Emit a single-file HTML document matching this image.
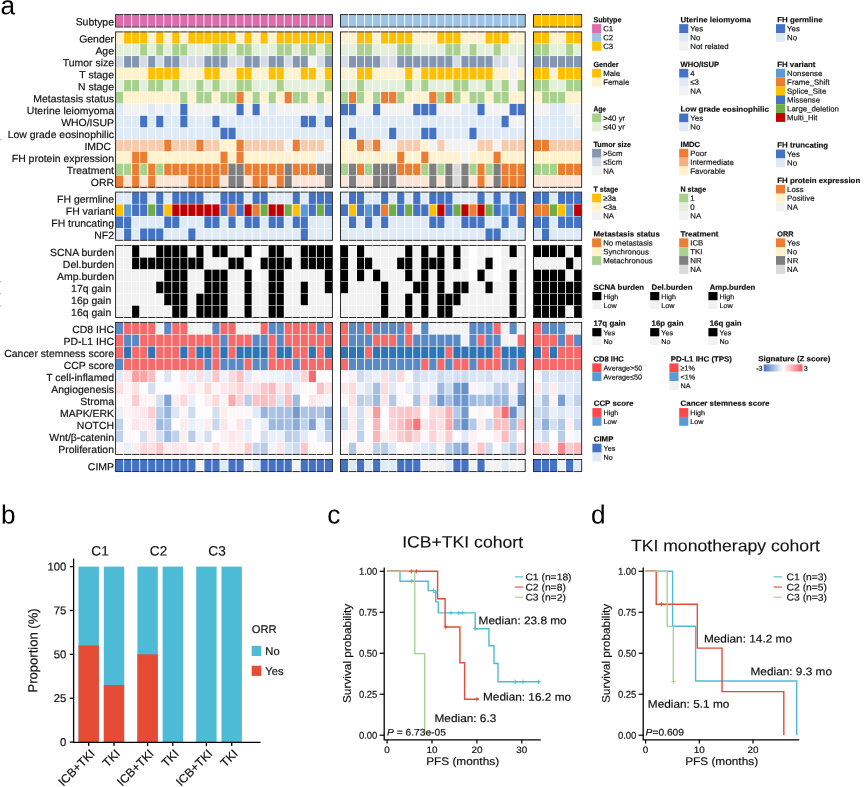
<!DOCTYPE html>
<html><head><meta charset="utf-8"><title>figure</title>
<style>html,body{margin:0;padding:0;background:#fff}svg{will-change:transform;opacity:0.999}body{width:865px;height:787px;overflow:hidden;font-family:"Liberation Sans", sans-serif}</style>
</head><body>
<svg width="865" height="787" viewBox="0 0 865 787" style="display:block;font-family:'Liberation Sans',sans-serif;text-rendering:geometricPrecision">
<rect width="865" height="787" fill="#fff"/>
<g>
<rect x="116.05" y="14.82" width="7.13" height="11.95" fill="#DD6CAD"/>
<rect x="124.08" y="14.82" width="7.13" height="11.95" fill="#DD6CAD"/>
<rect x="132.11" y="14.82" width="7.13" height="11.95" fill="#DD6CAD"/>
<rect x="140.14" y="14.82" width="7.13" height="11.95" fill="#DD6CAD"/>
<rect x="148.17" y="14.82" width="7.13" height="11.95" fill="#DD6CAD"/>
<rect x="156.20" y="14.82" width="7.13" height="11.95" fill="#DD6CAD"/>
<rect x="164.23" y="14.82" width="7.13" height="11.95" fill="#DD6CAD"/>
<rect x="172.26" y="14.82" width="7.13" height="11.95" fill="#DD6CAD"/>
<rect x="180.29" y="14.82" width="7.13" height="11.95" fill="#DD6CAD"/>
<rect x="188.32" y="14.82" width="7.13" height="11.95" fill="#DD6CAD"/>
<rect x="196.35" y="14.82" width="7.13" height="11.95" fill="#DD6CAD"/>
<rect x="204.38" y="14.82" width="7.13" height="11.95" fill="#DD6CAD"/>
<rect x="212.41" y="14.82" width="7.13" height="11.95" fill="#DD6CAD"/>
<rect x="220.44" y="14.82" width="7.13" height="11.95" fill="#DD6CAD"/>
<rect x="228.47" y="14.82" width="7.13" height="11.95" fill="#DD6CAD"/>
<rect x="236.50" y="14.82" width="7.13" height="11.95" fill="#DD6CAD"/>
<rect x="244.53" y="14.82" width="7.13" height="11.95" fill="#DD6CAD"/>
<rect x="252.56" y="14.82" width="7.13" height="11.95" fill="#DD6CAD"/>
<rect x="260.59" y="14.82" width="7.13" height="11.95" fill="#DD6CAD"/>
<rect x="268.62" y="14.82" width="7.13" height="11.95" fill="#DD6CAD"/>
<rect x="276.65" y="14.82" width="7.13" height="11.95" fill="#DD6CAD"/>
<rect x="284.68" y="14.82" width="7.13" height="11.95" fill="#DD6CAD"/>
<rect x="292.71" y="14.82" width="7.13" height="11.95" fill="#DD6CAD"/>
<rect x="300.74" y="14.82" width="7.13" height="11.95" fill="#DD6CAD"/>
<rect x="308.77" y="14.82" width="7.13" height="11.95" fill="#DD6CAD"/>
<rect x="316.80" y="14.82" width="7.13" height="11.95" fill="#DD6CAD"/>
<rect x="324.83" y="14.82" width="7.13" height="11.95" fill="#DD6CAD"/>
<rect x="340.95" y="14.82" width="7.13" height="11.95" fill="#9DC3E6"/>
<rect x="348.98" y="14.82" width="7.13" height="11.95" fill="#9DC3E6"/>
<rect x="357.01" y="14.82" width="7.13" height="11.95" fill="#9DC3E6"/>
<rect x="365.04" y="14.82" width="7.13" height="11.95" fill="#9DC3E6"/>
<rect x="373.07" y="14.82" width="7.13" height="11.95" fill="#9DC3E6"/>
<rect x="381.10" y="14.82" width="7.13" height="11.95" fill="#9DC3E6"/>
<rect x="389.13" y="14.82" width="7.13" height="11.95" fill="#9DC3E6"/>
<rect x="397.16" y="14.82" width="7.13" height="11.95" fill="#9DC3E6"/>
<rect x="405.19" y="14.82" width="7.13" height="11.95" fill="#9DC3E6"/>
<rect x="413.22" y="14.82" width="7.13" height="11.95" fill="#9DC3E6"/>
<rect x="421.25" y="14.82" width="7.13" height="11.95" fill="#9DC3E6"/>
<rect x="429.28" y="14.82" width="7.13" height="11.95" fill="#9DC3E6"/>
<rect x="437.31" y="14.82" width="7.13" height="11.95" fill="#9DC3E6"/>
<rect x="445.34" y="14.82" width="7.13" height="11.95" fill="#9DC3E6"/>
<rect x="453.37" y="14.82" width="7.13" height="11.95" fill="#9DC3E6"/>
<rect x="461.40" y="14.82" width="7.13" height="11.95" fill="#9DC3E6"/>
<rect x="469.43" y="14.82" width="7.13" height="11.95" fill="#9DC3E6"/>
<rect x="477.46" y="14.82" width="7.13" height="11.95" fill="#9DC3E6"/>
<rect x="485.49" y="14.82" width="7.13" height="11.95" fill="#9DC3E6"/>
<rect x="493.52" y="14.82" width="7.13" height="11.95" fill="#9DC3E6"/>
<rect x="501.55" y="14.82" width="7.13" height="11.95" fill="#9DC3E6"/>
<rect x="509.58" y="14.82" width="7.13" height="11.95" fill="#9DC3E6"/>
<rect x="517.61" y="14.82" width="7.13" height="11.95" fill="#9DC3E6"/>
<rect x="533.95" y="14.82" width="7.13" height="11.95" fill="#FFC000"/>
<rect x="541.98" y="14.82" width="7.13" height="11.95" fill="#FFC000"/>
<rect x="550.01" y="14.82" width="7.13" height="11.95" fill="#FFC000"/>
<rect x="558.04" y="14.82" width="7.13" height="11.95" fill="#FFC000"/>
<rect x="566.07" y="14.82" width="7.13" height="11.95" fill="#FFC000"/>
<rect x="574.10" y="14.82" width="7.13" height="11.95" fill="#FFC000"/>
<text transform="translate(114.00,25.40) rotate(0.05) scale(1.015,1)" font-size="10.3" text-anchor="end" fill="#111" stroke="#111" stroke-width="0.18">Subtype</text>
</g>
<rect x="115.60" y="14.60" width="216.81" height="12.40" fill="none" stroke="#1a1a1a" stroke-width="0.9"/>
<path d="M123.63 13.90v1.4M123.63 26.30v1.4M131.66 13.90v1.4M131.66 26.30v1.4M139.69 13.90v1.4M139.69 26.30v1.4M147.72 13.90v1.4M147.72 26.30v1.4M155.75 13.90v1.4M155.75 26.30v1.4M163.78 13.90v1.4M163.78 26.30v1.4M171.81 13.90v1.4M171.81 26.30v1.4M179.84 13.90v1.4M179.84 26.30v1.4M187.87 13.90v1.4M187.87 26.30v1.4M195.90 13.90v1.4M195.90 26.30v1.4M203.93 13.90v1.4M203.93 26.30v1.4M211.96 13.90v1.4M211.96 26.30v1.4M219.99 13.90v1.4M219.99 26.30v1.4M228.02 13.90v1.4M228.02 26.30v1.4M236.05 13.90v1.4M236.05 26.30v1.4M244.08 13.90v1.4M244.08 26.30v1.4M252.11 13.90v1.4M252.11 26.30v1.4M260.14 13.90v1.4M260.14 26.30v1.4M268.17 13.90v1.4M268.17 26.30v1.4M276.20 13.90v1.4M276.20 26.30v1.4M284.23 13.90v1.4M284.23 26.30v1.4M292.26 13.90v1.4M292.26 26.30v1.4M300.29 13.90v1.4M300.29 26.30v1.4M308.32 13.90v1.4M308.32 26.30v1.4M316.35 13.90v1.4M316.35 26.30v1.4M324.38 13.90v1.4M324.38 26.30v1.4" stroke="#fff" stroke-opacity="0.7" stroke-width="0.9" fill="none"/>
<rect x="340.50" y="14.60" width="184.69" height="12.40" fill="none" stroke="#1a1a1a" stroke-width="0.9"/>
<path d="M348.53 13.90v1.4M348.53 26.30v1.4M356.56 13.90v1.4M356.56 26.30v1.4M364.59 13.90v1.4M364.59 26.30v1.4M372.62 13.90v1.4M372.62 26.30v1.4M380.65 13.90v1.4M380.65 26.30v1.4M388.68 13.90v1.4M388.68 26.30v1.4M396.71 13.90v1.4M396.71 26.30v1.4M404.74 13.90v1.4M404.74 26.30v1.4M412.77 13.90v1.4M412.77 26.30v1.4M420.80 13.90v1.4M420.80 26.30v1.4M428.83 13.90v1.4M428.83 26.30v1.4M436.86 13.90v1.4M436.86 26.30v1.4M444.89 13.90v1.4M444.89 26.30v1.4M452.92 13.90v1.4M452.92 26.30v1.4M460.95 13.90v1.4M460.95 26.30v1.4M468.98 13.90v1.4M468.98 26.30v1.4M477.01 13.90v1.4M477.01 26.30v1.4M485.04 13.90v1.4M485.04 26.30v1.4M493.07 13.90v1.4M493.07 26.30v1.4M501.10 13.90v1.4M501.10 26.30v1.4M509.13 13.90v1.4M509.13 26.30v1.4M517.16 13.90v1.4M517.16 26.30v1.4" stroke="#fff" stroke-opacity="0.7" stroke-width="0.9" fill="none"/>
<rect x="533.50" y="14.60" width="48.18" height="12.40" fill="none" stroke="#1a1a1a" stroke-width="0.9"/>
<path d="M541.53 13.90v1.4M541.53 26.30v1.4M549.56 13.90v1.4M549.56 26.30v1.4M557.59 13.90v1.4M557.59 26.30v1.4M565.62 13.90v1.4M565.62 26.30v1.4M573.65 13.90v1.4M573.65 26.30v1.4" stroke="#fff" stroke-opacity="0.7" stroke-width="0.9" fill="none"/>
<g>
<rect x="116.05" y="32.12" width="7.13" height="11.50" fill="#FFF2CC"/>
<rect x="124.08" y="32.12" width="7.13" height="11.50" fill="#FFC000"/>
<rect x="132.11" y="32.12" width="7.13" height="11.50" fill="#FFC000"/>
<rect x="140.14" y="32.12" width="7.13" height="11.50" fill="#FFC000"/>
<rect x="148.17" y="32.12" width="7.13" height="11.50" fill="#FFF2CC"/>
<rect x="156.20" y="32.12" width="7.13" height="11.50" fill="#FFC000"/>
<rect x="164.23" y="32.12" width="7.13" height="11.50" fill="#FFF2CC"/>
<rect x="172.26" y="32.12" width="7.13" height="11.50" fill="#FFC000"/>
<rect x="180.29" y="32.12" width="7.13" height="11.50" fill="#FFF2CC"/>
<rect x="188.32" y="32.12" width="7.13" height="11.50" fill="#FFC000"/>
<rect x="196.35" y="32.12" width="7.13" height="11.50" fill="#FFC000"/>
<rect x="204.38" y="32.12" width="7.13" height="11.50" fill="#FFC000"/>
<rect x="212.41" y="32.12" width="7.13" height="11.50" fill="#FFC000"/>
<rect x="220.44" y="32.12" width="7.13" height="11.50" fill="#FFC000"/>
<rect x="228.47" y="32.12" width="7.13" height="11.50" fill="#FFC000"/>
<rect x="236.50" y="32.12" width="7.13" height="11.50" fill="#FFF2CC"/>
<rect x="244.53" y="32.12" width="7.13" height="11.50" fill="#FFC000"/>
<rect x="252.56" y="32.12" width="7.13" height="11.50" fill="#FFF2CC"/>
<rect x="260.59" y="32.12" width="7.13" height="11.50" fill="#FFC000"/>
<rect x="268.62" y="32.12" width="7.13" height="11.50" fill="#FFF2CC"/>
<rect x="276.65" y="32.12" width="7.13" height="11.50" fill="#FFC000"/>
<rect x="284.68" y="32.12" width="7.13" height="11.50" fill="#FFC000"/>
<rect x="292.71" y="32.12" width="7.13" height="11.50" fill="#FFC000"/>
<rect x="300.74" y="32.12" width="7.13" height="11.50" fill="#FFC000"/>
<rect x="308.77" y="32.12" width="7.13" height="11.50" fill="#FFC000"/>
<rect x="316.80" y="32.12" width="7.13" height="11.50" fill="#FFC000"/>
<rect x="324.83" y="32.12" width="7.13" height="11.50" fill="#FFC000"/>
<rect x="340.95" y="32.12" width="7.13" height="11.50" fill="#FFF2CC"/>
<rect x="348.98" y="32.12" width="7.13" height="11.50" fill="#FFF2CC"/>
<rect x="357.01" y="32.12" width="7.13" height="11.50" fill="#FFC000"/>
<rect x="365.04" y="32.12" width="7.13" height="11.50" fill="#FFC000"/>
<rect x="373.07" y="32.12" width="7.13" height="11.50" fill="#FFF2CC"/>
<rect x="381.10" y="32.12" width="7.13" height="11.50" fill="#FFC000"/>
<rect x="389.13" y="32.12" width="7.13" height="11.50" fill="#FFC000"/>
<rect x="397.16" y="32.12" width="7.13" height="11.50" fill="#FFC000"/>
<rect x="405.19" y="32.12" width="7.13" height="11.50" fill="#FFC000"/>
<rect x="413.22" y="32.12" width="7.13" height="11.50" fill="#FFF2CC"/>
<rect x="421.25" y="32.12" width="7.13" height="11.50" fill="#FFF2CC"/>
<rect x="429.28" y="32.12" width="7.13" height="11.50" fill="#FFF2CC"/>
<rect x="437.31" y="32.12" width="7.13" height="11.50" fill="#FFC000"/>
<rect x="445.34" y="32.12" width="7.13" height="11.50" fill="#FFC000"/>
<rect x="453.37" y="32.12" width="7.13" height="11.50" fill="#FFC000"/>
<rect x="461.40" y="32.12" width="7.13" height="11.50" fill="#FFF2CC"/>
<rect x="469.43" y="32.12" width="7.13" height="11.50" fill="#FFF2CC"/>
<rect x="477.46" y="32.12" width="7.13" height="11.50" fill="#FFF2CC"/>
<rect x="485.49" y="32.12" width="7.13" height="11.50" fill="#FFC000"/>
<rect x="493.52" y="32.12" width="7.13" height="11.50" fill="#FFC000"/>
<rect x="501.55" y="32.12" width="7.13" height="11.50" fill="#FFC000"/>
<rect x="509.58" y="32.12" width="7.13" height="11.50" fill="#FFF2CC"/>
<rect x="517.61" y="32.12" width="7.13" height="11.50" fill="#FFF2CC"/>
<rect x="533.95" y="32.12" width="7.13" height="11.50" fill="#FFC000"/>
<rect x="541.98" y="32.12" width="7.13" height="11.50" fill="#FFC000"/>
<rect x="550.01" y="32.12" width="7.13" height="11.50" fill="#FFF2CC"/>
<rect x="558.04" y="32.12" width="7.13" height="11.50" fill="#FFF2CC"/>
<rect x="566.07" y="32.12" width="7.13" height="11.50" fill="#FFC000"/>
<rect x="574.10" y="32.12" width="7.13" height="11.50" fill="#FFC000"/>
<text transform="translate(114.00,42.48) rotate(0.05) scale(1.015,1)" font-size="10.3" text-anchor="end" fill="#111" stroke="#111" stroke-width="0.18">Gender</text>
<rect x="116.05" y="44.08" width="7.13" height="11.50" fill="#E2F0D9"/>
<rect x="124.08" y="44.08" width="7.13" height="11.50" fill="#E2F0D9"/>
<rect x="132.11" y="44.08" width="7.13" height="11.50" fill="#E2F0D9"/>
<rect x="140.14" y="44.08" width="7.13" height="11.50" fill="#A9D18E"/>
<rect x="148.17" y="44.08" width="7.13" height="11.50" fill="#E2F0D9"/>
<rect x="156.20" y="44.08" width="7.13" height="11.50" fill="#A9D18E"/>
<rect x="164.23" y="44.08" width="7.13" height="11.50" fill="#E2F0D9"/>
<rect x="172.26" y="44.08" width="7.13" height="11.50" fill="#A9D18E"/>
<rect x="180.29" y="44.08" width="7.13" height="11.50" fill="#A9D18E"/>
<rect x="188.32" y="44.08" width="7.13" height="11.50" fill="#E2F0D9"/>
<rect x="196.35" y="44.08" width="7.13" height="11.50" fill="#E2F0D9"/>
<rect x="204.38" y="44.08" width="7.13" height="11.50" fill="#E2F0D9"/>
<rect x="212.41" y="44.08" width="7.13" height="11.50" fill="#A9D18E"/>
<rect x="220.44" y="44.08" width="7.13" height="11.50" fill="#A9D18E"/>
<rect x="228.47" y="44.08" width="7.13" height="11.50" fill="#E2F0D9"/>
<rect x="236.50" y="44.08" width="7.13" height="11.50" fill="#A9D18E"/>
<rect x="244.53" y="44.08" width="7.13" height="11.50" fill="#A9D18E"/>
<rect x="252.56" y="44.08" width="7.13" height="11.50" fill="#E2F0D9"/>
<rect x="260.59" y="44.08" width="7.13" height="11.50" fill="#E2F0D9"/>
<rect x="268.62" y="44.08" width="7.13" height="11.50" fill="#E2F0D9"/>
<rect x="276.65" y="44.08" width="7.13" height="11.50" fill="#A9D18E"/>
<rect x="284.68" y="44.08" width="7.13" height="11.50" fill="#A9D18E"/>
<rect x="292.71" y="44.08" width="7.13" height="11.50" fill="#E2F0D9"/>
<rect x="300.74" y="44.08" width="7.13" height="11.50" fill="#A9D18E"/>
<rect x="308.77" y="44.08" width="7.13" height="11.50" fill="#A9D18E"/>
<rect x="316.80" y="44.08" width="7.13" height="11.50" fill="#E2F0D9"/>
<rect x="324.83" y="44.08" width="7.13" height="11.50" fill="#A9D18E"/>
<rect x="340.95" y="44.08" width="7.13" height="11.50" fill="#E2F0D9"/>
<rect x="348.98" y="44.08" width="7.13" height="11.50" fill="#E2F0D9"/>
<rect x="357.01" y="44.08" width="7.13" height="11.50" fill="#A9D18E"/>
<rect x="365.04" y="44.08" width="7.13" height="11.50" fill="#A9D18E"/>
<rect x="373.07" y="44.08" width="7.13" height="11.50" fill="#E2F0D9"/>
<rect x="381.10" y="44.08" width="7.13" height="11.50" fill="#E2F0D9"/>
<rect x="389.13" y="44.08" width="7.13" height="11.50" fill="#E2F0D9"/>
<rect x="397.16" y="44.08" width="7.13" height="11.50" fill="#A9D18E"/>
<rect x="405.19" y="44.08" width="7.13" height="11.50" fill="#A9D18E"/>
<rect x="413.22" y="44.08" width="7.13" height="11.50" fill="#E2F0D9"/>
<rect x="421.25" y="44.08" width="7.13" height="11.50" fill="#E2F0D9"/>
<rect x="429.28" y="44.08" width="7.13" height="11.50" fill="#E2F0D9"/>
<rect x="437.31" y="44.08" width="7.13" height="11.50" fill="#E2F0D9"/>
<rect x="445.34" y="44.08" width="7.13" height="11.50" fill="#A9D18E"/>
<rect x="453.37" y="44.08" width="7.13" height="11.50" fill="#A9D18E"/>
<rect x="461.40" y="44.08" width="7.13" height="11.50" fill="#E2F0D9"/>
<rect x="469.43" y="44.08" width="7.13" height="11.50" fill="#A9D18E"/>
<rect x="477.46" y="44.08" width="7.13" height="11.50" fill="#E2F0D9"/>
<rect x="485.49" y="44.08" width="7.13" height="11.50" fill="#E2F0D9"/>
<rect x="493.52" y="44.08" width="7.13" height="11.50" fill="#A9D18E"/>
<rect x="501.55" y="44.08" width="7.13" height="11.50" fill="#E2F0D9"/>
<rect x="509.58" y="44.08" width="7.13" height="11.50" fill="#E2F0D9"/>
<rect x="517.61" y="44.08" width="7.13" height="11.50" fill="#E2F0D9"/>
<rect x="533.95" y="44.08" width="7.13" height="11.50" fill="#A9D18E"/>
<rect x="541.98" y="44.08" width="7.13" height="11.50" fill="#A9D18E"/>
<rect x="550.01" y="44.08" width="7.13" height="11.50" fill="#E2F0D9"/>
<rect x="558.04" y="44.08" width="7.13" height="11.50" fill="#E2F0D9"/>
<rect x="566.07" y="44.08" width="7.13" height="11.50" fill="#A9D18E"/>
<rect x="574.10" y="44.08" width="7.13" height="11.50" fill="#E2F0D9"/>
<text transform="translate(114.00,54.43) rotate(0.05) scale(1.015,1)" font-size="10.3" text-anchor="end" fill="#111" stroke="#111" stroke-width="0.18">Age</text>
<rect x="116.05" y="56.03" width="7.13" height="11.50" fill="#D6DCE5"/>
<rect x="124.08" y="56.03" width="7.13" height="11.50" fill="#8497B0"/>
<rect x="132.11" y="56.03" width="7.13" height="11.50" fill="#8497B0"/>
<rect x="140.14" y="56.03" width="7.13" height="11.50" fill="#D6DCE5"/>
<rect x="148.17" y="56.03" width="7.13" height="11.50" fill="#8497B0"/>
<rect x="156.20" y="56.03" width="7.13" height="11.50" fill="#D6DCE5"/>
<rect x="164.23" y="56.03" width="7.13" height="11.50" fill="#8497B0"/>
<rect x="172.26" y="56.03" width="7.13" height="11.50" fill="#8497B0"/>
<rect x="180.29" y="56.03" width="7.13" height="11.50" fill="#D6DCE5"/>
<rect x="188.32" y="56.03" width="7.13" height="11.50" fill="#D6DCE5"/>
<rect x="196.35" y="56.03" width="7.13" height="11.50" fill="#D6DCE5"/>
<rect x="204.38" y="56.03" width="7.13" height="11.50" fill="#8497B0"/>
<rect x="212.41" y="56.03" width="7.13" height="11.50" fill="#8497B0"/>
<rect x="220.44" y="56.03" width="7.13" height="11.50" fill="#8497B0"/>
<rect x="228.47" y="56.03" width="7.13" height="11.50" fill="#D6DCE5"/>
<rect x="236.50" y="56.03" width="7.13" height="11.50" fill="#D6DCE5"/>
<rect x="244.53" y="56.03" width="7.13" height="11.50" fill="#8497B0"/>
<rect x="252.56" y="56.03" width="7.13" height="11.50" fill="#8497B0"/>
<rect x="260.59" y="56.03" width="7.13" height="11.50" fill="#D6DCE5"/>
<rect x="268.62" y="56.03" width="7.13" height="11.50" fill="#8497B0"/>
<rect x="276.65" y="56.03" width="7.13" height="11.50" fill="#8497B0"/>
<rect x="284.68" y="56.03" width="7.13" height="11.50" fill="#D6DCE5"/>
<rect x="292.71" y="56.03" width="7.13" height="11.50" fill="#8497B0"/>
<rect x="300.74" y="56.03" width="7.13" height="11.50" fill="#8497B0"/>
<rect x="308.77" y="56.03" width="7.13" height="11.50" fill="#F2F2F2"/>
<rect x="316.80" y="56.03" width="7.13" height="11.50" fill="#D6DCE5"/>
<rect x="324.83" y="56.03" width="7.13" height="11.50" fill="#8497B0"/>
<rect x="340.95" y="56.03" width="7.13" height="11.50" fill="#D6DCE5"/>
<rect x="348.98" y="56.03" width="7.13" height="11.50" fill="#8497B0"/>
<rect x="357.01" y="56.03" width="7.13" height="11.50" fill="#8497B0"/>
<rect x="365.04" y="56.03" width="7.13" height="11.50" fill="#8497B0"/>
<rect x="373.07" y="56.03" width="7.13" height="11.50" fill="#8497B0"/>
<rect x="381.10" y="56.03" width="7.13" height="11.50" fill="#D6DCE5"/>
<rect x="389.13" y="56.03" width="7.13" height="11.50" fill="#D6DCE5"/>
<rect x="397.16" y="56.03" width="7.13" height="11.50" fill="#8497B0"/>
<rect x="405.19" y="56.03" width="7.13" height="11.50" fill="#8497B0"/>
<rect x="413.22" y="56.03" width="7.13" height="11.50" fill="#8497B0"/>
<rect x="421.25" y="56.03" width="7.13" height="11.50" fill="#8497B0"/>
<rect x="429.28" y="56.03" width="7.13" height="11.50" fill="#8497B0"/>
<rect x="437.31" y="56.03" width="7.13" height="11.50" fill="#8497B0"/>
<rect x="445.34" y="56.03" width="7.13" height="11.50" fill="#8497B0"/>
<rect x="453.37" y="56.03" width="7.13" height="11.50" fill="#D6DCE5"/>
<rect x="461.40" y="56.03" width="7.13" height="11.50" fill="#8497B0"/>
<rect x="469.43" y="56.03" width="7.13" height="11.50" fill="#8497B0"/>
<rect x="477.46" y="56.03" width="7.13" height="11.50" fill="#8497B0"/>
<rect x="485.49" y="56.03" width="7.13" height="11.50" fill="#8497B0"/>
<rect x="493.52" y="56.03" width="7.13" height="11.50" fill="#D6DCE5"/>
<rect x="501.55" y="56.03" width="7.13" height="11.50" fill="#D6DCE5"/>
<rect x="509.58" y="56.03" width="7.13" height="11.50" fill="#F2F2F2"/>
<rect x="517.61" y="56.03" width="7.13" height="11.50" fill="#D6DCE5"/>
<rect x="533.95" y="56.03" width="7.13" height="11.50" fill="#8497B0"/>
<rect x="541.98" y="56.03" width="7.13" height="11.50" fill="#8497B0"/>
<rect x="550.01" y="56.03" width="7.13" height="11.50" fill="#8497B0"/>
<rect x="558.04" y="56.03" width="7.13" height="11.50" fill="#8497B0"/>
<rect x="566.07" y="56.03" width="7.13" height="11.50" fill="#8497B0"/>
<rect x="574.10" y="56.03" width="7.13" height="11.50" fill="#8497B0"/>
<text transform="translate(114.00,66.38) rotate(0.05) scale(1.015,1)" font-size="10.3" text-anchor="end" fill="#111" stroke="#111" stroke-width="0.18">Tumor size</text>
<rect x="116.05" y="67.99" width="7.13" height="11.50" fill="#FFF2CC"/>
<rect x="124.08" y="67.99" width="7.13" height="11.50" fill="#FFF2CC"/>
<rect x="132.11" y="67.99" width="7.13" height="11.50" fill="#FFF2CC"/>
<rect x="140.14" y="67.99" width="7.13" height="11.50" fill="#FFF2CC"/>
<rect x="148.17" y="67.99" width="7.13" height="11.50" fill="#FFC000"/>
<rect x="156.20" y="67.99" width="7.13" height="11.50" fill="#FFC000"/>
<rect x="164.23" y="67.99" width="7.13" height="11.50" fill="#FFC000"/>
<rect x="172.26" y="67.99" width="7.13" height="11.50" fill="#FFC000"/>
<rect x="180.29" y="67.99" width="7.13" height="11.50" fill="#FFF2CC"/>
<rect x="188.32" y="67.99" width="7.13" height="11.50" fill="#FFF2CC"/>
<rect x="196.35" y="67.99" width="7.13" height="11.50" fill="#FFF2CC"/>
<rect x="204.38" y="67.99" width="7.13" height="11.50" fill="#FFC000"/>
<rect x="212.41" y="67.99" width="7.13" height="11.50" fill="#FFC000"/>
<rect x="220.44" y="67.99" width="7.13" height="11.50" fill="#FFF2CC"/>
<rect x="228.47" y="67.99" width="7.13" height="11.50" fill="#FFF2CC"/>
<rect x="236.50" y="67.99" width="7.13" height="11.50" fill="#FFC000"/>
<rect x="244.53" y="67.99" width="7.13" height="11.50" fill="#FFC000"/>
<rect x="252.56" y="67.99" width="7.13" height="11.50" fill="#FFF2CC"/>
<rect x="260.59" y="67.99" width="7.13" height="11.50" fill="#FFF2CC"/>
<rect x="268.62" y="67.99" width="7.13" height="11.50" fill="#FFC000"/>
<rect x="276.65" y="67.99" width="7.13" height="11.50" fill="#FFC000"/>
<rect x="284.68" y="67.99" width="7.13" height="11.50" fill="#FFF2CC"/>
<rect x="292.71" y="67.99" width="7.13" height="11.50" fill="#FFF2CC"/>
<rect x="300.74" y="67.99" width="7.13" height="11.50" fill="#FFC000"/>
<rect x="308.77" y="67.99" width="7.13" height="11.50" fill="#FFC000"/>
<rect x="316.80" y="67.99" width="7.13" height="11.50" fill="#FFF2CC"/>
<rect x="324.83" y="67.99" width="7.13" height="11.50" fill="#FFC000"/>
<rect x="340.95" y="67.99" width="7.13" height="11.50" fill="#FFF2CC"/>
<rect x="348.98" y="67.99" width="7.13" height="11.50" fill="#FFF2CC"/>
<rect x="357.01" y="67.99" width="7.13" height="11.50" fill="#FFC000"/>
<rect x="365.04" y="67.99" width="7.13" height="11.50" fill="#FFC000"/>
<rect x="373.07" y="67.99" width="7.13" height="11.50" fill="#FFF2CC"/>
<rect x="381.10" y="67.99" width="7.13" height="11.50" fill="#FFF2CC"/>
<rect x="389.13" y="67.99" width="7.13" height="11.50" fill="#FFF2CC"/>
<rect x="397.16" y="67.99" width="7.13" height="11.50" fill="#FFF2CC"/>
<rect x="405.19" y="67.99" width="7.13" height="11.50" fill="#FFC000"/>
<rect x="413.22" y="67.99" width="7.13" height="11.50" fill="#FFF2CC"/>
<rect x="421.25" y="67.99" width="7.13" height="11.50" fill="#FFC000"/>
<rect x="429.28" y="67.99" width="7.13" height="11.50" fill="#FFC000"/>
<rect x="437.31" y="67.99" width="7.13" height="11.50" fill="#FFC000"/>
<rect x="445.34" y="67.99" width="7.13" height="11.50" fill="#FFC000"/>
<rect x="453.37" y="67.99" width="7.13" height="11.50" fill="#FFC000"/>
<rect x="461.40" y="67.99" width="7.13" height="11.50" fill="#FFC000"/>
<rect x="469.43" y="67.99" width="7.13" height="11.50" fill="#FFC000"/>
<rect x="477.46" y="67.99" width="7.13" height="11.50" fill="#FFC000"/>
<rect x="485.49" y="67.99" width="7.13" height="11.50" fill="#FFC000"/>
<rect x="493.52" y="67.99" width="7.13" height="11.50" fill="#FFF2CC"/>
<rect x="501.55" y="67.99" width="7.13" height="11.50" fill="#FFF2CC"/>
<rect x="509.58" y="67.99" width="7.13" height="11.50" fill="#F2F2F2"/>
<rect x="517.61" y="67.99" width="7.13" height="11.50" fill="#FFF2CC"/>
<rect x="533.95" y="67.99" width="7.13" height="11.50" fill="#FFC000"/>
<rect x="541.98" y="67.99" width="7.13" height="11.50" fill="#FFC000"/>
<rect x="550.01" y="67.99" width="7.13" height="11.50" fill="#FFF2CC"/>
<rect x="558.04" y="67.99" width="7.13" height="11.50" fill="#FFC000"/>
<rect x="566.07" y="67.99" width="7.13" height="11.50" fill="#FFC000"/>
<rect x="574.10" y="67.99" width="7.13" height="11.50" fill="#FFC000"/>
<text transform="translate(114.00,78.34) rotate(0.05) scale(1.015,1)" font-size="10.3" text-anchor="end" fill="#111" stroke="#111" stroke-width="0.18">T stage</text>
<rect x="116.05" y="79.94" width="7.13" height="11.50" fill="#E2F0D9"/>
<rect x="124.08" y="79.94" width="7.13" height="11.50" fill="#A9D18E"/>
<rect x="132.11" y="79.94" width="7.13" height="11.50" fill="#A9D18E"/>
<rect x="140.14" y="79.94" width="7.13" height="11.50" fill="#E2F0D9"/>
<rect x="148.17" y="79.94" width="7.13" height="11.50" fill="#A9D18E"/>
<rect x="156.20" y="79.94" width="7.13" height="11.50" fill="#A9D18E"/>
<rect x="164.23" y="79.94" width="7.13" height="11.50" fill="#E2F0D9"/>
<rect x="172.26" y="79.94" width="7.13" height="11.50" fill="#A9D18E"/>
<rect x="180.29" y="79.94" width="7.13" height="11.50" fill="#E2F0D9"/>
<rect x="188.32" y="79.94" width="7.13" height="11.50" fill="#E2F0D9"/>
<rect x="196.35" y="79.94" width="7.13" height="11.50" fill="#A9D18E"/>
<rect x="204.38" y="79.94" width="7.13" height="11.50" fill="#E2F0D9"/>
<rect x="212.41" y="79.94" width="7.13" height="11.50" fill="#A9D18E"/>
<rect x="220.44" y="79.94" width="7.13" height="11.50" fill="#E2F0D9"/>
<rect x="228.47" y="79.94" width="7.13" height="11.50" fill="#E2F0D9"/>
<rect x="236.50" y="79.94" width="7.13" height="11.50" fill="#A9D18E"/>
<rect x="244.53" y="79.94" width="7.13" height="11.50" fill="#A9D18E"/>
<rect x="252.56" y="79.94" width="7.13" height="11.50" fill="#E2F0D9"/>
<rect x="260.59" y="79.94" width="7.13" height="11.50" fill="#E2F0D9"/>
<rect x="268.62" y="79.94" width="7.13" height="11.50" fill="#E2F0D9"/>
<rect x="276.65" y="79.94" width="7.13" height="11.50" fill="#A9D18E"/>
<rect x="284.68" y="79.94" width="7.13" height="11.50" fill="#E2F0D9"/>
<rect x="292.71" y="79.94" width="7.13" height="11.50" fill="#E2F0D9"/>
<rect x="300.74" y="79.94" width="7.13" height="11.50" fill="#E2F0D9"/>
<rect x="308.77" y="79.94" width="7.13" height="11.50" fill="#E2F0D9"/>
<rect x="316.80" y="79.94" width="7.13" height="11.50" fill="#E2F0D9"/>
<rect x="324.83" y="79.94" width="7.13" height="11.50" fill="#A9D18E"/>
<rect x="340.95" y="79.94" width="7.13" height="11.50" fill="#E2F0D9"/>
<rect x="348.98" y="79.94" width="7.13" height="11.50" fill="#E2F0D9"/>
<rect x="357.01" y="79.94" width="7.13" height="11.50" fill="#A9D18E"/>
<rect x="365.04" y="79.94" width="7.13" height="11.50" fill="#E2F0D9"/>
<rect x="373.07" y="79.94" width="7.13" height="11.50" fill="#E2F0D9"/>
<rect x="381.10" y="79.94" width="7.13" height="11.50" fill="#E2F0D9"/>
<rect x="389.13" y="79.94" width="7.13" height="11.50" fill="#E2F0D9"/>
<rect x="397.16" y="79.94" width="7.13" height="11.50" fill="#E2F0D9"/>
<rect x="405.19" y="79.94" width="7.13" height="11.50" fill="#A9D18E"/>
<rect x="413.22" y="79.94" width="7.13" height="11.50" fill="#E2F0D9"/>
<rect x="421.25" y="79.94" width="7.13" height="11.50" fill="#A9D18E"/>
<rect x="429.28" y="79.94" width="7.13" height="11.50" fill="#E2F0D9"/>
<rect x="437.31" y="79.94" width="7.13" height="11.50" fill="#E2F0D9"/>
<rect x="445.34" y="79.94" width="7.13" height="11.50" fill="#E2F0D9"/>
<rect x="453.37" y="79.94" width="7.13" height="11.50" fill="#A9D18E"/>
<rect x="461.40" y="79.94" width="7.13" height="11.50" fill="#A9D18E"/>
<rect x="469.43" y="79.94" width="7.13" height="11.50" fill="#E2F0D9"/>
<rect x="477.46" y="79.94" width="7.13" height="11.50" fill="#E2F0D9"/>
<rect x="485.49" y="79.94" width="7.13" height="11.50" fill="#A9D18E"/>
<rect x="493.52" y="79.94" width="7.13" height="11.50" fill="#E2F0D9"/>
<rect x="501.55" y="79.94" width="7.13" height="11.50" fill="#A9D18E"/>
<rect x="509.58" y="79.94" width="7.13" height="11.50" fill="#F2F2F2"/>
<rect x="517.61" y="79.94" width="7.13" height="11.50" fill="#A9D18E"/>
<rect x="533.95" y="79.94" width="7.13" height="11.50" fill="#A9D18E"/>
<rect x="541.98" y="79.94" width="7.13" height="11.50" fill="#A9D18E"/>
<rect x="550.01" y="79.94" width="7.13" height="11.50" fill="#E2F0D9"/>
<rect x="558.04" y="79.94" width="7.13" height="11.50" fill="#E2F0D9"/>
<rect x="566.07" y="79.94" width="7.13" height="11.50" fill="#A9D18E"/>
<rect x="574.10" y="79.94" width="7.13" height="11.50" fill="#A9D18E"/>
<text transform="translate(114.00,90.29) rotate(0.05) scale(1.015,1)" font-size="10.3" text-anchor="end" fill="#111" stroke="#111" stroke-width="0.18">N stage</text>
<rect x="116.05" y="91.89" width="7.13" height="11.50" fill="#A9D18E"/>
<rect x="124.08" y="91.89" width="7.13" height="11.50" fill="#FFF2CC"/>
<rect x="132.11" y="91.89" width="7.13" height="11.50" fill="#FFF2CC"/>
<rect x="140.14" y="91.89" width="7.13" height="11.50" fill="#FFF2CC"/>
<rect x="148.17" y="91.89" width="7.13" height="11.50" fill="#FFF2CC"/>
<rect x="156.20" y="91.89" width="7.13" height="11.50" fill="#FFF2CC"/>
<rect x="164.23" y="91.89" width="7.13" height="11.50" fill="#FFF2CC"/>
<rect x="172.26" y="91.89" width="7.13" height="11.50" fill="#FFF2CC"/>
<rect x="180.29" y="91.89" width="7.13" height="11.50" fill="#A9D18E"/>
<rect x="188.32" y="91.89" width="7.13" height="11.50" fill="#FFF2CC"/>
<rect x="196.35" y="91.89" width="7.13" height="11.50" fill="#A9D18E"/>
<rect x="204.38" y="91.89" width="7.13" height="11.50" fill="#A9D18E"/>
<rect x="212.41" y="91.89" width="7.13" height="11.50" fill="#FFF2CC"/>
<rect x="220.44" y="91.89" width="7.13" height="11.50" fill="#A9D18E"/>
<rect x="228.47" y="91.89" width="7.13" height="11.50" fill="#A9D18E"/>
<rect x="236.50" y="91.89" width="7.13" height="11.50" fill="#ED7D31"/>
<rect x="244.53" y="91.89" width="7.13" height="11.50" fill="#FFF2CC"/>
<rect x="252.56" y="91.89" width="7.13" height="11.50" fill="#A9D18E"/>
<rect x="260.59" y="91.89" width="7.13" height="11.50" fill="#FFF2CC"/>
<rect x="268.62" y="91.89" width="7.13" height="11.50" fill="#A9D18E"/>
<rect x="276.65" y="91.89" width="7.13" height="11.50" fill="#FFF2CC"/>
<rect x="284.68" y="91.89" width="7.13" height="11.50" fill="#ED7D31"/>
<rect x="292.71" y="91.89" width="7.13" height="11.50" fill="#A9D18E"/>
<rect x="300.74" y="91.89" width="7.13" height="11.50" fill="#A9D18E"/>
<rect x="308.77" y="91.89" width="7.13" height="11.50" fill="#FFF2CC"/>
<rect x="316.80" y="91.89" width="7.13" height="11.50" fill="#A9D18E"/>
<rect x="324.83" y="91.89" width="7.13" height="11.50" fill="#FFF2CC"/>
<rect x="340.95" y="91.89" width="7.13" height="11.50" fill="#A9D18E"/>
<rect x="348.98" y="91.89" width="7.13" height="11.50" fill="#ED7D31"/>
<rect x="357.01" y="91.89" width="7.13" height="11.50" fill="#A9D18E"/>
<rect x="365.04" y="91.89" width="7.13" height="11.50" fill="#FFF2CC"/>
<rect x="373.07" y="91.89" width="7.13" height="11.50" fill="#A9D18E"/>
<rect x="381.10" y="91.89" width="7.13" height="11.50" fill="#ED7D31"/>
<rect x="389.13" y="91.89" width="7.13" height="11.50" fill="#ED7D31"/>
<rect x="397.16" y="91.89" width="7.13" height="11.50" fill="#A9D18E"/>
<rect x="405.19" y="91.89" width="7.13" height="11.50" fill="#FFF2CC"/>
<rect x="413.22" y="91.89" width="7.13" height="11.50" fill="#FFF2CC"/>
<rect x="421.25" y="91.89" width="7.13" height="11.50" fill="#FFF2CC"/>
<rect x="429.28" y="91.89" width="7.13" height="11.50" fill="#ED7D31"/>
<rect x="437.31" y="91.89" width="7.13" height="11.50" fill="#A9D18E"/>
<rect x="445.34" y="91.89" width="7.13" height="11.50" fill="#ED7D31"/>
<rect x="453.37" y="91.89" width="7.13" height="11.50" fill="#A9D18E"/>
<rect x="461.40" y="91.89" width="7.13" height="11.50" fill="#FFF2CC"/>
<rect x="469.43" y="91.89" width="7.13" height="11.50" fill="#A9D18E"/>
<rect x="477.46" y="91.89" width="7.13" height="11.50" fill="#A9D18E"/>
<rect x="485.49" y="91.89" width="7.13" height="11.50" fill="#FFF2CC"/>
<rect x="493.52" y="91.89" width="7.13" height="11.50" fill="#A9D18E"/>
<rect x="501.55" y="91.89" width="7.13" height="11.50" fill="#A9D18E"/>
<rect x="509.58" y="91.89" width="7.13" height="11.50" fill="#FFF2CC"/>
<rect x="517.61" y="91.89" width="7.13" height="11.50" fill="#FFF2CC"/>
<rect x="533.95" y="91.89" width="7.13" height="11.50" fill="#FFF2CC"/>
<rect x="541.98" y="91.89" width="7.13" height="11.50" fill="#A9D18E"/>
<rect x="550.01" y="91.89" width="7.13" height="11.50" fill="#A9D18E"/>
<rect x="558.04" y="91.89" width="7.13" height="11.50" fill="#A9D18E"/>
<rect x="566.07" y="91.89" width="7.13" height="11.50" fill="#FFF2CC"/>
<rect x="574.10" y="91.89" width="7.13" height="11.50" fill="#FFF2CC"/>
<text transform="translate(114.00,102.25) rotate(0.05) scale(1.015,1)" font-size="10.3" text-anchor="end" fill="#111" stroke="#111" stroke-width="0.18">Metastasis status</text>
<rect x="116.05" y="103.85" width="7.13" height="11.50" fill="#DEEBF7"/>
<rect x="124.08" y="103.85" width="7.13" height="11.50" fill="#F2F2F2"/>
<rect x="132.11" y="103.85" width="7.13" height="11.50" fill="#F2F2F2"/>
<rect x="140.14" y="103.85" width="7.13" height="11.50" fill="#F2F2F2"/>
<rect x="148.17" y="103.85" width="7.13" height="11.50" fill="#DEEBF7"/>
<rect x="156.20" y="103.85" width="7.13" height="11.50" fill="#F2F2F2"/>
<rect x="164.23" y="103.85" width="7.13" height="11.50" fill="#DEEBF7"/>
<rect x="172.26" y="103.85" width="7.13" height="11.50" fill="#F2F2F2"/>
<rect x="180.29" y="103.85" width="7.13" height="11.50" fill="#4472C4"/>
<rect x="188.32" y="103.85" width="7.13" height="11.50" fill="#F2F2F2"/>
<rect x="196.35" y="103.85" width="7.13" height="11.50" fill="#F2F2F2"/>
<rect x="204.38" y="103.85" width="7.13" height="11.50" fill="#F2F2F2"/>
<rect x="212.41" y="103.85" width="7.13" height="11.50" fill="#F2F2F2"/>
<rect x="220.44" y="103.85" width="7.13" height="11.50" fill="#F2F2F2"/>
<rect x="228.47" y="103.85" width="7.13" height="11.50" fill="#F2F2F2"/>
<rect x="236.50" y="103.85" width="7.13" height="11.50" fill="#4472C4"/>
<rect x="244.53" y="103.85" width="7.13" height="11.50" fill="#F2F2F2"/>
<rect x="252.56" y="103.85" width="7.13" height="11.50" fill="#4472C4"/>
<rect x="260.59" y="103.85" width="7.13" height="11.50" fill="#F2F2F2"/>
<rect x="268.62" y="103.85" width="7.13" height="11.50" fill="#DEEBF7"/>
<rect x="276.65" y="103.85" width="7.13" height="11.50" fill="#F2F2F2"/>
<rect x="284.68" y="103.85" width="7.13" height="11.50" fill="#F2F2F2"/>
<rect x="292.71" y="103.85" width="7.13" height="11.50" fill="#F2F2F2"/>
<rect x="300.74" y="103.85" width="7.13" height="11.50" fill="#F2F2F2"/>
<rect x="308.77" y="103.85" width="7.13" height="11.50" fill="#F2F2F2"/>
<rect x="316.80" y="103.85" width="7.13" height="11.50" fill="#DEEBF7"/>
<rect x="324.83" y="103.85" width="7.13" height="11.50" fill="#F2F2F2"/>
<rect x="340.95" y="103.85" width="7.13" height="11.50" fill="#4472C4"/>
<rect x="348.98" y="103.85" width="7.13" height="11.50" fill="#4472C4"/>
<rect x="357.01" y="103.85" width="7.13" height="11.50" fill="#F2F2F2"/>
<rect x="365.04" y="103.85" width="7.13" height="11.50" fill="#F2F2F2"/>
<rect x="373.07" y="103.85" width="7.13" height="11.50" fill="#4472C4"/>
<rect x="381.10" y="103.85" width="7.13" height="11.50" fill="#F2F2F2"/>
<rect x="389.13" y="103.85" width="7.13" height="11.50" fill="#F2F2F2"/>
<rect x="397.16" y="103.85" width="7.13" height="11.50" fill="#F2F2F2"/>
<rect x="405.19" y="103.85" width="7.13" height="11.50" fill="#F2F2F2"/>
<rect x="413.22" y="103.85" width="7.13" height="11.50" fill="#4472C4"/>
<rect x="421.25" y="103.85" width="7.13" height="11.50" fill="#4472C4"/>
<rect x="429.28" y="103.85" width="7.13" height="11.50" fill="#4472C4"/>
<rect x="437.31" y="103.85" width="7.13" height="11.50" fill="#F2F2F2"/>
<rect x="445.34" y="103.85" width="7.13" height="11.50" fill="#F2F2F2"/>
<rect x="453.37" y="103.85" width="7.13" height="11.50" fill="#F2F2F2"/>
<rect x="461.40" y="103.85" width="7.13" height="11.50" fill="#DEEBF7"/>
<rect x="469.43" y="103.85" width="7.13" height="11.50" fill="#DEEBF7"/>
<rect x="477.46" y="103.85" width="7.13" height="11.50" fill="#4472C4"/>
<rect x="485.49" y="103.85" width="7.13" height="11.50" fill="#F2F2F2"/>
<rect x="493.52" y="103.85" width="7.13" height="11.50" fill="#F2F2F2"/>
<rect x="501.55" y="103.85" width="7.13" height="11.50" fill="#F2F2F2"/>
<rect x="509.58" y="103.85" width="7.13" height="11.50" fill="#4472C4"/>
<rect x="517.61" y="103.85" width="7.13" height="11.50" fill="#4472C4"/>
<rect x="533.95" y="103.85" width="7.13" height="11.50" fill="#F2F2F2"/>
<rect x="541.98" y="103.85" width="7.13" height="11.50" fill="#F2F2F2"/>
<rect x="550.01" y="103.85" width="7.13" height="11.50" fill="#DEEBF7"/>
<rect x="558.04" y="103.85" width="7.13" height="11.50" fill="#DEEBF7"/>
<rect x="566.07" y="103.85" width="7.13" height="11.50" fill="#F2F2F2"/>
<rect x="574.10" y="103.85" width="7.13" height="11.50" fill="#F2F2F2"/>
<text transform="translate(114.00,114.20) rotate(0.05) scale(1.015,1)" font-size="10.3" text-anchor="end" fill="#111" stroke="#111" stroke-width="0.18">Uterine leiomyoma</text>
<rect x="116.05" y="115.80" width="7.13" height="11.50" fill="#DEEBF7"/>
<rect x="124.08" y="115.80" width="7.13" height="11.50" fill="#DEEBF7"/>
<rect x="132.11" y="115.80" width="7.13" height="11.50" fill="#DEEBF7"/>
<rect x="140.14" y="115.80" width="7.13" height="11.50" fill="#4472C4"/>
<rect x="148.17" y="115.80" width="7.13" height="11.50" fill="#DEEBF7"/>
<rect x="156.20" y="115.80" width="7.13" height="11.50" fill="#4472C4"/>
<rect x="164.23" y="115.80" width="7.13" height="11.50" fill="#DEEBF7"/>
<rect x="172.26" y="115.80" width="7.13" height="11.50" fill="#DEEBF7"/>
<rect x="180.29" y="115.80" width="7.13" height="11.50" fill="#4472C4"/>
<rect x="188.32" y="115.80" width="7.13" height="11.50" fill="#DEEBF7"/>
<rect x="196.35" y="115.80" width="7.13" height="11.50" fill="#DEEBF7"/>
<rect x="204.38" y="115.80" width="7.13" height="11.50" fill="#DEEBF7"/>
<rect x="212.41" y="115.80" width="7.13" height="11.50" fill="#4472C4"/>
<rect x="220.44" y="115.80" width="7.13" height="11.50" fill="#DEEBF7"/>
<rect x="228.47" y="115.80" width="7.13" height="11.50" fill="#DEEBF7"/>
<rect x="236.50" y="115.80" width="7.13" height="11.50" fill="#DEEBF7"/>
<rect x="244.53" y="115.80" width="7.13" height="11.50" fill="#DEEBF7"/>
<rect x="252.56" y="115.80" width="7.13" height="11.50" fill="#DEEBF7"/>
<rect x="260.59" y="115.80" width="7.13" height="11.50" fill="#DEEBF7"/>
<rect x="268.62" y="115.80" width="7.13" height="11.50" fill="#DEEBF7"/>
<rect x="276.65" y="115.80" width="7.13" height="11.50" fill="#DEEBF7"/>
<rect x="284.68" y="115.80" width="7.13" height="11.50" fill="#DEEBF7"/>
<rect x="292.71" y="115.80" width="7.13" height="11.50" fill="#DEEBF7"/>
<rect x="300.74" y="115.80" width="7.13" height="11.50" fill="#4472C4"/>
<rect x="308.77" y="115.80" width="7.13" height="11.50" fill="#4472C4"/>
<rect x="316.80" y="115.80" width="7.13" height="11.50" fill="#DEEBF7"/>
<rect x="324.83" y="115.80" width="7.13" height="11.50" fill="#4472C4"/>
<rect x="340.95" y="115.80" width="7.13" height="11.50" fill="#DEEBF7"/>
<rect x="348.98" y="115.80" width="7.13" height="11.50" fill="#DEEBF7"/>
<rect x="357.01" y="115.80" width="7.13" height="11.50" fill="#DEEBF7"/>
<rect x="365.04" y="115.80" width="7.13" height="11.50" fill="#DEEBF7"/>
<rect x="373.07" y="115.80" width="7.13" height="11.50" fill="#DEEBF7"/>
<rect x="381.10" y="115.80" width="7.13" height="11.50" fill="#DEEBF7"/>
<rect x="389.13" y="115.80" width="7.13" height="11.50" fill="#DEEBF7"/>
<rect x="397.16" y="115.80" width="7.13" height="11.50" fill="#DEEBF7"/>
<rect x="405.19" y="115.80" width="7.13" height="11.50" fill="#DEEBF7"/>
<rect x="413.22" y="115.80" width="7.13" height="11.50" fill="#DEEBF7"/>
<rect x="421.25" y="115.80" width="7.13" height="11.50" fill="#DEEBF7"/>
<rect x="429.28" y="115.80" width="7.13" height="11.50" fill="#DEEBF7"/>
<rect x="437.31" y="115.80" width="7.13" height="11.50" fill="#DEEBF7"/>
<rect x="445.34" y="115.80" width="7.13" height="11.50" fill="#DEEBF7"/>
<rect x="453.37" y="115.80" width="7.13" height="11.50" fill="#DEEBF7"/>
<rect x="461.40" y="115.80" width="7.13" height="11.50" fill="#DEEBF7"/>
<rect x="469.43" y="115.80" width="7.13" height="11.50" fill="#DEEBF7"/>
<rect x="477.46" y="115.80" width="7.13" height="11.50" fill="#DEEBF7"/>
<rect x="485.49" y="115.80" width="7.13" height="11.50" fill="#DEEBF7"/>
<rect x="493.52" y="115.80" width="7.13" height="11.50" fill="#DEEBF7"/>
<rect x="501.55" y="115.80" width="7.13" height="11.50" fill="#4472C4"/>
<rect x="509.58" y="115.80" width="7.13" height="11.50" fill="#F2F2F2"/>
<rect x="517.61" y="115.80" width="7.13" height="11.50" fill="#F2F2F2"/>
<rect x="533.95" y="115.80" width="7.13" height="11.50" fill="#DEEBF7"/>
<rect x="541.98" y="115.80" width="7.13" height="11.50" fill="#DEEBF7"/>
<rect x="550.01" y="115.80" width="7.13" height="11.50" fill="#DEEBF7"/>
<rect x="558.04" y="115.80" width="7.13" height="11.50" fill="#DEEBF7"/>
<rect x="566.07" y="115.80" width="7.13" height="11.50" fill="#DEEBF7"/>
<rect x="574.10" y="115.80" width="7.13" height="11.50" fill="#F2F2F2"/>
<text transform="translate(114.00,126.15) rotate(0.05) scale(1.015,1)" font-size="10.3" text-anchor="end" fill="#111" stroke="#111" stroke-width="0.18">WHO/ISUP</text>
<rect x="116.05" y="127.76" width="7.13" height="11.50" fill="#DEEBF7"/>
<rect x="124.08" y="127.76" width="7.13" height="11.50" fill="#DEEBF7"/>
<rect x="132.11" y="127.76" width="7.13" height="11.50" fill="#DEEBF7"/>
<rect x="140.14" y="127.76" width="7.13" height="11.50" fill="#DEEBF7"/>
<rect x="148.17" y="127.76" width="7.13" height="11.50" fill="#DEEBF7"/>
<rect x="156.20" y="127.76" width="7.13" height="11.50" fill="#DEEBF7"/>
<rect x="164.23" y="127.76" width="7.13" height="11.50" fill="#DEEBF7"/>
<rect x="172.26" y="127.76" width="7.13" height="11.50" fill="#DEEBF7"/>
<rect x="180.29" y="127.76" width="7.13" height="11.50" fill="#DEEBF7"/>
<rect x="188.32" y="127.76" width="7.13" height="11.50" fill="#DEEBF7"/>
<rect x="196.35" y="127.76" width="7.13" height="11.50" fill="#DEEBF7"/>
<rect x="204.38" y="127.76" width="7.13" height="11.50" fill="#DEEBF7"/>
<rect x="212.41" y="127.76" width="7.13" height="11.50" fill="#DEEBF7"/>
<rect x="220.44" y="127.76" width="7.13" height="11.50" fill="#4472C4"/>
<rect x="228.47" y="127.76" width="7.13" height="11.50" fill="#4472C4"/>
<rect x="236.50" y="127.76" width="7.13" height="11.50" fill="#DEEBF7"/>
<rect x="244.53" y="127.76" width="7.13" height="11.50" fill="#DEEBF7"/>
<rect x="252.56" y="127.76" width="7.13" height="11.50" fill="#DEEBF7"/>
<rect x="260.59" y="127.76" width="7.13" height="11.50" fill="#DEEBF7"/>
<rect x="268.62" y="127.76" width="7.13" height="11.50" fill="#DEEBF7"/>
<rect x="276.65" y="127.76" width="7.13" height="11.50" fill="#DEEBF7"/>
<rect x="284.68" y="127.76" width="7.13" height="11.50" fill="#DEEBF7"/>
<rect x="292.71" y="127.76" width="7.13" height="11.50" fill="#DEEBF7"/>
<rect x="300.74" y="127.76" width="7.13" height="11.50" fill="#DEEBF7"/>
<rect x="308.77" y="127.76" width="7.13" height="11.50" fill="#DEEBF7"/>
<rect x="316.80" y="127.76" width="7.13" height="11.50" fill="#DEEBF7"/>
<rect x="324.83" y="127.76" width="7.13" height="11.50" fill="#DEEBF7"/>
<rect x="340.95" y="127.76" width="7.13" height="11.50" fill="#DEEBF7"/>
<rect x="348.98" y="127.76" width="7.13" height="11.50" fill="#4472C4"/>
<rect x="357.01" y="127.76" width="7.13" height="11.50" fill="#DEEBF7"/>
<rect x="365.04" y="127.76" width="7.13" height="11.50" fill="#DEEBF7"/>
<rect x="373.07" y="127.76" width="7.13" height="11.50" fill="#DEEBF7"/>
<rect x="381.10" y="127.76" width="7.13" height="11.50" fill="#DEEBF7"/>
<rect x="389.13" y="127.76" width="7.13" height="11.50" fill="#4472C4"/>
<rect x="397.16" y="127.76" width="7.13" height="11.50" fill="#DEEBF7"/>
<rect x="405.19" y="127.76" width="7.13" height="11.50" fill="#DEEBF7"/>
<rect x="413.22" y="127.76" width="7.13" height="11.50" fill="#DEEBF7"/>
<rect x="421.25" y="127.76" width="7.13" height="11.50" fill="#4472C4"/>
<rect x="429.28" y="127.76" width="7.13" height="11.50" fill="#4472C4"/>
<rect x="437.31" y="127.76" width="7.13" height="11.50" fill="#DEEBF7"/>
<rect x="445.34" y="127.76" width="7.13" height="11.50" fill="#DEEBF7"/>
<rect x="453.37" y="127.76" width="7.13" height="11.50" fill="#DEEBF7"/>
<rect x="461.40" y="127.76" width="7.13" height="11.50" fill="#DEEBF7"/>
<rect x="469.43" y="127.76" width="7.13" height="11.50" fill="#4472C4"/>
<rect x="477.46" y="127.76" width="7.13" height="11.50" fill="#DEEBF7"/>
<rect x="485.49" y="127.76" width="7.13" height="11.50" fill="#DEEBF7"/>
<rect x="493.52" y="127.76" width="7.13" height="11.50" fill="#DEEBF7"/>
<rect x="501.55" y="127.76" width="7.13" height="11.50" fill="#DEEBF7"/>
<rect x="509.58" y="127.76" width="7.13" height="11.50" fill="#DEEBF7"/>
<rect x="517.61" y="127.76" width="7.13" height="11.50" fill="#DEEBF7"/>
<rect x="533.95" y="127.76" width="7.13" height="11.50" fill="#DEEBF7"/>
<rect x="541.98" y="127.76" width="7.13" height="11.50" fill="#DEEBF7"/>
<rect x="550.01" y="127.76" width="7.13" height="11.50" fill="#DEEBF7"/>
<rect x="558.04" y="127.76" width="7.13" height="11.50" fill="#DEEBF7"/>
<rect x="566.07" y="127.76" width="7.13" height="11.50" fill="#DEEBF7"/>
<rect x="574.10" y="127.76" width="7.13" height="11.50" fill="#DEEBF7"/>
<text transform="translate(114.00,138.11) rotate(0.05) scale(1.015,1)" font-size="10.3" text-anchor="end" fill="#111" stroke="#111" stroke-width="0.18">Low grade eosinophilic</text>
<rect x="116.05" y="139.71" width="7.13" height="11.50" fill="#F8CBAD"/>
<rect x="124.08" y="139.71" width="7.13" height="11.50" fill="#F8CBAD"/>
<rect x="132.11" y="139.71" width="7.13" height="11.50" fill="#F8CBAD"/>
<rect x="140.14" y="139.71" width="7.13" height="11.50" fill="#F8CBAD"/>
<rect x="148.17" y="139.71" width="7.13" height="11.50" fill="#F8CBAD"/>
<rect x="156.20" y="139.71" width="7.13" height="11.50" fill="#F8CBAD"/>
<rect x="164.23" y="139.71" width="7.13" height="11.50" fill="#ED7D31"/>
<rect x="172.26" y="139.71" width="7.13" height="11.50" fill="#F8CBAD"/>
<rect x="180.29" y="139.71" width="7.13" height="11.50" fill="#F8CBAD"/>
<rect x="188.32" y="139.71" width="7.13" height="11.50" fill="#F8CBAD"/>
<rect x="196.35" y="139.71" width="7.13" height="11.50" fill="#ED7D31"/>
<rect x="204.38" y="139.71" width="7.13" height="11.50" fill="#F8CBAD"/>
<rect x="212.41" y="139.71" width="7.13" height="11.50" fill="#F8CBAD"/>
<rect x="220.44" y="139.71" width="7.13" height="11.50" fill="#FFF2CC"/>
<rect x="228.47" y="139.71" width="7.13" height="11.50" fill="#FFF2CC"/>
<rect x="236.50" y="139.71" width="7.13" height="11.50" fill="#ED7D31"/>
<rect x="244.53" y="139.71" width="7.13" height="11.50" fill="#F8CBAD"/>
<rect x="252.56" y="139.71" width="7.13" height="11.50" fill="#F8CBAD"/>
<rect x="260.59" y="139.71" width="7.13" height="11.50" fill="#F8CBAD"/>
<rect x="268.62" y="139.71" width="7.13" height="11.50" fill="#F8CBAD"/>
<rect x="276.65" y="139.71" width="7.13" height="11.50" fill="#F8CBAD"/>
<rect x="284.68" y="139.71" width="7.13" height="11.50" fill="#F2F2F2"/>
<rect x="292.71" y="139.71" width="7.13" height="11.50" fill="#ED7D31"/>
<rect x="300.74" y="139.71" width="7.13" height="11.50" fill="#F8CBAD"/>
<rect x="308.77" y="139.71" width="7.13" height="11.50" fill="#F8CBAD"/>
<rect x="316.80" y="139.71" width="7.13" height="11.50" fill="#F8CBAD"/>
<rect x="324.83" y="139.71" width="7.13" height="11.50" fill="#F2F2F2"/>
<rect x="340.95" y="139.71" width="7.13" height="11.50" fill="#FFF2CC"/>
<rect x="348.98" y="139.71" width="7.13" height="11.50" fill="#FFF2CC"/>
<rect x="357.01" y="139.71" width="7.13" height="11.50" fill="#ED7D31"/>
<rect x="365.04" y="139.71" width="7.13" height="11.50" fill="#F8CBAD"/>
<rect x="373.07" y="139.71" width="7.13" height="11.50" fill="#ED7D31"/>
<rect x="381.10" y="139.71" width="7.13" height="11.50" fill="#F2F2F2"/>
<rect x="389.13" y="139.71" width="7.13" height="11.50" fill="#F2F2F2"/>
<rect x="397.16" y="139.71" width="7.13" height="11.50" fill="#F8CBAD"/>
<rect x="405.19" y="139.71" width="7.13" height="11.50" fill="#F8CBAD"/>
<rect x="413.22" y="139.71" width="7.13" height="11.50" fill="#F8CBAD"/>
<rect x="421.25" y="139.71" width="7.13" height="11.50" fill="#FFF2CC"/>
<rect x="429.28" y="139.71" width="7.13" height="11.50" fill="#F2F2F2"/>
<rect x="437.31" y="139.71" width="7.13" height="11.50" fill="#F8CBAD"/>
<rect x="445.34" y="139.71" width="7.13" height="11.50" fill="#F2F2F2"/>
<rect x="453.37" y="139.71" width="7.13" height="11.50" fill="#F2F2F2"/>
<rect x="461.40" y="139.71" width="7.13" height="11.50" fill="#F2F2F2"/>
<rect x="469.43" y="139.71" width="7.13" height="11.50" fill="#F2F2F2"/>
<rect x="477.46" y="139.71" width="7.13" height="11.50" fill="#F8CBAD"/>
<rect x="485.49" y="139.71" width="7.13" height="11.50" fill="#F8CBAD"/>
<rect x="493.52" y="139.71" width="7.13" height="11.50" fill="#F2F2F2"/>
<rect x="501.55" y="139.71" width="7.13" height="11.50" fill="#F8CBAD"/>
<rect x="509.58" y="139.71" width="7.13" height="11.50" fill="#F8CBAD"/>
<rect x="517.61" y="139.71" width="7.13" height="11.50" fill="#F8CBAD"/>
<rect x="533.95" y="139.71" width="7.13" height="11.50" fill="#ED7D31"/>
<rect x="541.98" y="139.71" width="7.13" height="11.50" fill="#ED7D31"/>
<rect x="550.01" y="139.71" width="7.13" height="11.50" fill="#F8CBAD"/>
<rect x="558.04" y="139.71" width="7.13" height="11.50" fill="#F8CBAD"/>
<rect x="566.07" y="139.71" width="7.13" height="11.50" fill="#F8CBAD"/>
<rect x="574.10" y="139.71" width="7.13" height="11.50" fill="#F8CBAD"/>
<text transform="translate(111.10,150.06) rotate(0.05) scale(1.015,1)" font-size="10.3" text-anchor="end" fill="#111" stroke="#111" stroke-width="0.18">IMDC</text>
<rect x="116.05" y="151.66" width="7.13" height="11.50" fill="#FFF2CC"/>
<rect x="124.08" y="151.66" width="7.13" height="11.50" fill="#FFF2CC"/>
<rect x="132.11" y="151.66" width="7.13" height="11.50" fill="#ED7D31"/>
<rect x="140.14" y="151.66" width="7.13" height="11.50" fill="#ED7D31"/>
<rect x="148.17" y="151.66" width="7.13" height="11.50" fill="#FFF2CC"/>
<rect x="156.20" y="151.66" width="7.13" height="11.50" fill="#FFF2CC"/>
<rect x="164.23" y="151.66" width="7.13" height="11.50" fill="#FFF2CC"/>
<rect x="172.26" y="151.66" width="7.13" height="11.50" fill="#FFF2CC"/>
<rect x="180.29" y="151.66" width="7.13" height="11.50" fill="#FFF2CC"/>
<rect x="188.32" y="151.66" width="7.13" height="11.50" fill="#FFF2CC"/>
<rect x="196.35" y="151.66" width="7.13" height="11.50" fill="#FFF2CC"/>
<rect x="204.38" y="151.66" width="7.13" height="11.50" fill="#FFF2CC"/>
<rect x="212.41" y="151.66" width="7.13" height="11.50" fill="#FFF2CC"/>
<rect x="220.44" y="151.66" width="7.13" height="11.50" fill="#ED7D31"/>
<rect x="228.47" y="151.66" width="7.13" height="11.50" fill="#FFF2CC"/>
<rect x="236.50" y="151.66" width="7.13" height="11.50" fill="#ED7D31"/>
<rect x="244.53" y="151.66" width="7.13" height="11.50" fill="#FFF2CC"/>
<rect x="252.56" y="151.66" width="7.13" height="11.50" fill="#FFF2CC"/>
<rect x="260.59" y="151.66" width="7.13" height="11.50" fill="#FFF2CC"/>
<rect x="268.62" y="151.66" width="7.13" height="11.50" fill="#FFF2CC"/>
<rect x="276.65" y="151.66" width="7.13" height="11.50" fill="#FFF2CC"/>
<rect x="284.68" y="151.66" width="7.13" height="11.50" fill="#FFF2CC"/>
<rect x="292.71" y="151.66" width="7.13" height="11.50" fill="#FFF2CC"/>
<rect x="300.74" y="151.66" width="7.13" height="11.50" fill="#FFF2CC"/>
<rect x="308.77" y="151.66" width="7.13" height="11.50" fill="#FFF2CC"/>
<rect x="316.80" y="151.66" width="7.13" height="11.50" fill="#F2F2F2"/>
<rect x="324.83" y="151.66" width="7.13" height="11.50" fill="#F2F2F2"/>
<rect x="340.95" y="151.66" width="7.13" height="11.50" fill="#FFF2CC"/>
<rect x="348.98" y="151.66" width="7.13" height="11.50" fill="#FFF2CC"/>
<rect x="357.01" y="151.66" width="7.13" height="11.50" fill="#FFF2CC"/>
<rect x="365.04" y="151.66" width="7.13" height="11.50" fill="#FFF2CC"/>
<rect x="373.07" y="151.66" width="7.13" height="11.50" fill="#FFF2CC"/>
<rect x="381.10" y="151.66" width="7.13" height="11.50" fill="#FFF2CC"/>
<rect x="389.13" y="151.66" width="7.13" height="11.50" fill="#FFF2CC"/>
<rect x="397.16" y="151.66" width="7.13" height="11.50" fill="#ED7D31"/>
<rect x="405.19" y="151.66" width="7.13" height="11.50" fill="#FFF2CC"/>
<rect x="413.22" y="151.66" width="7.13" height="11.50" fill="#FFF2CC"/>
<rect x="421.25" y="151.66" width="7.13" height="11.50" fill="#ED7D31"/>
<rect x="429.28" y="151.66" width="7.13" height="11.50" fill="#FFF2CC"/>
<rect x="437.31" y="151.66" width="7.13" height="11.50" fill="#FFF2CC"/>
<rect x="445.34" y="151.66" width="7.13" height="11.50" fill="#FFF2CC"/>
<rect x="453.37" y="151.66" width="7.13" height="11.50" fill="#FFF2CC"/>
<rect x="461.40" y="151.66" width="7.13" height="11.50" fill="#F2F2F2"/>
<rect x="469.43" y="151.66" width="7.13" height="11.50" fill="#FFF2CC"/>
<rect x="477.46" y="151.66" width="7.13" height="11.50" fill="#FFF2CC"/>
<rect x="485.49" y="151.66" width="7.13" height="11.50" fill="#FFF2CC"/>
<rect x="493.52" y="151.66" width="7.13" height="11.50" fill="#ED7D31"/>
<rect x="501.55" y="151.66" width="7.13" height="11.50" fill="#FFF2CC"/>
<rect x="509.58" y="151.66" width="7.13" height="11.50" fill="#FFF2CC"/>
<rect x="517.61" y="151.66" width="7.13" height="11.50" fill="#FFF2CC"/>
<rect x="533.95" y="151.66" width="7.13" height="11.50" fill="#FFF2CC"/>
<rect x="541.98" y="151.66" width="7.13" height="11.50" fill="#FFF2CC"/>
<rect x="550.01" y="151.66" width="7.13" height="11.50" fill="#FFF2CC"/>
<rect x="558.04" y="151.66" width="7.13" height="11.50" fill="#FFF2CC"/>
<rect x="566.07" y="151.66" width="7.13" height="11.50" fill="#FFF2CC"/>
<rect x="574.10" y="151.66" width="7.13" height="11.50" fill="#FFF2CC"/>
<text transform="translate(114.00,162.02) rotate(0.05) scale(1.015,1)" font-size="10.3" text-anchor="end" fill="#111" stroke="#111" stroke-width="0.18">FH protein expression</text>
<rect x="116.05" y="163.62" width="7.13" height="11.50" fill="#A9D18E"/>
<rect x="124.08" y="163.62" width="7.13" height="11.50" fill="#A9D18E"/>
<rect x="132.11" y="163.62" width="7.13" height="11.50" fill="#ED7D31"/>
<rect x="140.14" y="163.62" width="7.13" height="11.50" fill="#A9D18E"/>
<rect x="148.17" y="163.62" width="7.13" height="11.50" fill="#ED7D31"/>
<rect x="156.20" y="163.62" width="7.13" height="11.50" fill="#A9D18E"/>
<rect x="164.23" y="163.62" width="7.13" height="11.50" fill="#ED7D31"/>
<rect x="172.26" y="163.62" width="7.13" height="11.50" fill="#ED7D31"/>
<rect x="180.29" y="163.62" width="7.13" height="11.50" fill="#ED7D31"/>
<rect x="188.32" y="163.62" width="7.13" height="11.50" fill="#ED7D31"/>
<rect x="196.35" y="163.62" width="7.13" height="11.50" fill="#ED7D31"/>
<rect x="204.38" y="163.62" width="7.13" height="11.50" fill="#ED7D31"/>
<rect x="212.41" y="163.62" width="7.13" height="11.50" fill="#ED7D31"/>
<rect x="220.44" y="163.62" width="7.13" height="11.50" fill="#ED7D31"/>
<rect x="228.47" y="163.62" width="7.13" height="11.50" fill="#7F7F7F"/>
<rect x="236.50" y="163.62" width="7.13" height="11.50" fill="#7F7F7F"/>
<rect x="244.53" y="163.62" width="7.13" height="11.50" fill="#ED7D31"/>
<rect x="252.56" y="163.62" width="7.13" height="11.50" fill="#ED7D31"/>
<rect x="260.59" y="163.62" width="7.13" height="11.50" fill="#ED7D31"/>
<rect x="268.62" y="163.62" width="7.13" height="11.50" fill="#ED7D31"/>
<rect x="276.65" y="163.62" width="7.13" height="11.50" fill="#ED7D31"/>
<rect x="284.68" y="163.62" width="7.13" height="11.50" fill="#7F7F7F"/>
<rect x="292.71" y="163.62" width="7.13" height="11.50" fill="#ED7D31"/>
<rect x="300.74" y="163.62" width="7.13" height="11.50" fill="#ED7D31"/>
<rect x="308.77" y="163.62" width="7.13" height="11.50" fill="#ED7D31"/>
<rect x="316.80" y="163.62" width="7.13" height="11.50" fill="#7F7F7F"/>
<rect x="324.83" y="163.62" width="7.13" height="11.50" fill="#7F7F7F"/>
<rect x="340.95" y="163.62" width="7.13" height="11.50" fill="#A9D18E"/>
<rect x="348.98" y="163.62" width="7.13" height="11.50" fill="#7F7F7F"/>
<rect x="357.01" y="163.62" width="7.13" height="11.50" fill="#ED7D31"/>
<rect x="365.04" y="163.62" width="7.13" height="11.50" fill="#A9D18E"/>
<rect x="373.07" y="163.62" width="7.13" height="11.50" fill="#7F7F7F"/>
<rect x="381.10" y="163.62" width="7.13" height="11.50" fill="#7F7F7F"/>
<rect x="389.13" y="163.62" width="7.13" height="11.50" fill="#7F7F7F"/>
<rect x="397.16" y="163.62" width="7.13" height="11.50" fill="#ED7D31"/>
<rect x="405.19" y="163.62" width="7.13" height="11.50" fill="#ED7D31"/>
<rect x="413.22" y="163.62" width="7.13" height="11.50" fill="#ED7D31"/>
<rect x="421.25" y="163.62" width="7.13" height="11.50" fill="#A9D18E"/>
<rect x="429.28" y="163.62" width="7.13" height="11.50" fill="#7F7F7F"/>
<rect x="437.31" y="163.62" width="7.13" height="11.50" fill="#A9D18E"/>
<rect x="445.34" y="163.62" width="7.13" height="11.50" fill="#7F7F7F"/>
<rect x="453.37" y="163.62" width="7.13" height="11.50" fill="#D9D9D9"/>
<rect x="461.40" y="163.62" width="7.13" height="11.50" fill="#7F7F7F"/>
<rect x="469.43" y="163.62" width="7.13" height="11.50" fill="#A9D18E"/>
<rect x="477.46" y="163.62" width="7.13" height="11.50" fill="#ED7D31"/>
<rect x="485.49" y="163.62" width="7.13" height="11.50" fill="#A9D18E"/>
<rect x="493.52" y="163.62" width="7.13" height="11.50" fill="#7F7F7F"/>
<rect x="501.55" y="163.62" width="7.13" height="11.50" fill="#ED7D31"/>
<rect x="509.58" y="163.62" width="7.13" height="11.50" fill="#ED7D31"/>
<rect x="517.61" y="163.62" width="7.13" height="11.50" fill="#ED7D31"/>
<rect x="533.95" y="163.62" width="7.13" height="11.50" fill="#A9D18E"/>
<rect x="541.98" y="163.62" width="7.13" height="11.50" fill="#A9D18E"/>
<rect x="550.01" y="163.62" width="7.13" height="11.50" fill="#A9D18E"/>
<rect x="558.04" y="163.62" width="7.13" height="11.50" fill="#ED7D31"/>
<rect x="566.07" y="163.62" width="7.13" height="11.50" fill="#ED7D31"/>
<rect x="574.10" y="163.62" width="7.13" height="11.50" fill="#ED7D31"/>
<text transform="translate(114.00,173.97) rotate(0.05) scale(1.015,1)" font-size="10.3" text-anchor="end" fill="#111" stroke="#111" stroke-width="0.18">Treatment</text>
<rect x="116.05" y="175.57" width="7.13" height="11.50" fill="#ED7D31"/>
<rect x="124.08" y="175.57" width="7.13" height="11.50" fill="#FCE4D6"/>
<rect x="132.11" y="175.57" width="7.13" height="11.50" fill="#ED7D31"/>
<rect x="140.14" y="175.57" width="7.13" height="11.50" fill="#FCE4D6"/>
<rect x="148.17" y="175.57" width="7.13" height="11.50" fill="#ED7D31"/>
<rect x="156.20" y="175.57" width="7.13" height="11.50" fill="#FCE4D6"/>
<rect x="164.23" y="175.57" width="7.13" height="11.50" fill="#FCE4D6"/>
<rect x="172.26" y="175.57" width="7.13" height="11.50" fill="#FCE4D6"/>
<rect x="180.29" y="175.57" width="7.13" height="11.50" fill="#FCE4D6"/>
<rect x="188.32" y="175.57" width="7.13" height="11.50" fill="#ED7D31"/>
<rect x="196.35" y="175.57" width="7.13" height="11.50" fill="#ED7D31"/>
<rect x="204.38" y="175.57" width="7.13" height="11.50" fill="#ED7D31"/>
<rect x="212.41" y="175.57" width="7.13" height="11.50" fill="#ED7D31"/>
<rect x="220.44" y="175.57" width="7.13" height="11.50" fill="#FCE4D6"/>
<rect x="228.47" y="175.57" width="7.13" height="11.50" fill="#7F7F7F"/>
<rect x="236.50" y="175.57" width="7.13" height="11.50" fill="#7F7F7F"/>
<rect x="244.53" y="175.57" width="7.13" height="11.50" fill="#FCE4D6"/>
<rect x="252.56" y="175.57" width="7.13" height="11.50" fill="#ED7D31"/>
<rect x="260.59" y="175.57" width="7.13" height="11.50" fill="#ED7D31"/>
<rect x="268.62" y="175.57" width="7.13" height="11.50" fill="#FCE4D6"/>
<rect x="276.65" y="175.57" width="7.13" height="11.50" fill="#ED7D31"/>
<rect x="284.68" y="175.57" width="7.13" height="11.50" fill="#7F7F7F"/>
<rect x="292.71" y="175.57" width="7.13" height="11.50" fill="#FCE4D6"/>
<rect x="300.74" y="175.57" width="7.13" height="11.50" fill="#FCE4D6"/>
<rect x="308.77" y="175.57" width="7.13" height="11.50" fill="#FCE4D6"/>
<rect x="316.80" y="175.57" width="7.13" height="11.50" fill="#FCE4D6"/>
<rect x="324.83" y="175.57" width="7.13" height="11.50" fill="#7F7F7F"/>
<rect x="340.95" y="175.57" width="7.13" height="11.50" fill="#FCE4D6"/>
<rect x="348.98" y="175.57" width="7.13" height="11.50" fill="#7F7F7F"/>
<rect x="357.01" y="175.57" width="7.13" height="11.50" fill="#FCE4D6"/>
<rect x="365.04" y="175.57" width="7.13" height="11.50" fill="#FCE4D6"/>
<rect x="373.07" y="175.57" width="7.13" height="11.50" fill="#7F7F7F"/>
<rect x="381.10" y="175.57" width="7.13" height="11.50" fill="#7F7F7F"/>
<rect x="389.13" y="175.57" width="7.13" height="11.50" fill="#7F7F7F"/>
<rect x="397.16" y="175.57" width="7.13" height="11.50" fill="#FCE4D6"/>
<rect x="405.19" y="175.57" width="7.13" height="11.50" fill="#FCE4D6"/>
<rect x="413.22" y="175.57" width="7.13" height="11.50" fill="#FCE4D6"/>
<rect x="421.25" y="175.57" width="7.13" height="11.50" fill="#FCE4D6"/>
<rect x="429.28" y="175.57" width="7.13" height="11.50" fill="#7F7F7F"/>
<rect x="437.31" y="175.57" width="7.13" height="11.50" fill="#FCE4D6"/>
<rect x="445.34" y="175.57" width="7.13" height="11.50" fill="#7F7F7F"/>
<rect x="453.37" y="175.57" width="7.13" height="11.50" fill="#D9D9D9"/>
<rect x="461.40" y="175.57" width="7.13" height="11.50" fill="#7F7F7F"/>
<rect x="469.43" y="175.57" width="7.13" height="11.50" fill="#FCE4D6"/>
<rect x="477.46" y="175.57" width="7.13" height="11.50" fill="#ED7D31"/>
<rect x="485.49" y="175.57" width="7.13" height="11.50" fill="#FCE4D6"/>
<rect x="493.52" y="175.57" width="7.13" height="11.50" fill="#7F7F7F"/>
<rect x="501.55" y="175.57" width="7.13" height="11.50" fill="#ED7D31"/>
<rect x="509.58" y="175.57" width="7.13" height="11.50" fill="#ED7D31"/>
<rect x="517.61" y="175.57" width="7.13" height="11.50" fill="#ED7D31"/>
<rect x="533.95" y="175.57" width="7.13" height="11.50" fill="#FCE4D6"/>
<rect x="541.98" y="175.57" width="7.13" height="11.50" fill="#FCE4D6"/>
<rect x="550.01" y="175.57" width="7.13" height="11.50" fill="#FCE4D6"/>
<rect x="558.04" y="175.57" width="7.13" height="11.50" fill="#FCE4D6"/>
<rect x="566.07" y="175.57" width="7.13" height="11.50" fill="#FCE4D6"/>
<rect x="574.10" y="175.57" width="7.13" height="11.50" fill="#FCE4D6"/>
<text transform="translate(114.00,185.92) rotate(0.05) scale(1.015,1)" font-size="10.3" text-anchor="end" fill="#111" stroke="#111" stroke-width="0.18">ORR</text>
</g>
<rect x="115.60" y="31.90" width="216.81" height="155.40" fill="none" stroke="#1a1a1a" stroke-width="0.9"/>
<path d="M123.63 31.20v1.4M123.63 186.60v1.4M131.66 31.20v1.4M131.66 186.60v1.4M139.69 31.20v1.4M139.69 186.60v1.4M147.72 31.20v1.4M147.72 186.60v1.4M155.75 31.20v1.4M155.75 186.60v1.4M163.78 31.20v1.4M163.78 186.60v1.4M171.81 31.20v1.4M171.81 186.60v1.4M179.84 31.20v1.4M179.84 186.60v1.4M187.87 31.20v1.4M187.87 186.60v1.4M195.90 31.20v1.4M195.90 186.60v1.4M203.93 31.20v1.4M203.93 186.60v1.4M211.96 31.20v1.4M211.96 186.60v1.4M219.99 31.20v1.4M219.99 186.60v1.4M228.02 31.20v1.4M228.02 186.60v1.4M236.05 31.20v1.4M236.05 186.60v1.4M244.08 31.20v1.4M244.08 186.60v1.4M252.11 31.20v1.4M252.11 186.60v1.4M260.14 31.20v1.4M260.14 186.60v1.4M268.17 31.20v1.4M268.17 186.60v1.4M276.20 31.20v1.4M276.20 186.60v1.4M284.23 31.20v1.4M284.23 186.60v1.4M292.26 31.20v1.4M292.26 186.60v1.4M300.29 31.20v1.4M300.29 186.60v1.4M308.32 31.20v1.4M308.32 186.60v1.4M316.35 31.20v1.4M316.35 186.60v1.4M324.38 31.20v1.4M324.38 186.60v1.4" stroke="#fff" stroke-opacity="0.7" stroke-width="0.9" fill="none"/>
<rect x="340.50" y="31.90" width="184.69" height="155.40" fill="none" stroke="#1a1a1a" stroke-width="0.9"/>
<path d="M348.53 31.20v1.4M348.53 186.60v1.4M356.56 31.20v1.4M356.56 186.60v1.4M364.59 31.20v1.4M364.59 186.60v1.4M372.62 31.20v1.4M372.62 186.60v1.4M380.65 31.20v1.4M380.65 186.60v1.4M388.68 31.20v1.4M388.68 186.60v1.4M396.71 31.20v1.4M396.71 186.60v1.4M404.74 31.20v1.4M404.74 186.60v1.4M412.77 31.20v1.4M412.77 186.60v1.4M420.80 31.20v1.4M420.80 186.60v1.4M428.83 31.20v1.4M428.83 186.60v1.4M436.86 31.20v1.4M436.86 186.60v1.4M444.89 31.20v1.4M444.89 186.60v1.4M452.92 31.20v1.4M452.92 186.60v1.4M460.95 31.20v1.4M460.95 186.60v1.4M468.98 31.20v1.4M468.98 186.60v1.4M477.01 31.20v1.4M477.01 186.60v1.4M485.04 31.20v1.4M485.04 186.60v1.4M493.07 31.20v1.4M493.07 186.60v1.4M501.10 31.20v1.4M501.10 186.60v1.4M509.13 31.20v1.4M509.13 186.60v1.4M517.16 31.20v1.4M517.16 186.60v1.4" stroke="#fff" stroke-opacity="0.7" stroke-width="0.9" fill="none"/>
<rect x="533.50" y="31.90" width="48.18" height="155.40" fill="none" stroke="#1a1a1a" stroke-width="0.9"/>
<path d="M541.53 31.20v1.4M541.53 186.60v1.4M549.56 31.20v1.4M549.56 186.60v1.4M557.59 31.20v1.4M557.59 186.60v1.4M565.62 31.20v1.4M565.62 186.60v1.4M573.65 31.20v1.4M573.65 186.60v1.4" stroke="#fff" stroke-opacity="0.7" stroke-width="0.9" fill="none"/>
<g>
<rect x="116.05" y="192.32" width="7.13" height="11.60" fill="#DEEBF7"/>
<rect x="124.08" y="192.32" width="7.13" height="11.60" fill="#DEEBF7"/>
<rect x="132.11" y="192.32" width="7.13" height="11.60" fill="#4472C4"/>
<rect x="140.14" y="192.32" width="7.13" height="11.60" fill="#4472C4"/>
<rect x="148.17" y="192.32" width="7.13" height="11.60" fill="#DEEBF7"/>
<rect x="156.20" y="192.32" width="7.13" height="11.60" fill="#4472C4"/>
<rect x="164.23" y="192.32" width="7.13" height="11.60" fill="#DEEBF7"/>
<rect x="172.26" y="192.32" width="7.13" height="11.60" fill="#4472C4"/>
<rect x="180.29" y="192.32" width="7.13" height="11.60" fill="#4472C4"/>
<rect x="188.32" y="192.32" width="7.13" height="11.60" fill="#4472C4"/>
<rect x="196.35" y="192.32" width="7.13" height="11.60" fill="#4472C4"/>
<rect x="204.38" y="192.32" width="7.13" height="11.60" fill="#DEEBF7"/>
<rect x="212.41" y="192.32" width="7.13" height="11.60" fill="#DEEBF7"/>
<rect x="220.44" y="192.32" width="7.13" height="11.60" fill="#4472C4"/>
<rect x="228.47" y="192.32" width="7.13" height="11.60" fill="#4472C4"/>
<rect x="236.50" y="192.32" width="7.13" height="11.60" fill="#4472C4"/>
<rect x="244.53" y="192.32" width="7.13" height="11.60" fill="#DEEBF7"/>
<rect x="252.56" y="192.32" width="7.13" height="11.60" fill="#4472C4"/>
<rect x="260.59" y="192.32" width="7.13" height="11.60" fill="#4472C4"/>
<rect x="268.62" y="192.32" width="7.13" height="11.60" fill="#DEEBF7"/>
<rect x="276.65" y="192.32" width="7.13" height="11.60" fill="#DEEBF7"/>
<rect x="284.68" y="192.32" width="7.13" height="11.60" fill="#DEEBF7"/>
<rect x="292.71" y="192.32" width="7.13" height="11.60" fill="#4472C4"/>
<rect x="300.74" y="192.32" width="7.13" height="11.60" fill="#DEEBF7"/>
<rect x="308.77" y="192.32" width="7.13" height="11.60" fill="#4472C4"/>
<rect x="316.80" y="192.32" width="7.13" height="11.60" fill="#4472C4"/>
<rect x="324.83" y="192.32" width="7.13" height="11.60" fill="#4472C4"/>
<rect x="340.95" y="192.32" width="7.13" height="11.60" fill="#DEEBF7"/>
<rect x="348.98" y="192.32" width="7.13" height="11.60" fill="#4472C4"/>
<rect x="357.01" y="192.32" width="7.13" height="11.60" fill="#4472C4"/>
<rect x="365.04" y="192.32" width="7.13" height="11.60" fill="#DEEBF7"/>
<rect x="373.07" y="192.32" width="7.13" height="11.60" fill="#DEEBF7"/>
<rect x="381.10" y="192.32" width="7.13" height="11.60" fill="#4472C4"/>
<rect x="389.13" y="192.32" width="7.13" height="11.60" fill="#DEEBF7"/>
<rect x="397.16" y="192.32" width="7.13" height="11.60" fill="#4472C4"/>
<rect x="405.19" y="192.32" width="7.13" height="11.60" fill="#DEEBF7"/>
<rect x="413.22" y="192.32" width="7.13" height="11.60" fill="#4472C4"/>
<rect x="421.25" y="192.32" width="7.13" height="11.60" fill="#DEEBF7"/>
<rect x="429.28" y="192.32" width="7.13" height="11.60" fill="#4472C4"/>
<rect x="437.31" y="192.32" width="7.13" height="11.60" fill="#4472C4"/>
<rect x="445.34" y="192.32" width="7.13" height="11.60" fill="#4472C4"/>
<rect x="453.37" y="192.32" width="7.13" height="11.60" fill="#DEEBF7"/>
<rect x="461.40" y="192.32" width="7.13" height="11.60" fill="#DEEBF7"/>
<rect x="469.43" y="192.32" width="7.13" height="11.60" fill="#DEEBF7"/>
<rect x="477.46" y="192.32" width="7.13" height="11.60" fill="#4472C4"/>
<rect x="485.49" y="192.32" width="7.13" height="11.60" fill="#DEEBF7"/>
<rect x="493.52" y="192.32" width="7.13" height="11.60" fill="#4472C4"/>
<rect x="501.55" y="192.32" width="7.13" height="11.60" fill="#DEEBF7"/>
<rect x="509.58" y="192.32" width="7.13" height="11.60" fill="#4472C4"/>
<rect x="517.61" y="192.32" width="7.13" height="11.60" fill="#4472C4"/>
<rect x="533.95" y="192.32" width="7.13" height="11.60" fill="#4472C4"/>
<rect x="541.98" y="192.32" width="7.13" height="11.60" fill="#4472C4"/>
<rect x="550.01" y="192.32" width="7.13" height="11.60" fill="#DEEBF7"/>
<rect x="558.04" y="192.32" width="7.13" height="11.60" fill="#4472C4"/>
<rect x="566.07" y="192.32" width="7.13" height="11.60" fill="#4472C4"/>
<rect x="574.10" y="192.32" width="7.13" height="11.60" fill="#4472C4"/>
<text transform="translate(114.00,202.72) rotate(0.05) scale(1.015,1)" font-size="10.3" text-anchor="end" fill="#111" stroke="#111" stroke-width="0.18">FH germline</text>
<rect x="116.05" y="204.38" width="7.13" height="11.60" fill="#FFC000"/>
<rect x="124.08" y="204.38" width="7.13" height="11.60" fill="#5B9BD5"/>
<rect x="132.11" y="204.38" width="7.13" height="11.60" fill="#4472C4"/>
<rect x="140.14" y="204.38" width="7.13" height="11.60" fill="#4472C4"/>
<rect x="148.17" y="204.38" width="7.13" height="11.60" fill="#70AD47"/>
<rect x="156.20" y="204.38" width="7.13" height="11.60" fill="#4472C4"/>
<rect x="164.23" y="204.38" width="7.13" height="11.60" fill="#FFC000"/>
<rect x="172.26" y="204.38" width="7.13" height="11.60" fill="#C00000"/>
<rect x="180.29" y="204.38" width="7.13" height="11.60" fill="#C00000"/>
<rect x="188.32" y="204.38" width="7.13" height="11.60" fill="#C00000"/>
<rect x="196.35" y="204.38" width="7.13" height="11.60" fill="#C00000"/>
<rect x="204.38" y="204.38" width="7.13" height="11.60" fill="#C00000"/>
<rect x="212.41" y="204.38" width="7.13" height="11.60" fill="#C00000"/>
<rect x="220.44" y="204.38" width="7.13" height="11.60" fill="#4472C4"/>
<rect x="228.47" y="204.38" width="7.13" height="11.60" fill="#ED7D31"/>
<rect x="236.50" y="204.38" width="7.13" height="11.60" fill="#4472C4"/>
<rect x="244.53" y="204.38" width="7.13" height="11.60" fill="#C00000"/>
<rect x="252.56" y="204.38" width="7.13" height="11.60" fill="#ED7D31"/>
<rect x="260.59" y="204.38" width="7.13" height="11.60" fill="#70AD47"/>
<rect x="268.62" y="204.38" width="7.13" height="11.60" fill="#C00000"/>
<rect x="276.65" y="204.38" width="7.13" height="11.60" fill="#C00000"/>
<rect x="284.68" y="204.38" width="7.13" height="11.60" fill="#70AD47"/>
<rect x="292.71" y="204.38" width="7.13" height="11.60" fill="#FFC000"/>
<rect x="300.74" y="204.38" width="7.13" height="11.60" fill="#5B9BD5"/>
<rect x="308.77" y="204.38" width="7.13" height="11.60" fill="#4472C4"/>
<rect x="316.80" y="204.38" width="7.13" height="11.60" fill="#70AD47"/>
<rect x="324.83" y="204.38" width="7.13" height="11.60" fill="#4472C4"/>
<rect x="340.95" y="204.38" width="7.13" height="11.60" fill="#4472C4"/>
<rect x="348.98" y="204.38" width="7.13" height="11.60" fill="#FFC000"/>
<rect x="357.01" y="204.38" width="7.13" height="11.60" fill="#4472C4"/>
<rect x="365.04" y="204.38" width="7.13" height="11.60" fill="#5B9BD5"/>
<rect x="373.07" y="204.38" width="7.13" height="11.60" fill="#4472C4"/>
<rect x="381.10" y="204.38" width="7.13" height="11.60" fill="#ED7D31"/>
<rect x="389.13" y="204.38" width="7.13" height="11.60" fill="#70AD47"/>
<rect x="397.16" y="204.38" width="7.13" height="11.60" fill="#4472C4"/>
<rect x="405.19" y="204.38" width="7.13" height="11.60" fill="#70AD47"/>
<rect x="413.22" y="204.38" width="7.13" height="11.60" fill="#4472C4"/>
<rect x="421.25" y="204.38" width="7.13" height="11.60" fill="#4472C4"/>
<rect x="429.28" y="204.38" width="7.13" height="11.60" fill="#FFC000"/>
<rect x="437.31" y="204.38" width="7.13" height="11.60" fill="#C00000"/>
<rect x="445.34" y="204.38" width="7.13" height="11.60" fill="#4472C4"/>
<rect x="453.37" y="204.38" width="7.13" height="11.60" fill="#70AD47"/>
<rect x="461.40" y="204.38" width="7.13" height="11.60" fill="#C00000"/>
<rect x="469.43" y="204.38" width="7.13" height="11.60" fill="#ED7D31"/>
<rect x="477.46" y="204.38" width="7.13" height="11.60" fill="#C00000"/>
<rect x="485.49" y="204.38" width="7.13" height="11.60" fill="#70AD47"/>
<rect x="493.52" y="204.38" width="7.13" height="11.60" fill="#4472C4"/>
<rect x="501.55" y="204.38" width="7.13" height="11.60" fill="#5B9BD5"/>
<rect x="509.58" y="204.38" width="7.13" height="11.60" fill="#4472C4"/>
<rect x="517.61" y="204.38" width="7.13" height="11.60" fill="#ED7D31"/>
<rect x="533.95" y="204.38" width="7.13" height="11.60" fill="#ED7D31"/>
<rect x="541.98" y="204.38" width="7.13" height="11.60" fill="#ED7D31"/>
<rect x="550.01" y="204.38" width="7.13" height="11.60" fill="#70AD47"/>
<rect x="558.04" y="204.38" width="7.13" height="11.60" fill="#FFC000"/>
<rect x="566.07" y="204.38" width="7.13" height="11.60" fill="#5B9BD5"/>
<rect x="574.10" y="204.38" width="7.13" height="11.60" fill="#C00000"/>
<text transform="translate(114.00,214.78) rotate(0.05) scale(1.015,1)" font-size="10.3" text-anchor="end" fill="#111" stroke="#111" stroke-width="0.18">FH variant</text>
<rect x="116.05" y="216.42" width="7.13" height="11.60" fill="#4472C4"/>
<rect x="124.08" y="216.42" width="7.13" height="11.60" fill="#4472C4"/>
<rect x="132.11" y="216.42" width="7.13" height="11.60" fill="#DEEBF7"/>
<rect x="140.14" y="216.42" width="7.13" height="11.60" fill="#DEEBF7"/>
<rect x="148.17" y="216.42" width="7.13" height="11.60" fill="#DEEBF7"/>
<rect x="156.20" y="216.42" width="7.13" height="11.60" fill="#DEEBF7"/>
<rect x="164.23" y="216.42" width="7.13" height="11.60" fill="#4472C4"/>
<rect x="172.26" y="216.42" width="7.13" height="11.60" fill="#4472C4"/>
<rect x="180.29" y="216.42" width="7.13" height="11.60" fill="#DEEBF7"/>
<rect x="188.32" y="216.42" width="7.13" height="11.60" fill="#DEEBF7"/>
<rect x="196.35" y="216.42" width="7.13" height="11.60" fill="#DEEBF7"/>
<rect x="204.38" y="216.42" width="7.13" height="11.60" fill="#4472C4"/>
<rect x="212.41" y="216.42" width="7.13" height="11.60" fill="#4472C4"/>
<rect x="220.44" y="216.42" width="7.13" height="11.60" fill="#DEEBF7"/>
<rect x="228.47" y="216.42" width="7.13" height="11.60" fill="#4472C4"/>
<rect x="236.50" y="216.42" width="7.13" height="11.60" fill="#DEEBF7"/>
<rect x="244.53" y="216.42" width="7.13" height="11.60" fill="#4472C4"/>
<rect x="252.56" y="216.42" width="7.13" height="11.60" fill="#4472C4"/>
<rect x="260.59" y="216.42" width="7.13" height="11.60" fill="#DEEBF7"/>
<rect x="268.62" y="216.42" width="7.13" height="11.60" fill="#4472C4"/>
<rect x="276.65" y="216.42" width="7.13" height="11.60" fill="#4472C4"/>
<rect x="284.68" y="216.42" width="7.13" height="11.60" fill="#DEEBF7"/>
<rect x="292.71" y="216.42" width="7.13" height="11.60" fill="#4472C4"/>
<rect x="300.74" y="216.42" width="7.13" height="11.60" fill="#4472C4"/>
<rect x="308.77" y="216.42" width="7.13" height="11.60" fill="#DEEBF7"/>
<rect x="316.80" y="216.42" width="7.13" height="11.60" fill="#DEEBF7"/>
<rect x="324.83" y="216.42" width="7.13" height="11.60" fill="#DEEBF7"/>
<rect x="340.95" y="216.42" width="7.13" height="11.60" fill="#DEEBF7"/>
<rect x="348.98" y="216.42" width="7.13" height="11.60" fill="#4472C4"/>
<rect x="357.01" y="216.42" width="7.13" height="11.60" fill="#DEEBF7"/>
<rect x="365.04" y="216.42" width="7.13" height="11.60" fill="#4472C4"/>
<rect x="373.07" y="216.42" width="7.13" height="11.60" fill="#DEEBF7"/>
<rect x="381.10" y="216.42" width="7.13" height="11.60" fill="#4472C4"/>
<rect x="389.13" y="216.42" width="7.13" height="11.60" fill="#DEEBF7"/>
<rect x="397.16" y="216.42" width="7.13" height="11.60" fill="#DEEBF7"/>
<rect x="405.19" y="216.42" width="7.13" height="11.60" fill="#DEEBF7"/>
<rect x="413.22" y="216.42" width="7.13" height="11.60" fill="#DEEBF7"/>
<rect x="421.25" y="216.42" width="7.13" height="11.60" fill="#DEEBF7"/>
<rect x="429.28" y="216.42" width="7.13" height="11.60" fill="#4472C4"/>
<rect x="437.31" y="216.42" width="7.13" height="11.60" fill="#4472C4"/>
<rect x="445.34" y="216.42" width="7.13" height="11.60" fill="#DEEBF7"/>
<rect x="453.37" y="216.42" width="7.13" height="11.60" fill="#DEEBF7"/>
<rect x="461.40" y="216.42" width="7.13" height="11.60" fill="#4472C4"/>
<rect x="469.43" y="216.42" width="7.13" height="11.60" fill="#4472C4"/>
<rect x="477.46" y="216.42" width="7.13" height="11.60" fill="#4472C4"/>
<rect x="485.49" y="216.42" width="7.13" height="11.60" fill="#DEEBF7"/>
<rect x="493.52" y="216.42" width="7.13" height="11.60" fill="#DEEBF7"/>
<rect x="501.55" y="216.42" width="7.13" height="11.60" fill="#4472C4"/>
<rect x="509.58" y="216.42" width="7.13" height="11.60" fill="#DEEBF7"/>
<rect x="517.61" y="216.42" width="7.13" height="11.60" fill="#4472C4"/>
<rect x="533.95" y="216.42" width="7.13" height="11.60" fill="#4472C4"/>
<rect x="541.98" y="216.42" width="7.13" height="11.60" fill="#4472C4"/>
<rect x="550.01" y="216.42" width="7.13" height="11.60" fill="#DEEBF7"/>
<rect x="558.04" y="216.42" width="7.13" height="11.60" fill="#4472C4"/>
<rect x="566.07" y="216.42" width="7.13" height="11.60" fill="#4472C4"/>
<rect x="574.10" y="216.42" width="7.13" height="11.60" fill="#4472C4"/>
<text transform="translate(114.00,226.82) rotate(0.05) scale(1.015,1)" font-size="10.3" text-anchor="end" fill="#111" stroke="#111" stroke-width="0.18">FH truncating</text>
<rect x="116.05" y="228.47" width="7.13" height="11.60" fill="#DEEBF7"/>
<rect x="124.08" y="228.47" width="7.13" height="11.60" fill="#4472C4"/>
<rect x="132.11" y="228.47" width="7.13" height="11.60" fill="#DEEBF7"/>
<rect x="140.14" y="228.47" width="7.13" height="11.60" fill="#4472C4"/>
<rect x="148.17" y="228.47" width="7.13" height="11.60" fill="#4472C4"/>
<rect x="156.20" y="228.47" width="7.13" height="11.60" fill="#4472C4"/>
<rect x="164.23" y="228.47" width="7.13" height="11.60" fill="#DEEBF7"/>
<rect x="172.26" y="228.47" width="7.13" height="11.60" fill="#DEEBF7"/>
<rect x="180.29" y="228.47" width="7.13" height="11.60" fill="#DEEBF7"/>
<rect x="188.32" y="228.47" width="7.13" height="11.60" fill="#4472C4"/>
<rect x="196.35" y="228.47" width="7.13" height="11.60" fill="#DEEBF7"/>
<rect x="204.38" y="228.47" width="7.13" height="11.60" fill="#DEEBF7"/>
<rect x="212.41" y="228.47" width="7.13" height="11.60" fill="#DEEBF7"/>
<rect x="220.44" y="228.47" width="7.13" height="11.60" fill="#DEEBF7"/>
<rect x="228.47" y="228.47" width="7.13" height="11.60" fill="#DEEBF7"/>
<rect x="236.50" y="228.47" width="7.13" height="11.60" fill="#DEEBF7"/>
<rect x="244.53" y="228.47" width="7.13" height="11.60" fill="#DEEBF7"/>
<rect x="252.56" y="228.47" width="7.13" height="11.60" fill="#DEEBF7"/>
<rect x="260.59" y="228.47" width="7.13" height="11.60" fill="#DEEBF7"/>
<rect x="268.62" y="228.47" width="7.13" height="11.60" fill="#DEEBF7"/>
<rect x="276.65" y="228.47" width="7.13" height="11.60" fill="#DEEBF7"/>
<rect x="284.68" y="228.47" width="7.13" height="11.60" fill="#DEEBF7"/>
<rect x="292.71" y="228.47" width="7.13" height="11.60" fill="#DEEBF7"/>
<rect x="300.74" y="228.47" width="7.13" height="11.60" fill="#4472C4"/>
<rect x="308.77" y="228.47" width="7.13" height="11.60" fill="#DEEBF7"/>
<rect x="316.80" y="228.47" width="7.13" height="11.60" fill="#DEEBF7"/>
<rect x="324.83" y="228.47" width="7.13" height="11.60" fill="#DEEBF7"/>
<rect x="340.95" y="228.47" width="7.13" height="11.60" fill="#DEEBF7"/>
<rect x="348.98" y="228.47" width="7.13" height="11.60" fill="#DEEBF7"/>
<rect x="357.01" y="228.47" width="7.13" height="11.60" fill="#DEEBF7"/>
<rect x="365.04" y="228.47" width="7.13" height="11.60" fill="#DEEBF7"/>
<rect x="373.07" y="228.47" width="7.13" height="11.60" fill="#DEEBF7"/>
<rect x="381.10" y="228.47" width="7.13" height="11.60" fill="#DEEBF7"/>
<rect x="389.13" y="228.47" width="7.13" height="11.60" fill="#DEEBF7"/>
<rect x="397.16" y="228.47" width="7.13" height="11.60" fill="#DEEBF7"/>
<rect x="405.19" y="228.47" width="7.13" height="11.60" fill="#DEEBF7"/>
<rect x="413.22" y="228.47" width="7.13" height="11.60" fill="#DEEBF7"/>
<rect x="421.25" y="228.47" width="7.13" height="11.60" fill="#DEEBF7"/>
<rect x="429.28" y="228.47" width="7.13" height="11.60" fill="#DEEBF7"/>
<rect x="437.31" y="228.47" width="7.13" height="11.60" fill="#DEEBF7"/>
<rect x="445.34" y="228.47" width="7.13" height="11.60" fill="#DEEBF7"/>
<rect x="453.37" y="228.47" width="7.13" height="11.60" fill="#DEEBF7"/>
<rect x="461.40" y="228.47" width="7.13" height="11.60" fill="#DEEBF7"/>
<rect x="469.43" y="228.47" width="7.13" height="11.60" fill="#DEEBF7"/>
<rect x="477.46" y="228.47" width="7.13" height="11.60" fill="#DEEBF7"/>
<rect x="485.49" y="228.47" width="7.13" height="11.60" fill="#4472C4"/>
<rect x="493.52" y="228.47" width="7.13" height="11.60" fill="#4472C4"/>
<rect x="501.55" y="228.47" width="7.13" height="11.60" fill="#DEEBF7"/>
<rect x="509.58" y="228.47" width="7.13" height="11.60" fill="#DEEBF7"/>
<rect x="517.61" y="228.47" width="7.13" height="11.60" fill="#DEEBF7"/>
<rect x="533.95" y="228.47" width="7.13" height="11.60" fill="#DEEBF7"/>
<rect x="541.98" y="228.47" width="7.13" height="11.60" fill="#4472C4"/>
<rect x="550.01" y="228.47" width="7.13" height="11.60" fill="#DEEBF7"/>
<rect x="558.04" y="228.47" width="7.13" height="11.60" fill="#DEEBF7"/>
<rect x="566.07" y="228.47" width="7.13" height="11.60" fill="#DEEBF7"/>
<rect x="574.10" y="228.47" width="7.13" height="11.60" fill="#DEEBF7"/>
<text transform="translate(114.00,238.88) rotate(0.05) scale(1.015,1)" font-size="10.3" text-anchor="end" fill="#111" stroke="#111" stroke-width="0.18">NF2</text>
</g>
<rect x="115.60" y="192.10" width="216.81" height="48.20" fill="none" stroke="#1a1a1a" stroke-width="0.9"/>
<path d="M123.63 191.40v1.4M123.63 239.60v1.4M131.66 191.40v1.4M131.66 239.60v1.4M139.69 191.40v1.4M139.69 239.60v1.4M147.72 191.40v1.4M147.72 239.60v1.4M155.75 191.40v1.4M155.75 239.60v1.4M163.78 191.40v1.4M163.78 239.60v1.4M171.81 191.40v1.4M171.81 239.60v1.4M179.84 191.40v1.4M179.84 239.60v1.4M187.87 191.40v1.4M187.87 239.60v1.4M195.90 191.40v1.4M195.90 239.60v1.4M203.93 191.40v1.4M203.93 239.60v1.4M211.96 191.40v1.4M211.96 239.60v1.4M219.99 191.40v1.4M219.99 239.60v1.4M228.02 191.40v1.4M228.02 239.60v1.4M236.05 191.40v1.4M236.05 239.60v1.4M244.08 191.40v1.4M244.08 239.60v1.4M252.11 191.40v1.4M252.11 239.60v1.4M260.14 191.40v1.4M260.14 239.60v1.4M268.17 191.40v1.4M268.17 239.60v1.4M276.20 191.40v1.4M276.20 239.60v1.4M284.23 191.40v1.4M284.23 239.60v1.4M292.26 191.40v1.4M292.26 239.60v1.4M300.29 191.40v1.4M300.29 239.60v1.4M308.32 191.40v1.4M308.32 239.60v1.4M316.35 191.40v1.4M316.35 239.60v1.4M324.38 191.40v1.4M324.38 239.60v1.4" stroke="#fff" stroke-opacity="0.7" stroke-width="0.9" fill="none"/>
<rect x="340.50" y="192.10" width="184.69" height="48.20" fill="none" stroke="#1a1a1a" stroke-width="0.9"/>
<path d="M348.53 191.40v1.4M348.53 239.60v1.4M356.56 191.40v1.4M356.56 239.60v1.4M364.59 191.40v1.4M364.59 239.60v1.4M372.62 191.40v1.4M372.62 239.60v1.4M380.65 191.40v1.4M380.65 239.60v1.4M388.68 191.40v1.4M388.68 239.60v1.4M396.71 191.40v1.4M396.71 239.60v1.4M404.74 191.40v1.4M404.74 239.60v1.4M412.77 191.40v1.4M412.77 239.60v1.4M420.80 191.40v1.4M420.80 239.60v1.4M428.83 191.40v1.4M428.83 239.60v1.4M436.86 191.40v1.4M436.86 239.60v1.4M444.89 191.40v1.4M444.89 239.60v1.4M452.92 191.40v1.4M452.92 239.60v1.4M460.95 191.40v1.4M460.95 239.60v1.4M468.98 191.40v1.4M468.98 239.60v1.4M477.01 191.40v1.4M477.01 239.60v1.4M485.04 191.40v1.4M485.04 239.60v1.4M493.07 191.40v1.4M493.07 239.60v1.4M501.10 191.40v1.4M501.10 239.60v1.4M509.13 191.40v1.4M509.13 239.60v1.4M517.16 191.40v1.4M517.16 239.60v1.4" stroke="#fff" stroke-opacity="0.7" stroke-width="0.9" fill="none"/>
<rect x="533.50" y="192.10" width="48.18" height="48.20" fill="none" stroke="#1a1a1a" stroke-width="0.9"/>
<path d="M541.53 191.40v1.4M541.53 239.60v1.4M549.56 191.40v1.4M549.56 239.60v1.4M557.59 191.40v1.4M557.59 239.60v1.4M565.62 191.40v1.4M565.62 239.60v1.4M573.65 191.40v1.4M573.65 239.60v1.4" stroke="#fff" stroke-opacity="0.7" stroke-width="0.9" fill="none"/>
<g>
<rect x="116.05" y="245.62" width="7.13" height="11.57" fill="#F2F2F2"/>
<rect x="124.08" y="245.62" width="7.13" height="11.57" fill="#F2F2F2"/>
<rect x="132.11" y="245.62" width="7.13" height="11.57" fill="#000000"/>
<rect x="140.14" y="245.62" width="7.13" height="11.57" fill="#F2F2F2"/>
<rect x="148.17" y="245.62" width="7.13" height="11.57" fill="#F2F2F2"/>
<rect x="156.20" y="245.62" width="7.13" height="11.57" fill="#000000"/>
<rect x="164.23" y="245.62" width="7.13" height="11.57" fill="#000000"/>
<rect x="172.26" y="245.62" width="7.13" height="11.57" fill="#000000"/>
<rect x="180.29" y="245.62" width="7.13" height="11.57" fill="#000000"/>
<rect x="188.32" y="245.62" width="7.13" height="11.57" fill="#F2F2F2"/>
<rect x="196.35" y="245.62" width="7.13" height="11.57" fill="#000000"/>
<rect x="204.38" y="245.62" width="7.13" height="11.57" fill="#F2F2F2"/>
<rect x="212.41" y="245.62" width="7.13" height="11.57" fill="#000000"/>
<rect x="220.44" y="245.62" width="7.13" height="11.57" fill="#000000"/>
<rect x="228.47" y="245.62" width="7.13" height="11.57" fill="#F2F2F2"/>
<rect x="236.50" y="245.62" width="7.13" height="11.57" fill="#F2F2F2"/>
<rect x="244.53" y="245.62" width="7.13" height="11.57" fill="#000000"/>
<rect x="252.56" y="245.62" width="7.13" height="11.57" fill="#FFFFFF"/>
<rect x="260.59" y="245.62" width="7.13" height="11.57" fill="#F2F2F2"/>
<rect x="268.62" y="245.62" width="7.13" height="11.57" fill="#000000"/>
<rect x="276.65" y="245.62" width="7.13" height="11.57" fill="#000000"/>
<rect x="284.68" y="245.62" width="7.13" height="11.57" fill="#F2F2F2"/>
<rect x="292.71" y="245.62" width="7.13" height="11.57" fill="#F2F2F2"/>
<rect x="300.74" y="245.62" width="7.13" height="11.57" fill="#000000"/>
<rect x="308.77" y="245.62" width="7.13" height="11.57" fill="#000000"/>
<rect x="316.80" y="245.62" width="7.13" height="11.57" fill="#000000"/>
<rect x="324.83" y="245.62" width="7.13" height="11.57" fill="#000000"/>
<rect x="340.95" y="245.62" width="7.13" height="11.57" fill="#000000"/>
<rect x="348.98" y="245.62" width="7.13" height="11.57" fill="#F2F2F2"/>
<rect x="357.01" y="245.62" width="7.13" height="11.57" fill="#000000"/>
<rect x="365.04" y="245.62" width="7.13" height="11.57" fill="#F2F2F2"/>
<rect x="373.07" y="245.62" width="7.13" height="11.57" fill="#F2F2F2"/>
<rect x="381.10" y="245.62" width="7.13" height="11.57" fill="#F2F2F2"/>
<rect x="389.13" y="245.62" width="7.13" height="11.57" fill="#F2F2F2"/>
<rect x="397.16" y="245.62" width="7.13" height="11.57" fill="#F2F2F2"/>
<rect x="405.19" y="245.62" width="7.13" height="11.57" fill="#000000"/>
<rect x="413.22" y="245.62" width="7.13" height="11.57" fill="#F2F2F2"/>
<rect x="421.25" y="245.62" width="7.13" height="11.57" fill="#000000"/>
<rect x="429.28" y="245.62" width="7.13" height="11.57" fill="#F2F2F2"/>
<rect x="437.31" y="245.62" width="7.13" height="11.57" fill="#000000"/>
<rect x="445.34" y="245.62" width="7.13" height="11.57" fill="#F2F2F2"/>
<rect x="453.37" y="245.62" width="7.13" height="11.57" fill="#000000"/>
<rect x="461.40" y="245.62" width="7.13" height="11.57" fill="#F2F2F2"/>
<rect x="469.43" y="245.62" width="7.13" height="11.57" fill="#FFFFFF"/>
<rect x="477.46" y="245.62" width="7.13" height="11.57" fill="#F2F2F2"/>
<rect x="485.49" y="245.62" width="7.13" height="11.57" fill="#F2F2F2"/>
<rect x="493.52" y="245.62" width="7.13" height="11.57" fill="#FFFFFF"/>
<rect x="501.55" y="245.62" width="7.13" height="11.57" fill="#F2F2F2"/>
<rect x="509.58" y="245.62" width="7.13" height="11.57" fill="#000000"/>
<rect x="517.61" y="245.62" width="7.13" height="11.57" fill="#F2F2F2"/>
<rect x="533.95" y="245.62" width="7.13" height="11.57" fill="#000000"/>
<rect x="541.98" y="245.62" width="7.13" height="11.57" fill="#000000"/>
<rect x="550.01" y="245.62" width="7.13" height="11.57" fill="#000000"/>
<rect x="558.04" y="245.62" width="7.13" height="11.57" fill="#000000"/>
<rect x="566.07" y="245.62" width="7.13" height="11.57" fill="#F2F2F2"/>
<rect x="574.10" y="245.62" width="7.13" height="11.57" fill="#000000"/>
<text transform="translate(114.00,256.01) rotate(0.05) scale(1.015,1)" font-size="10.3" text-anchor="end" fill="#111" stroke="#111" stroke-width="0.18">SCNA burden</text>
<rect x="116.05" y="257.64" width="7.13" height="11.57" fill="#F2F2F2"/>
<rect x="124.08" y="257.64" width="7.13" height="11.57" fill="#F2F2F2"/>
<rect x="132.11" y="257.64" width="7.13" height="11.57" fill="#000000"/>
<rect x="140.14" y="257.64" width="7.13" height="11.57" fill="#000000"/>
<rect x="148.17" y="257.64" width="7.13" height="11.57" fill="#000000"/>
<rect x="156.20" y="257.64" width="7.13" height="11.57" fill="#000000"/>
<rect x="164.23" y="257.64" width="7.13" height="11.57" fill="#000000"/>
<rect x="172.26" y="257.64" width="7.13" height="11.57" fill="#000000"/>
<rect x="180.29" y="257.64" width="7.13" height="11.57" fill="#000000"/>
<rect x="188.32" y="257.64" width="7.13" height="11.57" fill="#000000"/>
<rect x="196.35" y="257.64" width="7.13" height="11.57" fill="#000000"/>
<rect x="204.38" y="257.64" width="7.13" height="11.57" fill="#F2F2F2"/>
<rect x="212.41" y="257.64" width="7.13" height="11.57" fill="#F2F2F2"/>
<rect x="220.44" y="257.64" width="7.13" height="11.57" fill="#F2F2F2"/>
<rect x="228.47" y="257.64" width="7.13" height="11.57" fill="#000000"/>
<rect x="236.50" y="257.64" width="7.13" height="11.57" fill="#000000"/>
<rect x="244.53" y="257.64" width="7.13" height="11.57" fill="#F2F2F2"/>
<rect x="252.56" y="257.64" width="7.13" height="11.57" fill="#FFFFFF"/>
<rect x="260.59" y="257.64" width="7.13" height="11.57" fill="#000000"/>
<rect x="268.62" y="257.64" width="7.13" height="11.57" fill="#000000"/>
<rect x="276.65" y="257.64" width="7.13" height="11.57" fill="#000000"/>
<rect x="284.68" y="257.64" width="7.13" height="11.57" fill="#000000"/>
<rect x="292.71" y="257.64" width="7.13" height="11.57" fill="#F2F2F2"/>
<rect x="300.74" y="257.64" width="7.13" height="11.57" fill="#000000"/>
<rect x="308.77" y="257.64" width="7.13" height="11.57" fill="#000000"/>
<rect x="316.80" y="257.64" width="7.13" height="11.57" fill="#000000"/>
<rect x="324.83" y="257.64" width="7.13" height="11.57" fill="#000000"/>
<rect x="340.95" y="257.64" width="7.13" height="11.57" fill="#000000"/>
<rect x="348.98" y="257.64" width="7.13" height="11.57" fill="#F2F2F2"/>
<rect x="357.01" y="257.64" width="7.13" height="11.57" fill="#000000"/>
<rect x="365.04" y="257.64" width="7.13" height="11.57" fill="#000000"/>
<rect x="373.07" y="257.64" width="7.13" height="11.57" fill="#F2F2F2"/>
<rect x="381.10" y="257.64" width="7.13" height="11.57" fill="#F2F2F2"/>
<rect x="389.13" y="257.64" width="7.13" height="11.57" fill="#F2F2F2"/>
<rect x="397.16" y="257.64" width="7.13" height="11.57" fill="#000000"/>
<rect x="405.19" y="257.64" width="7.13" height="11.57" fill="#000000"/>
<rect x="413.22" y="257.64" width="7.13" height="11.57" fill="#F2F2F2"/>
<rect x="421.25" y="257.64" width="7.13" height="11.57" fill="#000000"/>
<rect x="429.28" y="257.64" width="7.13" height="11.57" fill="#000000"/>
<rect x="437.31" y="257.64" width="7.13" height="11.57" fill="#000000"/>
<rect x="445.34" y="257.64" width="7.13" height="11.57" fill="#F2F2F2"/>
<rect x="453.37" y="257.64" width="7.13" height="11.57" fill="#000000"/>
<rect x="461.40" y="257.64" width="7.13" height="11.57" fill="#F2F2F2"/>
<rect x="469.43" y="257.64" width="7.13" height="11.57" fill="#FFFFFF"/>
<rect x="477.46" y="257.64" width="7.13" height="11.57" fill="#F2F2F2"/>
<rect x="485.49" y="257.64" width="7.13" height="11.57" fill="#000000"/>
<rect x="493.52" y="257.64" width="7.13" height="11.57" fill="#FFFFFF"/>
<rect x="501.55" y="257.64" width="7.13" height="11.57" fill="#F2F2F2"/>
<rect x="509.58" y="257.64" width="7.13" height="11.57" fill="#F2F2F2"/>
<rect x="517.61" y="257.64" width="7.13" height="11.57" fill="#F2F2F2"/>
<rect x="533.95" y="257.64" width="7.13" height="11.57" fill="#F2F2F2"/>
<rect x="541.98" y="257.64" width="7.13" height="11.57" fill="#F2F2F2"/>
<rect x="550.01" y="257.64" width="7.13" height="11.57" fill="#F2F2F2"/>
<rect x="558.04" y="257.64" width="7.13" height="11.57" fill="#F2F2F2"/>
<rect x="566.07" y="257.64" width="7.13" height="11.57" fill="#000000"/>
<rect x="574.10" y="257.64" width="7.13" height="11.57" fill="#F2F2F2"/>
<text transform="translate(114.00,268.03) rotate(0.05) scale(1.015,1)" font-size="10.3" text-anchor="end" fill="#111" stroke="#111" stroke-width="0.18">Del.burden</text>
<rect x="116.05" y="269.66" width="7.13" height="11.57" fill="#F2F2F2"/>
<rect x="124.08" y="269.66" width="7.13" height="11.57" fill="#F2F2F2"/>
<rect x="132.11" y="269.66" width="7.13" height="11.57" fill="#F2F2F2"/>
<rect x="140.14" y="269.66" width="7.13" height="11.57" fill="#F2F2F2"/>
<rect x="148.17" y="269.66" width="7.13" height="11.57" fill="#F2F2F2"/>
<rect x="156.20" y="269.66" width="7.13" height="11.57" fill="#F2F2F2"/>
<rect x="164.23" y="269.66" width="7.13" height="11.57" fill="#000000"/>
<rect x="172.26" y="269.66" width="7.13" height="11.57" fill="#000000"/>
<rect x="180.29" y="269.66" width="7.13" height="11.57" fill="#000000"/>
<rect x="188.32" y="269.66" width="7.13" height="11.57" fill="#F2F2F2"/>
<rect x="196.35" y="269.66" width="7.13" height="11.57" fill="#F2F2F2"/>
<rect x="204.38" y="269.66" width="7.13" height="11.57" fill="#000000"/>
<rect x="212.41" y="269.66" width="7.13" height="11.57" fill="#000000"/>
<rect x="220.44" y="269.66" width="7.13" height="11.57" fill="#000000"/>
<rect x="228.47" y="269.66" width="7.13" height="11.57" fill="#F2F2F2"/>
<rect x="236.50" y="269.66" width="7.13" height="11.57" fill="#F2F2F2"/>
<rect x="244.53" y="269.66" width="7.13" height="11.57" fill="#000000"/>
<rect x="252.56" y="269.66" width="7.13" height="11.57" fill="#FFFFFF"/>
<rect x="260.59" y="269.66" width="7.13" height="11.57" fill="#F2F2F2"/>
<rect x="268.62" y="269.66" width="7.13" height="11.57" fill="#000000"/>
<rect x="276.65" y="269.66" width="7.13" height="11.57" fill="#000000"/>
<rect x="284.68" y="269.66" width="7.13" height="11.57" fill="#F2F2F2"/>
<rect x="292.71" y="269.66" width="7.13" height="11.57" fill="#F2F2F2"/>
<rect x="300.74" y="269.66" width="7.13" height="11.57" fill="#F2F2F2"/>
<rect x="308.77" y="269.66" width="7.13" height="11.57" fill="#F2F2F2"/>
<rect x="316.80" y="269.66" width="7.13" height="11.57" fill="#F2F2F2"/>
<rect x="324.83" y="269.66" width="7.13" height="11.57" fill="#000000"/>
<rect x="340.95" y="269.66" width="7.13" height="11.57" fill="#000000"/>
<rect x="348.98" y="269.66" width="7.13" height="11.57" fill="#F2F2F2"/>
<rect x="357.01" y="269.66" width="7.13" height="11.57" fill="#000000"/>
<rect x="365.04" y="269.66" width="7.13" height="11.57" fill="#F2F2F2"/>
<rect x="373.07" y="269.66" width="7.13" height="11.57" fill="#000000"/>
<rect x="381.10" y="269.66" width="7.13" height="11.57" fill="#F2F2F2"/>
<rect x="389.13" y="269.66" width="7.13" height="11.57" fill="#F2F2F2"/>
<rect x="397.16" y="269.66" width="7.13" height="11.57" fill="#F2F2F2"/>
<rect x="405.19" y="269.66" width="7.13" height="11.57" fill="#000000"/>
<rect x="413.22" y="269.66" width="7.13" height="11.57" fill="#F2F2F2"/>
<rect x="421.25" y="269.66" width="7.13" height="11.57" fill="#000000"/>
<rect x="429.28" y="269.66" width="7.13" height="11.57" fill="#F2F2F2"/>
<rect x="437.31" y="269.66" width="7.13" height="11.57" fill="#000000"/>
<rect x="445.34" y="269.66" width="7.13" height="11.57" fill="#F2F2F2"/>
<rect x="453.37" y="269.66" width="7.13" height="11.57" fill="#F2F2F2"/>
<rect x="461.40" y="269.66" width="7.13" height="11.57" fill="#F2F2F2"/>
<rect x="469.43" y="269.66" width="7.13" height="11.57" fill="#FFFFFF"/>
<rect x="477.46" y="269.66" width="7.13" height="11.57" fill="#000000"/>
<rect x="485.49" y="269.66" width="7.13" height="11.57" fill="#F2F2F2"/>
<rect x="493.52" y="269.66" width="7.13" height="11.57" fill="#FFFFFF"/>
<rect x="501.55" y="269.66" width="7.13" height="11.57" fill="#F2F2F2"/>
<rect x="509.58" y="269.66" width="7.13" height="11.57" fill="#000000"/>
<rect x="517.61" y="269.66" width="7.13" height="11.57" fill="#F2F2F2"/>
<rect x="533.95" y="269.66" width="7.13" height="11.57" fill="#000000"/>
<rect x="541.98" y="269.66" width="7.13" height="11.57" fill="#000000"/>
<rect x="550.01" y="269.66" width="7.13" height="11.57" fill="#000000"/>
<rect x="558.04" y="269.66" width="7.13" height="11.57" fill="#000000"/>
<rect x="566.07" y="269.66" width="7.13" height="11.57" fill="#F2F2F2"/>
<rect x="574.10" y="269.66" width="7.13" height="11.57" fill="#000000"/>
<text transform="translate(114.00,280.04) rotate(0.05) scale(1.015,1)" font-size="10.3" text-anchor="end" fill="#111" stroke="#111" stroke-width="0.18">Amp.burden</text>
<rect x="116.05" y="281.68" width="7.13" height="11.57" fill="#F2F2F2"/>
<rect x="124.08" y="281.68" width="7.13" height="11.57" fill="#F2F2F2"/>
<rect x="132.11" y="281.68" width="7.13" height="11.57" fill="#F2F2F2"/>
<rect x="140.14" y="281.68" width="7.13" height="11.57" fill="#F2F2F2"/>
<rect x="148.17" y="281.68" width="7.13" height="11.57" fill="#F2F2F2"/>
<rect x="156.20" y="281.68" width="7.13" height="11.57" fill="#000000"/>
<rect x="164.23" y="281.68" width="7.13" height="11.57" fill="#000000"/>
<rect x="172.26" y="281.68" width="7.13" height="11.57" fill="#000000"/>
<rect x="180.29" y="281.68" width="7.13" height="11.57" fill="#000000"/>
<rect x="188.32" y="281.68" width="7.13" height="11.57" fill="#F2F2F2"/>
<rect x="196.35" y="281.68" width="7.13" height="11.57" fill="#F2F2F2"/>
<rect x="204.38" y="281.68" width="7.13" height="11.57" fill="#000000"/>
<rect x="212.41" y="281.68" width="7.13" height="11.57" fill="#000000"/>
<rect x="220.44" y="281.68" width="7.13" height="11.57" fill="#000000"/>
<rect x="228.47" y="281.68" width="7.13" height="11.57" fill="#F2F2F2"/>
<rect x="236.50" y="281.68" width="7.13" height="11.57" fill="#F2F2F2"/>
<rect x="244.53" y="281.68" width="7.13" height="11.57" fill="#000000"/>
<rect x="252.56" y="281.68" width="7.13" height="11.57" fill="#F2F2F2"/>
<rect x="260.59" y="281.68" width="7.13" height="11.57" fill="#F2F2F2"/>
<rect x="268.62" y="281.68" width="7.13" height="11.57" fill="#000000"/>
<rect x="276.65" y="281.68" width="7.13" height="11.57" fill="#000000"/>
<rect x="284.68" y="281.68" width="7.13" height="11.57" fill="#F2F2F2"/>
<rect x="292.71" y="281.68" width="7.13" height="11.57" fill="#F2F2F2"/>
<rect x="300.74" y="281.68" width="7.13" height="11.57" fill="#000000"/>
<rect x="308.77" y="281.68" width="7.13" height="11.57" fill="#F2F2F2"/>
<rect x="316.80" y="281.68" width="7.13" height="11.57" fill="#F2F2F2"/>
<rect x="324.83" y="281.68" width="7.13" height="11.57" fill="#000000"/>
<rect x="340.95" y="281.68" width="7.13" height="11.57" fill="#000000"/>
<rect x="348.98" y="281.68" width="7.13" height="11.57" fill="#F2F2F2"/>
<rect x="357.01" y="281.68" width="7.13" height="11.57" fill="#F2F2F2"/>
<rect x="365.04" y="281.68" width="7.13" height="11.57" fill="#F2F2F2"/>
<rect x="373.07" y="281.68" width="7.13" height="11.57" fill="#F2F2F2"/>
<rect x="381.10" y="281.68" width="7.13" height="11.57" fill="#000000"/>
<rect x="389.13" y="281.68" width="7.13" height="11.57" fill="#F2F2F2"/>
<rect x="397.16" y="281.68" width="7.13" height="11.57" fill="#F2F2F2"/>
<rect x="405.19" y="281.68" width="7.13" height="11.57" fill="#F2F2F2"/>
<rect x="413.22" y="281.68" width="7.13" height="11.57" fill="#000000"/>
<rect x="421.25" y="281.68" width="7.13" height="11.57" fill="#000000"/>
<rect x="429.28" y="281.68" width="7.13" height="11.57" fill="#F2F2F2"/>
<rect x="437.31" y="281.68" width="7.13" height="11.57" fill="#000000"/>
<rect x="445.34" y="281.68" width="7.13" height="11.57" fill="#F2F2F2"/>
<rect x="453.37" y="281.68" width="7.13" height="11.57" fill="#000000"/>
<rect x="461.40" y="281.68" width="7.13" height="11.57" fill="#000000"/>
<rect x="469.43" y="281.68" width="7.13" height="11.57" fill="#F2F2F2"/>
<rect x="477.46" y="281.68" width="7.13" height="11.57" fill="#F2F2F2"/>
<rect x="485.49" y="281.68" width="7.13" height="11.57" fill="#000000"/>
<rect x="493.52" y="281.68" width="7.13" height="11.57" fill="#F2F2F2"/>
<rect x="501.55" y="281.68" width="7.13" height="11.57" fill="#F2F2F2"/>
<rect x="509.58" y="281.68" width="7.13" height="11.57" fill="#000000"/>
<rect x="517.61" y="281.68" width="7.13" height="11.57" fill="#F2F2F2"/>
<rect x="533.95" y="281.68" width="7.13" height="11.57" fill="#000000"/>
<rect x="541.98" y="281.68" width="7.13" height="11.57" fill="#000000"/>
<rect x="550.01" y="281.68" width="7.13" height="11.57" fill="#000000"/>
<rect x="558.04" y="281.68" width="7.13" height="11.57" fill="#000000"/>
<rect x="566.07" y="281.68" width="7.13" height="11.57" fill="#000000"/>
<rect x="574.10" y="281.68" width="7.13" height="11.57" fill="#000000"/>
<text transform="translate(111.20,292.06) rotate(0.05) scale(1.015,1)" font-size="10.3" text-anchor="end" fill="#111" stroke="#111" stroke-width="0.18">17q gain</text>
<rect x="116.05" y="293.69" width="7.13" height="11.57" fill="#F2F2F2"/>
<rect x="124.08" y="293.69" width="7.13" height="11.57" fill="#F2F2F2"/>
<rect x="132.11" y="293.69" width="7.13" height="11.57" fill="#F2F2F2"/>
<rect x="140.14" y="293.69" width="7.13" height="11.57" fill="#F2F2F2"/>
<rect x="148.17" y="293.69" width="7.13" height="11.57" fill="#F2F2F2"/>
<rect x="156.20" y="293.69" width="7.13" height="11.57" fill="#F2F2F2"/>
<rect x="164.23" y="293.69" width="7.13" height="11.57" fill="#000000"/>
<rect x="172.26" y="293.69" width="7.13" height="11.57" fill="#000000"/>
<rect x="180.29" y="293.69" width="7.13" height="11.57" fill="#000000"/>
<rect x="188.32" y="293.69" width="7.13" height="11.57" fill="#F2F2F2"/>
<rect x="196.35" y="293.69" width="7.13" height="11.57" fill="#000000"/>
<rect x="204.38" y="293.69" width="7.13" height="11.57" fill="#000000"/>
<rect x="212.41" y="293.69" width="7.13" height="11.57" fill="#000000"/>
<rect x="220.44" y="293.69" width="7.13" height="11.57" fill="#000000"/>
<rect x="228.47" y="293.69" width="7.13" height="11.57" fill="#F2F2F2"/>
<rect x="236.50" y="293.69" width="7.13" height="11.57" fill="#F2F2F2"/>
<rect x="244.53" y="293.69" width="7.13" height="11.57" fill="#000000"/>
<rect x="252.56" y="293.69" width="7.13" height="11.57" fill="#F2F2F2"/>
<rect x="260.59" y="293.69" width="7.13" height="11.57" fill="#F2F2F2"/>
<rect x="268.62" y="293.69" width="7.13" height="11.57" fill="#000000"/>
<rect x="276.65" y="293.69" width="7.13" height="11.57" fill="#000000"/>
<rect x="284.68" y="293.69" width="7.13" height="11.57" fill="#F2F2F2"/>
<rect x="292.71" y="293.69" width="7.13" height="11.57" fill="#F2F2F2"/>
<rect x="300.74" y="293.69" width="7.13" height="11.57" fill="#000000"/>
<rect x="308.77" y="293.69" width="7.13" height="11.57" fill="#F2F2F2"/>
<rect x="316.80" y="293.69" width="7.13" height="11.57" fill="#F2F2F2"/>
<rect x="324.83" y="293.69" width="7.13" height="11.57" fill="#F2F2F2"/>
<rect x="340.95" y="293.69" width="7.13" height="11.57" fill="#F2F2F2"/>
<rect x="348.98" y="293.69" width="7.13" height="11.57" fill="#F2F2F2"/>
<rect x="357.01" y="293.69" width="7.13" height="11.57" fill="#F2F2F2"/>
<rect x="365.04" y="293.69" width="7.13" height="11.57" fill="#F2F2F2"/>
<rect x="373.07" y="293.69" width="7.13" height="11.57" fill="#F2F2F2"/>
<rect x="381.10" y="293.69" width="7.13" height="11.57" fill="#000000"/>
<rect x="389.13" y="293.69" width="7.13" height="11.57" fill="#F2F2F2"/>
<rect x="397.16" y="293.69" width="7.13" height="11.57" fill="#F2F2F2"/>
<rect x="405.19" y="293.69" width="7.13" height="11.57" fill="#000000"/>
<rect x="413.22" y="293.69" width="7.13" height="11.57" fill="#F2F2F2"/>
<rect x="421.25" y="293.69" width="7.13" height="11.57" fill="#000000"/>
<rect x="429.28" y="293.69" width="7.13" height="11.57" fill="#F2F2F2"/>
<rect x="437.31" y="293.69" width="7.13" height="11.57" fill="#000000"/>
<rect x="445.34" y="293.69" width="7.13" height="11.57" fill="#000000"/>
<rect x="453.37" y="293.69" width="7.13" height="11.57" fill="#000000"/>
<rect x="461.40" y="293.69" width="7.13" height="11.57" fill="#F2F2F2"/>
<rect x="469.43" y="293.69" width="7.13" height="11.57" fill="#F2F2F2"/>
<rect x="477.46" y="293.69" width="7.13" height="11.57" fill="#F2F2F2"/>
<rect x="485.49" y="293.69" width="7.13" height="11.57" fill="#F2F2F2"/>
<rect x="493.52" y="293.69" width="7.13" height="11.57" fill="#F2F2F2"/>
<rect x="501.55" y="293.69" width="7.13" height="11.57" fill="#F2F2F2"/>
<rect x="509.58" y="293.69" width="7.13" height="11.57" fill="#000000"/>
<rect x="517.61" y="293.69" width="7.13" height="11.57" fill="#F2F2F2"/>
<rect x="533.95" y="293.69" width="7.13" height="11.57" fill="#000000"/>
<rect x="541.98" y="293.69" width="7.13" height="11.57" fill="#000000"/>
<rect x="550.01" y="293.69" width="7.13" height="11.57" fill="#000000"/>
<rect x="558.04" y="293.69" width="7.13" height="11.57" fill="#000000"/>
<rect x="566.07" y="293.69" width="7.13" height="11.57" fill="#000000"/>
<rect x="574.10" y="293.69" width="7.13" height="11.57" fill="#000000"/>
<text transform="translate(111.20,304.08) rotate(0.05) scale(1.015,1)" font-size="10.3" text-anchor="end" fill="#111" stroke="#111" stroke-width="0.18">16p gain</text>
<rect x="116.05" y="305.71" width="7.13" height="11.57" fill="#F2F2F2"/>
<rect x="124.08" y="305.71" width="7.13" height="11.57" fill="#F2F2F2"/>
<rect x="132.11" y="305.71" width="7.13" height="11.57" fill="#000000"/>
<rect x="140.14" y="305.71" width="7.13" height="11.57" fill="#F2F2F2"/>
<rect x="148.17" y="305.71" width="7.13" height="11.57" fill="#F2F2F2"/>
<rect x="156.20" y="305.71" width="7.13" height="11.57" fill="#F2F2F2"/>
<rect x="164.23" y="305.71" width="7.13" height="11.57" fill="#F2F2F2"/>
<rect x="172.26" y="305.71" width="7.13" height="11.57" fill="#000000"/>
<rect x="180.29" y="305.71" width="7.13" height="11.57" fill="#000000"/>
<rect x="188.32" y="305.71" width="7.13" height="11.57" fill="#F2F2F2"/>
<rect x="196.35" y="305.71" width="7.13" height="11.57" fill="#000000"/>
<rect x="204.38" y="305.71" width="7.13" height="11.57" fill="#000000"/>
<rect x="212.41" y="305.71" width="7.13" height="11.57" fill="#000000"/>
<rect x="220.44" y="305.71" width="7.13" height="11.57" fill="#000000"/>
<rect x="228.47" y="305.71" width="7.13" height="11.57" fill="#F2F2F2"/>
<rect x="236.50" y="305.71" width="7.13" height="11.57" fill="#F2F2F2"/>
<rect x="244.53" y="305.71" width="7.13" height="11.57" fill="#000000"/>
<rect x="252.56" y="305.71" width="7.13" height="11.57" fill="#F2F2F2"/>
<rect x="260.59" y="305.71" width="7.13" height="11.57" fill="#F2F2F2"/>
<rect x="268.62" y="305.71" width="7.13" height="11.57" fill="#000000"/>
<rect x="276.65" y="305.71" width="7.13" height="11.57" fill="#000000"/>
<rect x="284.68" y="305.71" width="7.13" height="11.57" fill="#F2F2F2"/>
<rect x="292.71" y="305.71" width="7.13" height="11.57" fill="#F2F2F2"/>
<rect x="300.74" y="305.71" width="7.13" height="11.57" fill="#F2F2F2"/>
<rect x="308.77" y="305.71" width="7.13" height="11.57" fill="#F2F2F2"/>
<rect x="316.80" y="305.71" width="7.13" height="11.57" fill="#F2F2F2"/>
<rect x="324.83" y="305.71" width="7.13" height="11.57" fill="#F2F2F2"/>
<rect x="340.95" y="305.71" width="7.13" height="11.57" fill="#F2F2F2"/>
<rect x="348.98" y="305.71" width="7.13" height="11.57" fill="#F2F2F2"/>
<rect x="357.01" y="305.71" width="7.13" height="11.57" fill="#F2F2F2"/>
<rect x="365.04" y="305.71" width="7.13" height="11.57" fill="#F2F2F2"/>
<rect x="373.07" y="305.71" width="7.13" height="11.57" fill="#F2F2F2"/>
<rect x="381.10" y="305.71" width="7.13" height="11.57" fill="#000000"/>
<rect x="389.13" y="305.71" width="7.13" height="11.57" fill="#F2F2F2"/>
<rect x="397.16" y="305.71" width="7.13" height="11.57" fill="#F2F2F2"/>
<rect x="405.19" y="305.71" width="7.13" height="11.57" fill="#000000"/>
<rect x="413.22" y="305.71" width="7.13" height="11.57" fill="#F2F2F2"/>
<rect x="421.25" y="305.71" width="7.13" height="11.57" fill="#000000"/>
<rect x="429.28" y="305.71" width="7.13" height="11.57" fill="#F2F2F2"/>
<rect x="437.31" y="305.71" width="7.13" height="11.57" fill="#000000"/>
<rect x="445.34" y="305.71" width="7.13" height="11.57" fill="#000000"/>
<rect x="453.37" y="305.71" width="7.13" height="11.57" fill="#F2F2F2"/>
<rect x="461.40" y="305.71" width="7.13" height="11.57" fill="#F2F2F2"/>
<rect x="469.43" y="305.71" width="7.13" height="11.57" fill="#F2F2F2"/>
<rect x="477.46" y="305.71" width="7.13" height="11.57" fill="#F2F2F2"/>
<rect x="485.49" y="305.71" width="7.13" height="11.57" fill="#F2F2F2"/>
<rect x="493.52" y="305.71" width="7.13" height="11.57" fill="#F2F2F2"/>
<rect x="501.55" y="305.71" width="7.13" height="11.57" fill="#F2F2F2"/>
<rect x="509.58" y="305.71" width="7.13" height="11.57" fill="#000000"/>
<rect x="517.61" y="305.71" width="7.13" height="11.57" fill="#F2F2F2"/>
<rect x="533.95" y="305.71" width="7.13" height="11.57" fill="#000000"/>
<rect x="541.98" y="305.71" width="7.13" height="11.57" fill="#000000"/>
<rect x="550.01" y="305.71" width="7.13" height="11.57" fill="#000000"/>
<rect x="558.04" y="305.71" width="7.13" height="11.57" fill="#000000"/>
<rect x="566.07" y="305.71" width="7.13" height="11.57" fill="#F2F2F2"/>
<rect x="574.10" y="305.71" width="7.13" height="11.57" fill="#000000"/>
<text transform="translate(111.20,316.09) rotate(0.05) scale(1.015,1)" font-size="10.3" text-anchor="end" fill="#111" stroke="#111" stroke-width="0.18">16q gain</text>
</g>
<rect x="115.60" y="245.40" width="216.81" height="72.10" fill="none" stroke="#1a1a1a" stroke-width="0.9"/>
<path d="M123.63 244.70v1.4M123.63 316.80v1.4M131.66 244.70v1.4M131.66 316.80v1.4M139.69 244.70v1.4M139.69 316.80v1.4M147.72 244.70v1.4M147.72 316.80v1.4M155.75 244.70v1.4M155.75 316.80v1.4M163.78 244.70v1.4M163.78 316.80v1.4M171.81 244.70v1.4M171.81 316.80v1.4M179.84 244.70v1.4M179.84 316.80v1.4M187.87 244.70v1.4M187.87 316.80v1.4M195.90 244.70v1.4M195.90 316.80v1.4M203.93 244.70v1.4M203.93 316.80v1.4M211.96 244.70v1.4M211.96 316.80v1.4M219.99 244.70v1.4M219.99 316.80v1.4M228.02 244.70v1.4M228.02 316.80v1.4M236.05 244.70v1.4M236.05 316.80v1.4M244.08 244.70v1.4M244.08 316.80v1.4M252.11 244.70v1.4M252.11 316.80v1.4M260.14 244.70v1.4M260.14 316.80v1.4M268.17 244.70v1.4M268.17 316.80v1.4M276.20 244.70v1.4M276.20 316.80v1.4M284.23 244.70v1.4M284.23 316.80v1.4M292.26 244.70v1.4M292.26 316.80v1.4M300.29 244.70v1.4M300.29 316.80v1.4M308.32 244.70v1.4M308.32 316.80v1.4M316.35 244.70v1.4M316.35 316.80v1.4M324.38 244.70v1.4M324.38 316.80v1.4" stroke="#fff" stroke-opacity="0.7" stroke-width="0.9" fill="none"/>
<rect x="340.50" y="245.40" width="184.69" height="72.10" fill="none" stroke="#1a1a1a" stroke-width="0.9"/>
<path d="M348.53 244.70v1.4M348.53 316.80v1.4M356.56 244.70v1.4M356.56 316.80v1.4M364.59 244.70v1.4M364.59 316.80v1.4M372.62 244.70v1.4M372.62 316.80v1.4M380.65 244.70v1.4M380.65 316.80v1.4M388.68 244.70v1.4M388.68 316.80v1.4M396.71 244.70v1.4M396.71 316.80v1.4M404.74 244.70v1.4M404.74 316.80v1.4M412.77 244.70v1.4M412.77 316.80v1.4M420.80 244.70v1.4M420.80 316.80v1.4M428.83 244.70v1.4M428.83 316.80v1.4M436.86 244.70v1.4M436.86 316.80v1.4M444.89 244.70v1.4M444.89 316.80v1.4M452.92 244.70v1.4M452.92 316.80v1.4M460.95 244.70v1.4M460.95 316.80v1.4M468.98 244.70v1.4M468.98 316.80v1.4M477.01 244.70v1.4M477.01 316.80v1.4M485.04 244.70v1.4M485.04 316.80v1.4M493.07 244.70v1.4M493.07 316.80v1.4M501.10 244.70v1.4M501.10 316.80v1.4M509.13 244.70v1.4M509.13 316.80v1.4M517.16 244.70v1.4M517.16 316.80v1.4" stroke="#fff" stroke-opacity="0.7" stroke-width="0.9" fill="none"/>
<rect x="533.50" y="245.40" width="48.18" height="72.10" fill="none" stroke="#1a1a1a" stroke-width="0.9"/>
<path d="M541.53 244.70v1.4M541.53 316.80v1.4M549.56 244.70v1.4M549.56 316.80v1.4M557.59 244.70v1.4M557.59 316.80v1.4M565.62 244.70v1.4M565.62 316.80v1.4M573.65 244.70v1.4M573.65 316.80v1.4" stroke="#fff" stroke-opacity="0.7" stroke-width="0.9" fill="none"/>
<g>
<rect x="116.05" y="322.62" width="7.13" height="11.55" fill="#5A8AC6"/>
<rect x="124.08" y="322.62" width="7.13" height="11.55" fill="#F8696B"/>
<rect x="132.11" y="322.62" width="7.13" height="11.55" fill="#F8696B"/>
<rect x="140.14" y="322.62" width="7.13" height="11.55" fill="#F8696B"/>
<rect x="148.17" y="322.62" width="7.13" height="11.55" fill="#F8696B"/>
<rect x="156.20" y="322.62" width="7.13" height="11.55" fill="#F2F2F2"/>
<rect x="164.23" y="322.62" width="7.13" height="11.55" fill="#5A8AC6"/>
<rect x="172.26" y="322.62" width="7.13" height="11.55" fill="#F8696B"/>
<rect x="180.29" y="322.62" width="7.13" height="11.55" fill="#F8696B"/>
<rect x="188.32" y="322.62" width="7.13" height="11.55" fill="#F2F2F2"/>
<rect x="196.35" y="322.62" width="7.13" height="11.55" fill="#F2F2F2"/>
<rect x="204.38" y="322.62" width="7.13" height="11.55" fill="#F2F2F2"/>
<rect x="212.41" y="322.62" width="7.13" height="11.55" fill="#5A8AC6"/>
<rect x="220.44" y="322.62" width="7.13" height="11.55" fill="#F8696B"/>
<rect x="228.47" y="322.62" width="7.13" height="11.55" fill="#F8696B"/>
<rect x="236.50" y="322.62" width="7.13" height="11.55" fill="#F2F2F2"/>
<rect x="244.53" y="322.62" width="7.13" height="11.55" fill="#F2F2F2"/>
<rect x="252.56" y="322.62" width="7.13" height="11.55" fill="#F2F2F2"/>
<rect x="260.59" y="322.62" width="7.13" height="11.55" fill="#F8696B"/>
<rect x="268.62" y="322.62" width="7.13" height="11.55" fill="#5A8AC6"/>
<rect x="276.65" y="322.62" width="7.13" height="11.55" fill="#5A8AC6"/>
<rect x="284.68" y="322.62" width="7.13" height="11.55" fill="#F8696B"/>
<rect x="292.71" y="322.62" width="7.13" height="11.55" fill="#F8696B"/>
<rect x="300.74" y="322.62" width="7.13" height="11.55" fill="#F8696B"/>
<rect x="308.77" y="322.62" width="7.13" height="11.55" fill="#F8696B"/>
<rect x="316.80" y="322.62" width="7.13" height="11.55" fill="#5A8AC6"/>
<rect x="324.83" y="322.62" width="7.13" height="11.55" fill="#F8696B"/>
<rect x="340.95" y="322.62" width="7.13" height="11.55" fill="#F8696B"/>
<rect x="348.98" y="322.62" width="7.13" height="11.55" fill="#5A8AC6"/>
<rect x="357.01" y="322.62" width="7.13" height="11.55" fill="#5A8AC6"/>
<rect x="365.04" y="322.62" width="7.13" height="11.55" fill="#F8696B"/>
<rect x="373.07" y="322.62" width="7.13" height="11.55" fill="#5A8AC6"/>
<rect x="381.10" y="322.62" width="7.13" height="11.55" fill="#5A8AC6"/>
<rect x="389.13" y="322.62" width="7.13" height="11.55" fill="#5A8AC6"/>
<rect x="397.16" y="322.62" width="7.13" height="11.55" fill="#5A8AC6"/>
<rect x="405.19" y="322.62" width="7.13" height="11.55" fill="#F8696B"/>
<rect x="413.22" y="322.62" width="7.13" height="11.55" fill="#F2F2F2"/>
<rect x="421.25" y="322.62" width="7.13" height="11.55" fill="#5A8AC6"/>
<rect x="429.28" y="322.62" width="7.13" height="11.55" fill="#F2F2F2"/>
<rect x="437.31" y="322.62" width="7.13" height="11.55" fill="#F2F2F2"/>
<rect x="445.34" y="322.62" width="7.13" height="11.55" fill="#F2F2F2"/>
<rect x="453.37" y="322.62" width="7.13" height="11.55" fill="#F2F2F2"/>
<rect x="461.40" y="322.62" width="7.13" height="11.55" fill="#F2F2F2"/>
<rect x="469.43" y="322.62" width="7.13" height="11.55" fill="#5A8AC6"/>
<rect x="477.46" y="322.62" width="7.13" height="11.55" fill="#5A8AC6"/>
<rect x="485.49" y="322.62" width="7.13" height="11.55" fill="#5A8AC6"/>
<rect x="493.52" y="322.62" width="7.13" height="11.55" fill="#F8696B"/>
<rect x="501.55" y="322.62" width="7.13" height="11.55" fill="#F2F2F2"/>
<rect x="509.58" y="322.62" width="7.13" height="11.55" fill="#5A8AC6"/>
<rect x="517.61" y="322.62" width="7.13" height="11.55" fill="#F2F2F2"/>
<rect x="533.95" y="322.62" width="7.13" height="11.55" fill="#F8696B"/>
<rect x="541.98" y="322.62" width="7.13" height="11.55" fill="#5A8AC6"/>
<rect x="550.01" y="322.62" width="7.13" height="11.55" fill="#5A8AC6"/>
<rect x="558.04" y="322.62" width="7.13" height="11.55" fill="#5A8AC6"/>
<rect x="566.07" y="322.62" width="7.13" height="11.55" fill="#F2F2F2"/>
<rect x="574.10" y="322.62" width="7.13" height="11.55" fill="#F2F2F2"/>
<text transform="translate(114.00,333.00) rotate(0.05) scale(1.015,1)" font-size="10.3" text-anchor="end" fill="#111" stroke="#111" stroke-width="0.18">CD8 IHC</text>
<rect x="116.05" y="334.62" width="7.13" height="11.55" fill="#F8696B"/>
<rect x="124.08" y="334.62" width="7.13" height="11.55" fill="#5A8AC6"/>
<rect x="132.11" y="334.62" width="7.13" height="11.55" fill="#5A8AC6"/>
<rect x="140.14" y="334.62" width="7.13" height="11.55" fill="#F8696B"/>
<rect x="148.17" y="334.62" width="7.13" height="11.55" fill="#F8696B"/>
<rect x="156.20" y="334.62" width="7.13" height="11.55" fill="#F8696B"/>
<rect x="164.23" y="334.62" width="7.13" height="11.55" fill="#F8696B"/>
<rect x="172.26" y="334.62" width="7.13" height="11.55" fill="#F8696B"/>
<rect x="180.29" y="334.62" width="7.13" height="11.55" fill="#F8696B"/>
<rect x="188.32" y="334.62" width="7.13" height="11.55" fill="#F8696B"/>
<rect x="196.35" y="334.62" width="7.13" height="11.55" fill="#F8696B"/>
<rect x="204.38" y="334.62" width="7.13" height="11.55" fill="#F8696B"/>
<rect x="212.41" y="334.62" width="7.13" height="11.55" fill="#F8696B"/>
<rect x="220.44" y="334.62" width="7.13" height="11.55" fill="#5A8AC6"/>
<rect x="228.47" y="334.62" width="7.13" height="11.55" fill="#F8696B"/>
<rect x="236.50" y="334.62" width="7.13" height="11.55" fill="#F8696B"/>
<rect x="244.53" y="334.62" width="7.13" height="11.55" fill="#F8696B"/>
<rect x="252.56" y="334.62" width="7.13" height="11.55" fill="#5A8AC6"/>
<rect x="260.59" y="334.62" width="7.13" height="11.55" fill="#5A8AC6"/>
<rect x="268.62" y="334.62" width="7.13" height="11.55" fill="#F8696B"/>
<rect x="276.65" y="334.62" width="7.13" height="11.55" fill="#5A8AC6"/>
<rect x="284.68" y="334.62" width="7.13" height="11.55" fill="#F8696B"/>
<rect x="292.71" y="334.62" width="7.13" height="11.55" fill="#F8696B"/>
<rect x="300.74" y="334.62" width="7.13" height="11.55" fill="#F8696B"/>
<rect x="308.77" y="334.62" width="7.13" height="11.55" fill="#F8696B"/>
<rect x="316.80" y="334.62" width="7.13" height="11.55" fill="#F8696B"/>
<rect x="324.83" y="334.62" width="7.13" height="11.55" fill="#F8696B"/>
<rect x="340.95" y="334.62" width="7.13" height="11.55" fill="#F8696B"/>
<rect x="348.98" y="334.62" width="7.13" height="11.55" fill="#5A8AC6"/>
<rect x="357.01" y="334.62" width="7.13" height="11.55" fill="#5A8AC6"/>
<rect x="365.04" y="334.62" width="7.13" height="11.55" fill="#5A8AC6"/>
<rect x="373.07" y="334.62" width="7.13" height="11.55" fill="#F8696B"/>
<rect x="381.10" y="334.62" width="7.13" height="11.55" fill="#F8696B"/>
<rect x="389.13" y="334.62" width="7.13" height="11.55" fill="#F8696B"/>
<rect x="397.16" y="334.62" width="7.13" height="11.55" fill="#5A8AC6"/>
<rect x="405.19" y="334.62" width="7.13" height="11.55" fill="#F8696B"/>
<rect x="413.22" y="334.62" width="7.13" height="11.55" fill="#5A8AC6"/>
<rect x="421.25" y="334.62" width="7.13" height="11.55" fill="#5A8AC6"/>
<rect x="429.28" y="334.62" width="7.13" height="11.55" fill="#5A8AC6"/>
<rect x="437.31" y="334.62" width="7.13" height="11.55" fill="#5A8AC6"/>
<rect x="445.34" y="334.62" width="7.13" height="11.55" fill="#5A8AC6"/>
<rect x="453.37" y="334.62" width="7.13" height="11.55" fill="#5A8AC6"/>
<rect x="461.40" y="334.62" width="7.13" height="11.55" fill="#F2F2F2"/>
<rect x="469.43" y="334.62" width="7.13" height="11.55" fill="#5A8AC6"/>
<rect x="477.46" y="334.62" width="7.13" height="11.55" fill="#F8696B"/>
<rect x="485.49" y="334.62" width="7.13" height="11.55" fill="#5A8AC6"/>
<rect x="493.52" y="334.62" width="7.13" height="11.55" fill="#5A8AC6"/>
<rect x="501.55" y="334.62" width="7.13" height="11.55" fill="#F2F2F2"/>
<rect x="509.58" y="334.62" width="7.13" height="11.55" fill="#F2F2F2"/>
<rect x="517.61" y="334.62" width="7.13" height="11.55" fill="#F8696B"/>
<rect x="533.95" y="334.62" width="7.13" height="11.55" fill="#F8696B"/>
<rect x="541.98" y="334.62" width="7.13" height="11.55" fill="#F8696B"/>
<rect x="550.01" y="334.62" width="7.13" height="11.55" fill="#F8696B"/>
<rect x="558.04" y="334.62" width="7.13" height="11.55" fill="#5A8AC6"/>
<rect x="566.07" y="334.62" width="7.13" height="11.55" fill="#F8696B"/>
<rect x="574.10" y="334.62" width="7.13" height="11.55" fill="#5A8AC6"/>
<text transform="translate(114.00,345.00) rotate(0.05) scale(1.015,1)" font-size="10.3" text-anchor="end" fill="#111" stroke="#111" stroke-width="0.18">PD-L1 IHC</text>
<rect x="116.05" y="346.62" width="7.13" height="11.55" fill="#F8696B"/>
<rect x="124.08" y="346.62" width="7.13" height="11.55" fill="#2E75B6"/>
<rect x="132.11" y="346.62" width="7.13" height="11.55" fill="#F8696B"/>
<rect x="140.14" y="346.62" width="7.13" height="11.55" fill="#F8696B"/>
<rect x="148.17" y="346.62" width="7.13" height="11.55" fill="#2E75B6"/>
<rect x="156.20" y="346.62" width="7.13" height="11.55" fill="#F8696B"/>
<rect x="164.23" y="346.62" width="7.13" height="11.55" fill="#F8696B"/>
<rect x="172.26" y="346.62" width="7.13" height="11.55" fill="#F8696B"/>
<rect x="180.29" y="346.62" width="7.13" height="11.55" fill="#2E75B6"/>
<rect x="188.32" y="346.62" width="7.13" height="11.55" fill="#F8696B"/>
<rect x="196.35" y="346.62" width="7.13" height="11.55" fill="#2E75B6"/>
<rect x="204.38" y="346.62" width="7.13" height="11.55" fill="#2E75B6"/>
<rect x="212.41" y="346.62" width="7.13" height="11.55" fill="#F8696B"/>
<rect x="220.44" y="346.62" width="7.13" height="11.55" fill="#2E75B6"/>
<rect x="228.47" y="346.62" width="7.13" height="11.55" fill="#F8696B"/>
<rect x="236.50" y="346.62" width="7.13" height="11.55" fill="#2E75B6"/>
<rect x="244.53" y="346.62" width="7.13" height="11.55" fill="#2E75B6"/>
<rect x="252.56" y="346.62" width="7.13" height="11.55" fill="#2E75B6"/>
<rect x="260.59" y="346.62" width="7.13" height="11.55" fill="#2E75B6"/>
<rect x="268.62" y="346.62" width="7.13" height="11.55" fill="#F8696B"/>
<rect x="276.65" y="346.62" width="7.13" height="11.55" fill="#2E75B6"/>
<rect x="284.68" y="346.62" width="7.13" height="11.55" fill="#2E75B6"/>
<rect x="292.71" y="346.62" width="7.13" height="11.55" fill="#F8696B"/>
<rect x="300.74" y="346.62" width="7.13" height="11.55" fill="#F8696B"/>
<rect x="308.77" y="346.62" width="7.13" height="11.55" fill="#2E75B6"/>
<rect x="316.80" y="346.62" width="7.13" height="11.55" fill="#F8696B"/>
<rect x="324.83" y="346.62" width="7.13" height="11.55" fill="#2E75B6"/>
<rect x="340.95" y="346.62" width="7.13" height="11.55" fill="#2E75B6"/>
<rect x="348.98" y="346.62" width="7.13" height="11.55" fill="#2E75B6"/>
<rect x="357.01" y="346.62" width="7.13" height="11.55" fill="#2E75B6"/>
<rect x="365.04" y="346.62" width="7.13" height="11.55" fill="#F8696B"/>
<rect x="373.07" y="346.62" width="7.13" height="11.55" fill="#2E75B6"/>
<rect x="381.10" y="346.62" width="7.13" height="11.55" fill="#2E75B6"/>
<rect x="389.13" y="346.62" width="7.13" height="11.55" fill="#2E75B6"/>
<rect x="397.16" y="346.62" width="7.13" height="11.55" fill="#2E75B6"/>
<rect x="405.19" y="346.62" width="7.13" height="11.55" fill="#2E75B6"/>
<rect x="413.22" y="346.62" width="7.13" height="11.55" fill="#2E75B6"/>
<rect x="421.25" y="346.62" width="7.13" height="11.55" fill="#2E75B6"/>
<rect x="429.28" y="346.62" width="7.13" height="11.55" fill="#2E75B6"/>
<rect x="437.31" y="346.62" width="7.13" height="11.55" fill="#2E75B6"/>
<rect x="445.34" y="346.62" width="7.13" height="11.55" fill="#F8696B"/>
<rect x="453.37" y="346.62" width="7.13" height="11.55" fill="#2E75B6"/>
<rect x="461.40" y="346.62" width="7.13" height="11.55" fill="#2E75B6"/>
<rect x="469.43" y="346.62" width="7.13" height="11.55" fill="#2E75B6"/>
<rect x="477.46" y="346.62" width="7.13" height="11.55" fill="#2E75B6"/>
<rect x="485.49" y="346.62" width="7.13" height="11.55" fill="#2E75B6"/>
<rect x="493.52" y="346.62" width="7.13" height="11.55" fill="#F8696B"/>
<rect x="501.55" y="346.62" width="7.13" height="11.55" fill="#2E75B6"/>
<rect x="509.58" y="346.62" width="7.13" height="11.55" fill="#2E75B6"/>
<rect x="517.61" y="346.62" width="7.13" height="11.55" fill="#2E75B6"/>
<rect x="533.95" y="346.62" width="7.13" height="11.55" fill="#2E75B6"/>
<rect x="541.98" y="346.62" width="7.13" height="11.55" fill="#F8696B"/>
<rect x="550.01" y="346.62" width="7.13" height="11.55" fill="#2E75B6"/>
<rect x="558.04" y="346.62" width="7.13" height="11.55" fill="#F8696B"/>
<rect x="566.07" y="346.62" width="7.13" height="11.55" fill="#F8696B"/>
<rect x="574.10" y="346.62" width="7.13" height="11.55" fill="#F8696B"/>
<text transform="translate(114.00,357.00) rotate(0.05) scale(1.015,1)" font-size="10.3" text-anchor="end" fill="#111" stroke="#111" stroke-width="0.18">Cancer stemness score</text>
<rect x="116.05" y="358.62" width="7.13" height="11.55" fill="#5A8AC6"/>
<rect x="124.08" y="358.62" width="7.13" height="11.55" fill="#F8696B"/>
<rect x="132.11" y="358.62" width="7.13" height="11.55" fill="#F8696B"/>
<rect x="140.14" y="358.62" width="7.13" height="11.55" fill="#F8696B"/>
<rect x="148.17" y="358.62" width="7.13" height="11.55" fill="#F8696B"/>
<rect x="156.20" y="358.62" width="7.13" height="11.55" fill="#F8696B"/>
<rect x="164.23" y="358.62" width="7.13" height="11.55" fill="#F8696B"/>
<rect x="172.26" y="358.62" width="7.13" height="11.55" fill="#F8696B"/>
<rect x="180.29" y="358.62" width="7.13" height="11.55" fill="#F8696B"/>
<rect x="188.32" y="358.62" width="7.13" height="11.55" fill="#F8696B"/>
<rect x="196.35" y="358.62" width="7.13" height="11.55" fill="#F8696B"/>
<rect x="204.38" y="358.62" width="7.13" height="11.55" fill="#5A8AC6"/>
<rect x="212.41" y="358.62" width="7.13" height="11.55" fill="#F8696B"/>
<rect x="220.44" y="358.62" width="7.13" height="11.55" fill="#5A8AC6"/>
<rect x="228.47" y="358.62" width="7.13" height="11.55" fill="#5A8AC6"/>
<rect x="236.50" y="358.62" width="7.13" height="11.55" fill="#5A8AC6"/>
<rect x="244.53" y="358.62" width="7.13" height="11.55" fill="#F8696B"/>
<rect x="252.56" y="358.62" width="7.13" height="11.55" fill="#5A8AC6"/>
<rect x="260.59" y="358.62" width="7.13" height="11.55" fill="#5A8AC6"/>
<rect x="268.62" y="358.62" width="7.13" height="11.55" fill="#F8696B"/>
<rect x="276.65" y="358.62" width="7.13" height="11.55" fill="#F8696B"/>
<rect x="284.68" y="358.62" width="7.13" height="11.55" fill="#F8696B"/>
<rect x="292.71" y="358.62" width="7.13" height="11.55" fill="#5A8AC6"/>
<rect x="300.74" y="358.62" width="7.13" height="11.55" fill="#F8696B"/>
<rect x="308.77" y="358.62" width="7.13" height="11.55" fill="#F8696B"/>
<rect x="316.80" y="358.62" width="7.13" height="11.55" fill="#F8696B"/>
<rect x="324.83" y="358.62" width="7.13" height="11.55" fill="#F8696B"/>
<rect x="340.95" y="358.62" width="7.13" height="11.55" fill="#F8696B"/>
<rect x="348.98" y="358.62" width="7.13" height="11.55" fill="#5A8AC6"/>
<rect x="357.01" y="358.62" width="7.13" height="11.55" fill="#5A8AC6"/>
<rect x="365.04" y="358.62" width="7.13" height="11.55" fill="#5A8AC6"/>
<rect x="373.07" y="358.62" width="7.13" height="11.55" fill="#5A8AC6"/>
<rect x="381.10" y="358.62" width="7.13" height="11.55" fill="#5A8AC6"/>
<rect x="389.13" y="358.62" width="7.13" height="11.55" fill="#5A8AC6"/>
<rect x="397.16" y="358.62" width="7.13" height="11.55" fill="#5A8AC6"/>
<rect x="405.19" y="358.62" width="7.13" height="11.55" fill="#5A8AC6"/>
<rect x="413.22" y="358.62" width="7.13" height="11.55" fill="#5A8AC6"/>
<rect x="421.25" y="358.62" width="7.13" height="11.55" fill="#F8696B"/>
<rect x="429.28" y="358.62" width="7.13" height="11.55" fill="#5A8AC6"/>
<rect x="437.31" y="358.62" width="7.13" height="11.55" fill="#F8696B"/>
<rect x="445.34" y="358.62" width="7.13" height="11.55" fill="#5A8AC6"/>
<rect x="453.37" y="358.62" width="7.13" height="11.55" fill="#F8696B"/>
<rect x="461.40" y="358.62" width="7.13" height="11.55" fill="#F8696B"/>
<rect x="469.43" y="358.62" width="7.13" height="11.55" fill="#5A8AC6"/>
<rect x="477.46" y="358.62" width="7.13" height="11.55" fill="#F8696B"/>
<rect x="485.49" y="358.62" width="7.13" height="11.55" fill="#F8696B"/>
<rect x="493.52" y="358.62" width="7.13" height="11.55" fill="#F8696B"/>
<rect x="501.55" y="358.62" width="7.13" height="11.55" fill="#5A8AC6"/>
<rect x="509.58" y="358.62" width="7.13" height="11.55" fill="#5A8AC6"/>
<rect x="517.61" y="358.62" width="7.13" height="11.55" fill="#F8696B"/>
<rect x="533.95" y="358.62" width="7.13" height="11.55" fill="#F8696B"/>
<rect x="541.98" y="358.62" width="7.13" height="11.55" fill="#F8696B"/>
<rect x="550.01" y="358.62" width="7.13" height="11.55" fill="#F8696B"/>
<rect x="558.04" y="358.62" width="7.13" height="11.55" fill="#F8696B"/>
<rect x="566.07" y="358.62" width="7.13" height="11.55" fill="#F8696B"/>
<rect x="574.10" y="358.62" width="7.13" height="11.55" fill="#F8696B"/>
<text transform="translate(114.00,369.00) rotate(0.05) scale(1.015,1)" font-size="10.3" text-anchor="end" fill="#111" stroke="#111" stroke-width="0.18">CCP score</text>
<rect x="116.05" y="370.62" width="7.13" height="11.55" fill="#E3EAF7"/>
<rect x="124.08" y="370.62" width="7.13" height="11.55" fill="#FDE6E9"/>
<rect x="132.11" y="370.62" width="7.13" height="11.55" fill="#FA9FA3"/>
<rect x="140.14" y="370.62" width="7.13" height="11.55" fill="#FAA5A8"/>
<rect x="148.17" y="370.62" width="7.13" height="11.55" fill="#FBBCBF"/>
<rect x="156.20" y="370.62" width="7.13" height="11.55" fill="#FEFCFE"/>
<rect x="164.23" y="370.62" width="7.13" height="11.55" fill="#DBE5F4"/>
<rect x="172.26" y="370.62" width="7.13" height="11.55" fill="#FEFCFE"/>
<rect x="180.29" y="370.62" width="7.13" height="11.55" fill="#FDE6E9"/>
<rect x="188.32" y="370.62" width="7.13" height="11.55" fill="#EAF0F9"/>
<rect x="196.35" y="370.62" width="7.13" height="11.55" fill="#FDE0E2"/>
<rect x="204.38" y="370.62" width="7.13" height="11.55" fill="#E3EAF7"/>
<rect x="212.41" y="370.62" width="7.13" height="11.55" fill="#FCC7CA"/>
<rect x="220.44" y="370.62" width="7.13" height="11.55" fill="#EEF2FA"/>
<rect x="228.47" y="370.62" width="7.13" height="11.55" fill="#FCDADC"/>
<rect x="236.50" y="370.62" width="7.13" height="11.55" fill="#FBC1C4"/>
<rect x="244.53" y="370.62" width="7.13" height="11.55" fill="#E3EAF7"/>
<rect x="252.56" y="370.62" width="7.13" height="11.55" fill="#FEF4F6"/>
<rect x="260.59" y="370.62" width="7.13" height="11.55" fill="#F2F5FC"/>
<rect x="268.62" y="370.62" width="7.13" height="11.55" fill="#EEF2FA"/>
<rect x="276.65" y="370.62" width="7.13" height="11.55" fill="#EEF2FA"/>
<rect x="284.68" y="370.62" width="7.13" height="11.55" fill="#E3EAF7"/>
<rect x="292.71" y="370.62" width="7.13" height="11.55" fill="#DFE8F5"/>
<rect x="300.74" y="370.62" width="7.13" height="11.55" fill="#FCD3D6"/>
<rect x="308.77" y="370.62" width="7.13" height="11.55" fill="#F7696D"/>
<rect x="316.80" y="370.62" width="7.13" height="11.55" fill="#FEFCFE"/>
<rect x="324.83" y="370.62" width="7.13" height="11.55" fill="#FEFCFE"/>
<rect x="340.95" y="370.62" width="7.13" height="11.55" fill="#FEFCFE"/>
<rect x="348.98" y="370.62" width="7.13" height="11.55" fill="#FDF0F2"/>
<rect x="357.01" y="370.62" width="7.13" height="11.55" fill="#CDDBEF"/>
<rect x="365.04" y="370.62" width="7.13" height="11.55" fill="#E3EAF7"/>
<rect x="373.07" y="370.62" width="7.13" height="11.55" fill="#EAF0F9"/>
<rect x="381.10" y="370.62" width="7.13" height="11.55" fill="#FDE0E2"/>
<rect x="389.13" y="370.62" width="7.13" height="11.55" fill="#DBE5F4"/>
<rect x="397.16" y="370.62" width="7.13" height="11.55" fill="#FCDADC"/>
<rect x="405.19" y="370.62" width="7.13" height="11.55" fill="#FEF8FA"/>
<rect x="413.22" y="370.62" width="7.13" height="11.55" fill="#CDDBEF"/>
<rect x="421.25" y="370.62" width="7.13" height="11.55" fill="#DBE5F4"/>
<rect x="429.28" y="370.62" width="7.13" height="11.55" fill="#E3EAF7"/>
<rect x="437.31" y="370.62" width="7.13" height="11.55" fill="#CDDBEF"/>
<rect x="445.34" y="370.62" width="7.13" height="11.55" fill="#DBE5F4"/>
<rect x="453.37" y="370.62" width="7.13" height="11.55" fill="#D4E0F2"/>
<rect x="461.40" y="370.62" width="7.13" height="11.55" fill="#CDDBEF"/>
<rect x="469.43" y="370.62" width="7.13" height="11.55" fill="#DBE5F4"/>
<rect x="477.46" y="370.62" width="7.13" height="11.55" fill="#DBE5F4"/>
<rect x="485.49" y="370.62" width="7.13" height="11.55" fill="#D4E0F2"/>
<rect x="493.52" y="370.62" width="7.13" height="11.55" fill="#EAF0F9"/>
<rect x="501.55" y="370.62" width="7.13" height="11.55" fill="#E3EAF7"/>
<rect x="509.58" y="370.62" width="7.13" height="11.55" fill="#E3EAF7"/>
<rect x="517.61" y="370.62" width="7.13" height="11.55" fill="#DBE5F4"/>
<rect x="533.95" y="370.62" width="7.13" height="11.55" fill="#F6F8FD"/>
<rect x="541.98" y="370.62" width="7.13" height="11.55" fill="#CDDBEF"/>
<rect x="550.01" y="370.62" width="7.13" height="11.55" fill="#E3EAF7"/>
<rect x="558.04" y="370.62" width="7.13" height="11.55" fill="#D4E0F2"/>
<rect x="566.07" y="370.62" width="7.13" height="11.55" fill="#DBE5F4"/>
<rect x="574.10" y="370.62" width="7.13" height="11.55" fill="#DBE5F4"/>
<text transform="translate(114.00,381.00) rotate(0.05) scale(1.015,1)" font-size="10.3" text-anchor="end" fill="#111" stroke="#111" stroke-width="0.18">T cell-inflamed</text>
<rect x="116.05" y="382.62" width="7.13" height="11.55" fill="#FDE0E2"/>
<rect x="124.08" y="382.62" width="7.13" height="11.55" fill="#FEF4F6"/>
<rect x="132.11" y="382.62" width="7.13" height="11.55" fill="#FDE0E2"/>
<rect x="140.14" y="382.62" width="7.13" height="11.55" fill="#FEFCFE"/>
<rect x="148.17" y="382.62" width="7.13" height="11.55" fill="#D4E0F2"/>
<rect x="156.20" y="382.62" width="7.13" height="11.55" fill="#FEFCFE"/>
<rect x="164.23" y="382.62" width="7.13" height="11.55" fill="#FEFCFE"/>
<rect x="172.26" y="382.62" width="7.13" height="11.55" fill="#FEFCFE"/>
<rect x="180.29" y="382.62" width="7.13" height="11.55" fill="#FEF4F6"/>
<rect x="188.32" y="382.62" width="7.13" height="11.55" fill="#FDE6E9"/>
<rect x="196.35" y="382.62" width="7.13" height="11.55" fill="#FEF4F6"/>
<rect x="204.38" y="382.62" width="7.13" height="11.55" fill="#FCDADC"/>
<rect x="212.41" y="382.62" width="7.13" height="11.55" fill="#FEF4F6"/>
<rect x="220.44" y="382.62" width="7.13" height="11.55" fill="#FDE6E9"/>
<rect x="228.47" y="382.62" width="7.13" height="11.55" fill="#FDE0E2"/>
<rect x="236.50" y="382.62" width="7.13" height="11.55" fill="#FCD3D6"/>
<rect x="244.53" y="382.62" width="7.13" height="11.55" fill="#FDE6E9"/>
<rect x="252.56" y="382.62" width="7.13" height="11.55" fill="#FDE3E5"/>
<rect x="260.59" y="382.62" width="7.13" height="11.55" fill="#FCC7CA"/>
<rect x="268.62" y="382.62" width="7.13" height="11.55" fill="#FBBCBF"/>
<rect x="276.65" y="382.62" width="7.13" height="11.55" fill="#FDE6E9"/>
<rect x="284.68" y="382.62" width="7.13" height="11.55" fill="#FCCDD0"/>
<rect x="292.71" y="382.62" width="7.13" height="11.55" fill="#EEF2FA"/>
<rect x="300.74" y="382.62" width="7.13" height="11.55" fill="#FEF8FA"/>
<rect x="308.77" y="382.62" width="7.13" height="11.55" fill="#FEF8FA"/>
<rect x="316.80" y="382.62" width="7.13" height="11.55" fill="#FBC1C4"/>
<rect x="324.83" y="382.62" width="7.13" height="11.55" fill="#FDE0E2"/>
<rect x="340.95" y="382.62" width="7.13" height="11.55" fill="#FDE6E9"/>
<rect x="348.98" y="382.62" width="7.13" height="11.55" fill="#FCDADC"/>
<rect x="357.01" y="382.62" width="7.13" height="11.55" fill="#EEF2FA"/>
<rect x="365.04" y="382.62" width="7.13" height="11.55" fill="#DBE5F4"/>
<rect x="373.07" y="382.62" width="7.13" height="11.55" fill="#A6BEE2"/>
<rect x="381.10" y="382.62" width="7.13" height="11.55" fill="#FCDADC"/>
<rect x="389.13" y="382.62" width="7.13" height="11.55" fill="#E3EAF7"/>
<rect x="397.16" y="382.62" width="7.13" height="11.55" fill="#FEF8FA"/>
<rect x="405.19" y="382.62" width="7.13" height="11.55" fill="#EAF0F9"/>
<rect x="413.22" y="382.62" width="7.13" height="11.55" fill="#D4E0F2"/>
<rect x="421.25" y="382.62" width="7.13" height="11.55" fill="#F2F5FC"/>
<rect x="429.28" y="382.62" width="7.13" height="11.55" fill="#EEF2FA"/>
<rect x="437.31" y="382.62" width="7.13" height="11.55" fill="#9FBADF"/>
<rect x="445.34" y="382.62" width="7.13" height="11.55" fill="#CDDBEF"/>
<rect x="453.37" y="382.62" width="7.13" height="11.55" fill="#749AD0"/>
<rect x="461.40" y="382.62" width="7.13" height="11.55" fill="#6891CC"/>
<rect x="469.43" y="382.62" width="7.13" height="11.55" fill="#FEF4F6"/>
<rect x="477.46" y="382.62" width="7.13" height="11.55" fill="#F2F5FC"/>
<rect x="485.49" y="382.62" width="7.13" height="11.55" fill="#EAF0F9"/>
<rect x="493.52" y="382.62" width="7.13" height="11.55" fill="#C0D1EB"/>
<rect x="501.55" y="382.62" width="7.13" height="11.55" fill="#B3C8E6"/>
<rect x="509.58" y="382.62" width="7.13" height="11.55" fill="#FDF0F2"/>
<rect x="517.61" y="382.62" width="7.13" height="11.55" fill="#99B5DD"/>
<rect x="533.95" y="382.62" width="7.13" height="11.55" fill="#FDE6E9"/>
<rect x="541.98" y="382.62" width="7.13" height="11.55" fill="#DBE5F4"/>
<rect x="550.01" y="382.62" width="7.13" height="11.55" fill="#FDEDEF"/>
<rect x="558.04" y="382.62" width="7.13" height="11.55" fill="#E3EAF7"/>
<rect x="566.07" y="382.62" width="7.13" height="11.55" fill="#E3EAF7"/>
<rect x="574.10" y="382.62" width="7.13" height="11.55" fill="#DBE5F4"/>
<text transform="translate(114.00,393.00) rotate(0.05) scale(1.015,1)" font-size="10.3" text-anchor="end" fill="#111" stroke="#111" stroke-width="0.18">Angiogenesis</text>
<rect x="116.05" y="394.62" width="7.13" height="11.55" fill="#FEF8FA"/>
<rect x="124.08" y="394.62" width="7.13" height="11.55" fill="#FEF4F6"/>
<rect x="132.11" y="394.62" width="7.13" height="11.55" fill="#FCCDD0"/>
<rect x="140.14" y="394.62" width="7.13" height="11.55" fill="#FEF4F6"/>
<rect x="148.17" y="394.62" width="7.13" height="11.55" fill="#FEF4F6"/>
<rect x="156.20" y="394.62" width="7.13" height="11.55" fill="#D4E0F2"/>
<rect x="164.23" y="394.62" width="7.13" height="11.55" fill="#80A3D5"/>
<rect x="172.26" y="394.62" width="7.13" height="11.55" fill="#FDEDEF"/>
<rect x="180.29" y="394.62" width="7.13" height="11.55" fill="#FCDADC"/>
<rect x="188.32" y="394.62" width="7.13" height="11.55" fill="#EAF0F9"/>
<rect x="196.35" y="394.62" width="7.13" height="11.55" fill="#FEFCFE"/>
<rect x="204.38" y="394.62" width="7.13" height="11.55" fill="#FDEDEF"/>
<rect x="212.41" y="394.62" width="7.13" height="11.55" fill="#FCDADC"/>
<rect x="220.44" y="394.62" width="7.13" height="11.55" fill="#FEF4F6"/>
<rect x="228.47" y="394.62" width="7.13" height="11.55" fill="#FAABAE"/>
<rect x="236.50" y="394.62" width="7.13" height="11.55" fill="#FCD3D6"/>
<rect x="244.53" y="394.62" width="7.13" height="11.55" fill="#B9CCE8"/>
<rect x="252.56" y="394.62" width="7.13" height="11.55" fill="#FBC1C4"/>
<rect x="260.59" y="394.62" width="7.13" height="11.55" fill="#FBBCBF"/>
<rect x="268.62" y="394.62" width="7.13" height="11.55" fill="#FCC7CA"/>
<rect x="276.65" y="394.62" width="7.13" height="11.55" fill="#DBE5F4"/>
<rect x="284.68" y="394.62" width="7.13" height="11.55" fill="#FBBCBF"/>
<rect x="292.71" y="394.62" width="7.13" height="11.55" fill="#9FBADF"/>
<rect x="300.74" y="394.62" width="7.13" height="11.55" fill="#FEFCFE"/>
<rect x="308.77" y="394.62" width="7.13" height="11.55" fill="#FDE6E9"/>
<rect x="316.80" y="394.62" width="7.13" height="11.55" fill="#FDEDEF"/>
<rect x="324.83" y="394.62" width="7.13" height="11.55" fill="#F2F5FC"/>
<rect x="340.95" y="394.62" width="7.13" height="11.55" fill="#FEF8FA"/>
<rect x="348.98" y="394.62" width="7.13" height="11.55" fill="#FDE0E2"/>
<rect x="357.01" y="394.62" width="7.13" height="11.55" fill="#B9CCE8"/>
<rect x="365.04" y="394.62" width="7.13" height="11.55" fill="#C7D6ED"/>
<rect x="373.07" y="394.62" width="7.13" height="11.55" fill="#9FBADF"/>
<rect x="381.10" y="394.62" width="7.13" height="11.55" fill="#FDE6E9"/>
<rect x="389.13" y="394.62" width="7.13" height="11.55" fill="#B3C8E6"/>
<rect x="397.16" y="394.62" width="7.13" height="11.55" fill="#FEF4F6"/>
<rect x="405.19" y="394.62" width="7.13" height="11.55" fill="#FEF8FA"/>
<rect x="413.22" y="394.62" width="7.13" height="11.55" fill="#ACC3E4"/>
<rect x="421.25" y="394.62" width="7.13" height="11.55" fill="#FDE6E9"/>
<rect x="429.28" y="394.62" width="7.13" height="11.55" fill="#B9CCE8"/>
<rect x="437.31" y="394.62" width="7.13" height="11.55" fill="#749AD0"/>
<rect x="445.34" y="394.62" width="7.13" height="11.55" fill="#A6BEE2"/>
<rect x="453.37" y="394.62" width="7.13" height="11.55" fill="#749AD0"/>
<rect x="461.40" y="394.62" width="7.13" height="11.55" fill="#6E96CE"/>
<rect x="469.43" y="394.62" width="7.13" height="11.55" fill="#9FBADF"/>
<rect x="477.46" y="394.62" width="7.13" height="11.55" fill="#ACC3E4"/>
<rect x="485.49" y="394.62" width="7.13" height="11.55" fill="#9FBADF"/>
<rect x="493.52" y="394.62" width="7.13" height="11.55" fill="#9FBADF"/>
<rect x="501.55" y="394.62" width="7.13" height="11.55" fill="#99B5DD"/>
<rect x="509.58" y="394.62" width="7.13" height="11.55" fill="#E3EAF7"/>
<rect x="517.61" y="394.62" width="7.13" height="11.55" fill="#628DCA"/>
<rect x="533.95" y="394.62" width="7.13" height="11.55" fill="#E3EAF7"/>
<rect x="541.98" y="394.62" width="7.13" height="11.55" fill="#ACC3E4"/>
<rect x="550.01" y="394.62" width="7.13" height="11.55" fill="#FEF4F6"/>
<rect x="558.04" y="394.62" width="7.13" height="11.55" fill="#7A9ED3"/>
<rect x="566.07" y="394.62" width="7.13" height="11.55" fill="#E3EAF7"/>
<rect x="574.10" y="394.62" width="7.13" height="11.55" fill="#C0D1EB"/>
<text transform="translate(114.00,405.00) rotate(0.05) scale(1.015,1)" font-size="10.3" text-anchor="end" fill="#111" stroke="#111" stroke-width="0.18">Stroma</text>
<rect x="116.05" y="406.62" width="7.13" height="11.55" fill="#EAF0F9"/>
<rect x="124.08" y="406.62" width="7.13" height="11.55" fill="#FEF4F6"/>
<rect x="132.11" y="406.62" width="7.13" height="11.55" fill="#FDEDEF"/>
<rect x="140.14" y="406.62" width="7.13" height="11.55" fill="#FDE6E9"/>
<rect x="148.17" y="406.62" width="7.13" height="11.55" fill="#FCCDD0"/>
<rect x="156.20" y="406.62" width="7.13" height="11.55" fill="#B9CCE8"/>
<rect x="164.23" y="406.62" width="7.13" height="11.55" fill="#99B5DD"/>
<rect x="172.26" y="406.62" width="7.13" height="11.55" fill="#DBE5F4"/>
<rect x="180.29" y="406.62" width="7.13" height="11.55" fill="#FEF4F6"/>
<rect x="188.32" y="406.62" width="7.13" height="11.55" fill="#CDDBEF"/>
<rect x="196.35" y="406.62" width="7.13" height="11.55" fill="#FEFCFE"/>
<rect x="204.38" y="406.62" width="7.13" height="11.55" fill="#FEFCFE"/>
<rect x="212.41" y="406.62" width="7.13" height="11.55" fill="#D4E0F2"/>
<rect x="220.44" y="406.62" width="7.13" height="11.55" fill="#FDEDEF"/>
<rect x="228.47" y="406.62" width="7.13" height="11.55" fill="#FEF8FA"/>
<rect x="236.50" y="406.62" width="7.13" height="11.55" fill="#FEF8FA"/>
<rect x="244.53" y="406.62" width="7.13" height="11.55" fill="#FEF8FA"/>
<rect x="252.56" y="406.62" width="7.13" height="11.55" fill="#E3EAF7"/>
<rect x="260.59" y="406.62" width="7.13" height="11.55" fill="#99B5DD"/>
<rect x="268.62" y="406.62" width="7.13" height="11.55" fill="#ACC3E4"/>
<rect x="276.65" y="406.62" width="7.13" height="11.55" fill="#A6BEE2"/>
<rect x="284.68" y="406.62" width="7.13" height="11.55" fill="#A6BEE2"/>
<rect x="292.71" y="406.62" width="7.13" height="11.55" fill="#749AD0"/>
<rect x="300.74" y="406.62" width="7.13" height="11.55" fill="#ACC3E4"/>
<rect x="308.77" y="406.62" width="7.13" height="11.55" fill="#A6BEE2"/>
<rect x="316.80" y="406.62" width="7.13" height="11.55" fill="#ACC3E4"/>
<rect x="324.83" y="406.62" width="7.13" height="11.55" fill="#86A7D7"/>
<rect x="340.95" y="406.62" width="7.13" height="11.55" fill="#D4E0F2"/>
<rect x="348.98" y="406.62" width="7.13" height="11.55" fill="#FDEDEF"/>
<rect x="357.01" y="406.62" width="7.13" height="11.55" fill="#D4E0F2"/>
<rect x="365.04" y="406.62" width="7.13" height="11.55" fill="#FDF0F2"/>
<rect x="373.07" y="406.62" width="7.13" height="11.55" fill="#F99A9D"/>
<rect x="381.10" y="406.62" width="7.13" height="11.55" fill="#FEFCFE"/>
<rect x="389.13" y="406.62" width="7.13" height="11.55" fill="#FCCDD0"/>
<rect x="397.16" y="406.62" width="7.13" height="11.55" fill="#FCC7CA"/>
<rect x="405.19" y="406.62" width="7.13" height="11.55" fill="#FBC1C4"/>
<rect x="413.22" y="406.62" width="7.13" height="11.55" fill="#FCCDD0"/>
<rect x="421.25" y="406.62" width="7.13" height="11.55" fill="#FEFCFE"/>
<rect x="429.28" y="406.62" width="7.13" height="11.55" fill="#FCDADC"/>
<rect x="437.31" y="406.62" width="7.13" height="11.55" fill="#FCDADC"/>
<rect x="445.34" y="406.62" width="7.13" height="11.55" fill="#FBB0B3"/>
<rect x="453.37" y="406.62" width="7.13" height="11.55" fill="#B3C8E6"/>
<rect x="461.40" y="406.62" width="7.13" height="11.55" fill="#749AD0"/>
<rect x="469.43" y="406.62" width="7.13" height="11.55" fill="#FEFCFE"/>
<rect x="477.46" y="406.62" width="7.13" height="11.55" fill="#FEF4F6"/>
<rect x="485.49" y="406.62" width="7.13" height="11.55" fill="#FEFCFE"/>
<rect x="493.52" y="406.62" width="7.13" height="11.55" fill="#FBBCBF"/>
<rect x="501.55" y="406.62" width="7.13" height="11.55" fill="#F76F72"/>
<rect x="509.58" y="406.62" width="7.13" height="11.55" fill="#6891CC"/>
<rect x="517.61" y="406.62" width="7.13" height="11.55" fill="#D4E0F2"/>
<rect x="533.95" y="406.62" width="7.13" height="11.55" fill="#CDDBEF"/>
<rect x="541.98" y="406.62" width="7.13" height="11.55" fill="#C0D1EB"/>
<rect x="550.01" y="406.62" width="7.13" height="11.55" fill="#EAF0F9"/>
<rect x="558.04" y="406.62" width="7.13" height="11.55" fill="#DBE5F4"/>
<rect x="566.07" y="406.62" width="7.13" height="11.55" fill="#EAF0F9"/>
<rect x="574.10" y="406.62" width="7.13" height="11.55" fill="#DBE5F4"/>
<text transform="translate(114.00,417.00) rotate(0.05) scale(1.015,1)" font-size="10.3" text-anchor="end" fill="#111" stroke="#111" stroke-width="0.18">MAPK/ERK</text>
<rect x="116.05" y="418.62" width="7.13" height="11.55" fill="#C0D1EB"/>
<rect x="124.08" y="418.62" width="7.13" height="11.55" fill="#FEF8FA"/>
<rect x="132.11" y="418.62" width="7.13" height="11.55" fill="#FDE6E9"/>
<rect x="140.14" y="418.62" width="7.13" height="11.55" fill="#FDEDEF"/>
<rect x="148.17" y="418.62" width="7.13" height="11.55" fill="#FDE6E9"/>
<rect x="156.20" y="418.62" width="7.13" height="11.55" fill="#9FBADF"/>
<rect x="164.23" y="418.62" width="7.13" height="11.55" fill="#ACC3E4"/>
<rect x="172.26" y="418.62" width="7.13" height="11.55" fill="#FEFCFE"/>
<rect x="180.29" y="418.62" width="7.13" height="11.55" fill="#FDEDEF"/>
<rect x="188.32" y="418.62" width="7.13" height="11.55" fill="#EAF0F9"/>
<rect x="196.35" y="418.62" width="7.13" height="11.55" fill="#F2F5FC"/>
<rect x="204.38" y="418.62" width="7.13" height="11.55" fill="#FDEDEF"/>
<rect x="212.41" y="418.62" width="7.13" height="11.55" fill="#C7D6ED"/>
<rect x="220.44" y="418.62" width="7.13" height="11.55" fill="#FDE6E9"/>
<rect x="228.47" y="418.62" width="7.13" height="11.55" fill="#FEF8FA"/>
<rect x="236.50" y="418.62" width="7.13" height="11.55" fill="#FDE6E9"/>
<rect x="244.53" y="418.62" width="7.13" height="11.55" fill="#E3EAF7"/>
<rect x="252.56" y="418.62" width="7.13" height="11.55" fill="#FEFCFE"/>
<rect x="260.59" y="418.62" width="7.13" height="11.55" fill="#EAF0F9"/>
<rect x="268.62" y="418.62" width="7.13" height="11.55" fill="#9FBADF"/>
<rect x="276.65" y="418.62" width="7.13" height="11.55" fill="#9FBADF"/>
<rect x="284.68" y="418.62" width="7.13" height="11.55" fill="#A6BEE2"/>
<rect x="292.71" y="418.62" width="7.13" height="11.55" fill="#8DACD9"/>
<rect x="300.74" y="418.62" width="7.13" height="11.55" fill="#C0D1EB"/>
<rect x="308.77" y="418.62" width="7.13" height="11.55" fill="#80A3D5"/>
<rect x="316.80" y="418.62" width="7.13" height="11.55" fill="#EAF0F9"/>
<rect x="324.83" y="418.62" width="7.13" height="11.55" fill="#9FBADF"/>
<rect x="340.95" y="418.62" width="7.13" height="11.55" fill="#CDDBEF"/>
<rect x="348.98" y="418.62" width="7.13" height="11.55" fill="#FDEDEF"/>
<rect x="357.01" y="418.62" width="7.13" height="11.55" fill="#CDDBEF"/>
<rect x="365.04" y="418.62" width="7.13" height="11.55" fill="#FEFCFE"/>
<rect x="373.07" y="418.62" width="7.13" height="11.55" fill="#FBB6B9"/>
<rect x="381.10" y="418.62" width="7.13" height="11.55" fill="#FEFCFE"/>
<rect x="389.13" y="418.62" width="7.13" height="11.55" fill="#FCD3D6"/>
<rect x="397.16" y="418.62" width="7.13" height="11.55" fill="#FBC1C4"/>
<rect x="405.19" y="418.62" width="7.13" height="11.55" fill="#FAA5A8"/>
<rect x="413.22" y="418.62" width="7.13" height="11.55" fill="#F87478"/>
<rect x="421.25" y="418.62" width="7.13" height="11.55" fill="#FDE6E9"/>
<rect x="429.28" y="418.62" width="7.13" height="11.55" fill="#FCD3D6"/>
<rect x="437.31" y="418.62" width="7.13" height="11.55" fill="#FDE0E2"/>
<rect x="445.34" y="418.62" width="7.13" height="11.55" fill="#FAABAE"/>
<rect x="453.37" y="418.62" width="7.13" height="11.55" fill="#93B0DB"/>
<rect x="461.40" y="418.62" width="7.13" height="11.55" fill="#6891CC"/>
<rect x="469.43" y="418.62" width="7.13" height="11.55" fill="#B3C8E6"/>
<rect x="477.46" y="418.62" width="7.13" height="11.55" fill="#FDEDEF"/>
<rect x="485.49" y="418.62" width="7.13" height="11.55" fill="#CDDBEF"/>
<rect x="493.52" y="418.62" width="7.13" height="11.55" fill="#FBBCBF"/>
<rect x="501.55" y="418.62" width="7.13" height="11.55" fill="#FBC1C4"/>
<rect x="509.58" y="418.62" width="7.13" height="11.55" fill="#A6BEE2"/>
<rect x="517.61" y="418.62" width="7.13" height="11.55" fill="#FBBCBF"/>
<rect x="533.95" y="418.62" width="7.13" height="11.55" fill="#D4E0F2"/>
<rect x="541.98" y="418.62" width="7.13" height="11.55" fill="#93B0DB"/>
<rect x="550.01" y="418.62" width="7.13" height="11.55" fill="#D4E0F2"/>
<rect x="558.04" y="418.62" width="7.13" height="11.55" fill="#B3C8E6"/>
<rect x="566.07" y="418.62" width="7.13" height="11.55" fill="#FDF0F2"/>
<rect x="574.10" y="418.62" width="7.13" height="11.55" fill="#C7D6ED"/>
<text transform="translate(114.00,429.00) rotate(0.05) scale(1.015,1)" font-size="10.3" text-anchor="end" fill="#111" stroke="#111" stroke-width="0.18">NOTCH</text>
<rect x="116.05" y="430.62" width="7.13" height="11.55" fill="#C0D1EB"/>
<rect x="124.08" y="430.62" width="7.13" height="11.55" fill="#FEF8FA"/>
<rect x="132.11" y="430.62" width="7.13" height="11.55" fill="#FEFCFE"/>
<rect x="140.14" y="430.62" width="7.13" height="11.55" fill="#D4E0F2"/>
<rect x="148.17" y="430.62" width="7.13" height="11.55" fill="#FDEDEF"/>
<rect x="156.20" y="430.62" width="7.13" height="11.55" fill="#D4E0F2"/>
<rect x="164.23" y="430.62" width="7.13" height="11.55" fill="#9FBADF"/>
<rect x="172.26" y="430.62" width="7.13" height="11.55" fill="#C0D1EB"/>
<rect x="180.29" y="430.62" width="7.13" height="11.55" fill="#FDEDEF"/>
<rect x="188.32" y="430.62" width="7.13" height="11.55" fill="#B9CCE8"/>
<rect x="196.35" y="430.62" width="7.13" height="11.55" fill="#F2F5FC"/>
<rect x="204.38" y="430.62" width="7.13" height="11.55" fill="#D4E0F2"/>
<rect x="212.41" y="430.62" width="7.13" height="11.55" fill="#FEFCFE"/>
<rect x="220.44" y="430.62" width="7.13" height="11.55" fill="#FDF0F2"/>
<rect x="228.47" y="430.62" width="7.13" height="11.55" fill="#FDE6E9"/>
<rect x="236.50" y="430.62" width="7.13" height="11.55" fill="#FDEDEF"/>
<rect x="244.53" y="430.62" width="7.13" height="11.55" fill="#EAF0F9"/>
<rect x="252.56" y="430.62" width="7.13" height="11.55" fill="#FEFCFE"/>
<rect x="260.59" y="430.62" width="7.13" height="11.55" fill="#D4E0F2"/>
<rect x="268.62" y="430.62" width="7.13" height="11.55" fill="#EAF0F9"/>
<rect x="276.65" y="430.62" width="7.13" height="11.55" fill="#EAF0F9"/>
<rect x="284.68" y="430.62" width="7.13" height="11.55" fill="#B9CCE8"/>
<rect x="292.71" y="430.62" width="7.13" height="11.55" fill="#C0D1EB"/>
<rect x="300.74" y="430.62" width="7.13" height="11.55" fill="#E3EAF7"/>
<rect x="308.77" y="430.62" width="7.13" height="11.55" fill="#FEFCFE"/>
<rect x="316.80" y="430.62" width="7.13" height="11.55" fill="#EAF0F9"/>
<rect x="324.83" y="430.62" width="7.13" height="11.55" fill="#C0D1EB"/>
<rect x="340.95" y="430.62" width="7.13" height="11.55" fill="#FEF4F6"/>
<rect x="348.98" y="430.62" width="7.13" height="11.55" fill="#FEF4F6"/>
<rect x="357.01" y="430.62" width="7.13" height="11.55" fill="#C0D1EB"/>
<rect x="365.04" y="430.62" width="7.13" height="11.55" fill="#FEFCFE"/>
<rect x="373.07" y="430.62" width="7.13" height="11.55" fill="#FBB6B9"/>
<rect x="381.10" y="430.62" width="7.13" height="11.55" fill="#FDEDEF"/>
<rect x="389.13" y="430.62" width="7.13" height="11.55" fill="#FDE6E9"/>
<rect x="397.16" y="430.62" width="7.13" height="11.55" fill="#FCCDD0"/>
<rect x="405.19" y="430.62" width="7.13" height="11.55" fill="#FBBCBF"/>
<rect x="413.22" y="430.62" width="7.13" height="11.55" fill="#FCD3D6"/>
<rect x="421.25" y="430.62" width="7.13" height="11.55" fill="#FEF8FA"/>
<rect x="429.28" y="430.62" width="7.13" height="11.55" fill="#FCD3D6"/>
<rect x="437.31" y="430.62" width="7.13" height="11.55" fill="#FDEDEF"/>
<rect x="445.34" y="430.62" width="7.13" height="11.55" fill="#FCCDD0"/>
<rect x="453.37" y="430.62" width="7.13" height="11.55" fill="#FEFCFE"/>
<rect x="461.40" y="430.62" width="7.13" height="11.55" fill="#E3EAF7"/>
<rect x="469.43" y="430.62" width="7.13" height="11.55" fill="#FDF0F2"/>
<rect x="477.46" y="430.62" width="7.13" height="11.55" fill="#FEFCFE"/>
<rect x="485.49" y="430.62" width="7.13" height="11.55" fill="#FEFCFE"/>
<rect x="493.52" y="430.62" width="7.13" height="11.55" fill="#FDEDEF"/>
<rect x="501.55" y="430.62" width="7.13" height="11.55" fill="#FBBCBF"/>
<rect x="509.58" y="430.62" width="7.13" height="11.55" fill="#D4E0F2"/>
<rect x="517.61" y="430.62" width="7.13" height="11.55" fill="#FEFCFE"/>
<rect x="533.95" y="430.62" width="7.13" height="11.55" fill="#EAF0F9"/>
<rect x="541.98" y="430.62" width="7.13" height="11.55" fill="#CDDBEF"/>
<rect x="550.01" y="430.62" width="7.13" height="11.55" fill="#FEFCFE"/>
<rect x="558.04" y="430.62" width="7.13" height="11.55" fill="#B9CCE8"/>
<rect x="566.07" y="430.62" width="7.13" height="11.55" fill="#FEFCFE"/>
<rect x="574.10" y="430.62" width="7.13" height="11.55" fill="#F2F5FC"/>
<text transform="translate(114.00,441.00) rotate(0.05) scale(1.015,1)" font-size="10.3" text-anchor="end" fill="#111" stroke="#111" stroke-width="0.18">Wnt/β-catenin</text>
<rect x="116.05" y="442.62" width="7.13" height="11.55" fill="#FEF8FA"/>
<rect x="124.08" y="442.62" width="7.13" height="11.55" fill="#EAF0F9"/>
<rect x="132.11" y="442.62" width="7.13" height="11.55" fill="#FDEDEF"/>
<rect x="140.14" y="442.62" width="7.13" height="11.55" fill="#FCDADC"/>
<rect x="148.17" y="442.62" width="7.13" height="11.55" fill="#FDE0E2"/>
<rect x="156.20" y="442.62" width="7.13" height="11.55" fill="#FCC7CA"/>
<rect x="164.23" y="442.62" width="7.13" height="11.55" fill="#FDEDEF"/>
<rect x="172.26" y="442.62" width="7.13" height="11.55" fill="#FDE6E9"/>
<rect x="180.29" y="442.62" width="7.13" height="11.55" fill="#FDE6E9"/>
<rect x="188.32" y="442.62" width="7.13" height="11.55" fill="#FEF4F6"/>
<rect x="196.35" y="442.62" width="7.13" height="11.55" fill="#FDEDEF"/>
<rect x="204.38" y="442.62" width="7.13" height="11.55" fill="#FEF8FA"/>
<rect x="212.41" y="442.62" width="7.13" height="11.55" fill="#FDE0E2"/>
<rect x="220.44" y="442.62" width="7.13" height="11.55" fill="#FEF8FA"/>
<rect x="228.47" y="442.62" width="7.13" height="11.55" fill="#FDEDEF"/>
<rect x="236.50" y="442.62" width="7.13" height="11.55" fill="#FDEDEF"/>
<rect x="244.53" y="442.62" width="7.13" height="11.55" fill="#FCCDD0"/>
<rect x="252.56" y="442.62" width="7.13" height="11.55" fill="#C7D6ED"/>
<rect x="260.59" y="442.62" width="7.13" height="11.55" fill="#B9CCE8"/>
<rect x="268.62" y="442.62" width="7.13" height="11.55" fill="#F2F5FC"/>
<rect x="276.65" y="442.62" width="7.13" height="11.55" fill="#FDE6E9"/>
<rect x="284.68" y="442.62" width="7.13" height="11.55" fill="#DBE5F4"/>
<rect x="292.71" y="442.62" width="7.13" height="11.55" fill="#CDDBEF"/>
<rect x="300.74" y="442.62" width="7.13" height="11.55" fill="#FCC7CA"/>
<rect x="308.77" y="442.62" width="7.13" height="11.55" fill="#FEF8FA"/>
<rect x="316.80" y="442.62" width="7.13" height="11.55" fill="#FEFCFE"/>
<rect x="324.83" y="442.62" width="7.13" height="11.55" fill="#FEF8FA"/>
<rect x="340.95" y="442.62" width="7.13" height="11.55" fill="#F6F8FD"/>
<rect x="348.98" y="442.62" width="7.13" height="11.55" fill="#B3C8E6"/>
<rect x="357.01" y="442.62" width="7.13" height="11.55" fill="#FEF4F6"/>
<rect x="365.04" y="442.62" width="7.13" height="11.55" fill="#FEF4F6"/>
<rect x="373.07" y="442.62" width="7.13" height="11.55" fill="#C0D1EB"/>
<rect x="381.10" y="442.62" width="7.13" height="11.55" fill="#B9CCE8"/>
<rect x="389.13" y="442.62" width="7.13" height="11.55" fill="#E3EAF7"/>
<rect x="397.16" y="442.62" width="7.13" height="11.55" fill="#FEFCFE"/>
<rect x="405.19" y="442.62" width="7.13" height="11.55" fill="#FEF8FA"/>
<rect x="413.22" y="442.62" width="7.13" height="11.55" fill="#EAF0F9"/>
<rect x="421.25" y="442.62" width="7.13" height="11.55" fill="#E3EAF7"/>
<rect x="429.28" y="442.62" width="7.13" height="11.55" fill="#DBE5F4"/>
<rect x="437.31" y="442.62" width="7.13" height="11.55" fill="#FEF4F6"/>
<rect x="445.34" y="442.62" width="7.13" height="11.55" fill="#B9CCE8"/>
<rect x="453.37" y="442.62" width="7.13" height="11.55" fill="#99B5DD"/>
<rect x="461.40" y="442.62" width="7.13" height="11.55" fill="#7A9ED3"/>
<rect x="469.43" y="442.62" width="7.13" height="11.55" fill="#FDF0F2"/>
<rect x="477.46" y="442.62" width="7.13" height="11.55" fill="#FCC7CA"/>
<rect x="485.49" y="442.62" width="7.13" height="11.55" fill="#CDDBEF"/>
<rect x="493.52" y="442.62" width="7.13" height="11.55" fill="#FEFCFE"/>
<rect x="501.55" y="442.62" width="7.13" height="11.55" fill="#DBE5F4"/>
<rect x="509.58" y="442.62" width="7.13" height="11.55" fill="#B9CCE8"/>
<rect x="517.61" y="442.62" width="7.13" height="11.55" fill="#FCD3D6"/>
<rect x="533.95" y="442.62" width="7.13" height="11.55" fill="#FCC7CA"/>
<rect x="541.98" y="442.62" width="7.13" height="11.55" fill="#FCCDD0"/>
<rect x="550.01" y="442.62" width="7.13" height="11.55" fill="#FEF8FA"/>
<rect x="558.04" y="442.62" width="7.13" height="11.55" fill="#F9898D"/>
<rect x="566.07" y="442.62" width="7.13" height="11.55" fill="#FCCDD0"/>
<rect x="574.10" y="442.62" width="7.13" height="11.55" fill="#FBBCBF"/>
<text transform="translate(114.00,453.00) rotate(0.05) scale(1.015,1)" font-size="10.3" text-anchor="end" fill="#111" stroke="#111" stroke-width="0.18">Proliferation</text>
</g>
<rect x="115.60" y="322.40" width="216.81" height="132.00" fill="none" stroke="#1a1a1a" stroke-width="0.9"/>
<path d="M123.63 321.70v1.4M123.63 453.70v1.4M131.66 321.70v1.4M131.66 453.70v1.4M139.69 321.70v1.4M139.69 453.70v1.4M147.72 321.70v1.4M147.72 453.70v1.4M155.75 321.70v1.4M155.75 453.70v1.4M163.78 321.70v1.4M163.78 453.70v1.4M171.81 321.70v1.4M171.81 453.70v1.4M179.84 321.70v1.4M179.84 453.70v1.4M187.87 321.70v1.4M187.87 453.70v1.4M195.90 321.70v1.4M195.90 453.70v1.4M203.93 321.70v1.4M203.93 453.70v1.4M211.96 321.70v1.4M211.96 453.70v1.4M219.99 321.70v1.4M219.99 453.70v1.4M228.02 321.70v1.4M228.02 453.70v1.4M236.05 321.70v1.4M236.05 453.70v1.4M244.08 321.70v1.4M244.08 453.70v1.4M252.11 321.70v1.4M252.11 453.70v1.4M260.14 321.70v1.4M260.14 453.70v1.4M268.17 321.70v1.4M268.17 453.70v1.4M276.20 321.70v1.4M276.20 453.70v1.4M284.23 321.70v1.4M284.23 453.70v1.4M292.26 321.70v1.4M292.26 453.70v1.4M300.29 321.70v1.4M300.29 453.70v1.4M308.32 321.70v1.4M308.32 453.70v1.4M316.35 321.70v1.4M316.35 453.70v1.4M324.38 321.70v1.4M324.38 453.70v1.4" stroke="#fff" stroke-opacity="0.7" stroke-width="0.9" fill="none"/>
<rect x="340.50" y="322.40" width="184.69" height="132.00" fill="none" stroke="#1a1a1a" stroke-width="0.9"/>
<path d="M348.53 321.70v1.4M348.53 453.70v1.4M356.56 321.70v1.4M356.56 453.70v1.4M364.59 321.70v1.4M364.59 453.70v1.4M372.62 321.70v1.4M372.62 453.70v1.4M380.65 321.70v1.4M380.65 453.70v1.4M388.68 321.70v1.4M388.68 453.70v1.4M396.71 321.70v1.4M396.71 453.70v1.4M404.74 321.70v1.4M404.74 453.70v1.4M412.77 321.70v1.4M412.77 453.70v1.4M420.80 321.70v1.4M420.80 453.70v1.4M428.83 321.70v1.4M428.83 453.70v1.4M436.86 321.70v1.4M436.86 453.70v1.4M444.89 321.70v1.4M444.89 453.70v1.4M452.92 321.70v1.4M452.92 453.70v1.4M460.95 321.70v1.4M460.95 453.70v1.4M468.98 321.70v1.4M468.98 453.70v1.4M477.01 321.70v1.4M477.01 453.70v1.4M485.04 321.70v1.4M485.04 453.70v1.4M493.07 321.70v1.4M493.07 453.70v1.4M501.10 321.70v1.4M501.10 453.70v1.4M509.13 321.70v1.4M509.13 453.70v1.4M517.16 321.70v1.4M517.16 453.70v1.4" stroke="#fff" stroke-opacity="0.7" stroke-width="0.9" fill="none"/>
<rect x="533.50" y="322.40" width="48.18" height="132.00" fill="none" stroke="#1a1a1a" stroke-width="0.9"/>
<path d="M541.53 321.70v1.4M541.53 453.70v1.4M549.56 321.70v1.4M549.56 453.70v1.4M557.59 321.70v1.4M557.59 453.70v1.4M565.62 321.70v1.4M565.62 453.70v1.4M573.65 321.70v1.4M573.65 453.70v1.4" stroke="#fff" stroke-opacity="0.7" stroke-width="0.9" fill="none"/>
<g>
<rect x="116.05" y="459.73" width="7.13" height="11.65" fill="#4472C4"/>
<rect x="124.08" y="459.73" width="7.13" height="11.65" fill="#4472C4"/>
<rect x="132.11" y="459.73" width="7.13" height="11.65" fill="#4472C4"/>
<rect x="140.14" y="459.73" width="7.13" height="11.65" fill="#4472C4"/>
<rect x="148.17" y="459.73" width="7.13" height="11.65" fill="#4472C4"/>
<rect x="156.20" y="459.73" width="7.13" height="11.65" fill="#4472C4"/>
<rect x="164.23" y="459.73" width="7.13" height="11.65" fill="#4472C4"/>
<rect x="172.26" y="459.73" width="7.13" height="11.65" fill="#4472C4"/>
<rect x="180.29" y="459.73" width="7.13" height="11.65" fill="#4472C4"/>
<rect x="188.32" y="459.73" width="7.13" height="11.65" fill="#4472C4"/>
<rect x="196.35" y="459.73" width="7.13" height="11.65" fill="#F2F2F2"/>
<rect x="204.38" y="459.73" width="7.13" height="11.65" fill="#4472C4"/>
<rect x="212.41" y="459.73" width="7.13" height="11.65" fill="#4472C4"/>
<rect x="220.44" y="459.73" width="7.13" height="11.65" fill="#DEEBF7"/>
<rect x="228.47" y="459.73" width="7.13" height="11.65" fill="#4472C4"/>
<rect x="236.50" y="459.73" width="7.13" height="11.65" fill="#4472C4"/>
<rect x="244.53" y="459.73" width="7.13" height="11.65" fill="#F2F2F2"/>
<rect x="252.56" y="459.73" width="7.13" height="11.65" fill="#DEEBF7"/>
<rect x="260.59" y="459.73" width="7.13" height="11.65" fill="#4472C4"/>
<rect x="268.62" y="459.73" width="7.13" height="11.65" fill="#4472C4"/>
<rect x="276.65" y="459.73" width="7.13" height="11.65" fill="#4472C4"/>
<rect x="284.68" y="459.73" width="7.13" height="11.65" fill="#4472C4"/>
<rect x="292.71" y="459.73" width="7.13" height="11.65" fill="#F2F2F2"/>
<rect x="300.74" y="459.73" width="7.13" height="11.65" fill="#4472C4"/>
<rect x="308.77" y="459.73" width="7.13" height="11.65" fill="#4472C4"/>
<rect x="316.80" y="459.73" width="7.13" height="11.65" fill="#4472C4"/>
<rect x="324.83" y="459.73" width="7.13" height="11.65" fill="#4472C4"/>
<rect x="340.95" y="459.73" width="7.13" height="11.65" fill="#4472C4"/>
<rect x="348.98" y="459.73" width="7.13" height="11.65" fill="#DEEBF7"/>
<rect x="357.01" y="459.73" width="7.13" height="11.65" fill="#4472C4"/>
<rect x="365.04" y="459.73" width="7.13" height="11.65" fill="#DEEBF7"/>
<rect x="373.07" y="459.73" width="7.13" height="11.65" fill="#4472C4"/>
<rect x="381.10" y="459.73" width="7.13" height="11.65" fill="#DEEBF7"/>
<rect x="389.13" y="459.73" width="7.13" height="11.65" fill="#DEEBF7"/>
<rect x="397.16" y="459.73" width="7.13" height="11.65" fill="#4472C4"/>
<rect x="405.19" y="459.73" width="7.13" height="11.65" fill="#4472C4"/>
<rect x="413.22" y="459.73" width="7.13" height="11.65" fill="#4472C4"/>
<rect x="421.25" y="459.73" width="7.13" height="11.65" fill="#F2F2F2"/>
<rect x="429.28" y="459.73" width="7.13" height="11.65" fill="#F2F2F2"/>
<rect x="437.31" y="459.73" width="7.13" height="11.65" fill="#F2F2F2"/>
<rect x="445.34" y="459.73" width="7.13" height="11.65" fill="#DEEBF7"/>
<rect x="453.37" y="459.73" width="7.13" height="11.65" fill="#4472C4"/>
<rect x="461.40" y="459.73" width="7.13" height="11.65" fill="#4472C4"/>
<rect x="469.43" y="459.73" width="7.13" height="11.65" fill="#F2F2F2"/>
<rect x="477.46" y="459.73" width="7.13" height="11.65" fill="#4472C4"/>
<rect x="485.49" y="459.73" width="7.13" height="11.65" fill="#F2F2F2"/>
<rect x="493.52" y="459.73" width="7.13" height="11.65" fill="#F2F2F2"/>
<rect x="501.55" y="459.73" width="7.13" height="11.65" fill="#DEEBF7"/>
<rect x="509.58" y="459.73" width="7.13" height="11.65" fill="#F2F2F2"/>
<rect x="517.61" y="459.73" width="7.13" height="11.65" fill="#F2F2F2"/>
<rect x="533.95" y="459.73" width="7.13" height="11.65" fill="#4472C4"/>
<rect x="541.98" y="459.73" width="7.13" height="11.65" fill="#4472C4"/>
<rect x="550.01" y="459.73" width="7.13" height="11.65" fill="#4472C4"/>
<rect x="558.04" y="459.73" width="7.13" height="11.65" fill="#F2F2F2"/>
<rect x="566.07" y="459.73" width="7.13" height="11.65" fill="#4472C4"/>
<rect x="574.10" y="459.73" width="7.13" height="11.65" fill="#DEEBF7"/>
<text transform="translate(114.00,470.15) rotate(0.05) scale(1.015,1)" font-size="10.3" text-anchor="end" fill="#111" stroke="#111" stroke-width="0.18">CIMP</text>
</g>
<rect x="115.60" y="459.50" width="216.81" height="12.10" fill="none" stroke="#1a1a1a" stroke-width="0.9"/>
<path d="M123.63 458.80v1.4M123.63 470.90v1.4M131.66 458.80v1.4M131.66 470.90v1.4M139.69 458.80v1.4M139.69 470.90v1.4M147.72 458.80v1.4M147.72 470.90v1.4M155.75 458.80v1.4M155.75 470.90v1.4M163.78 458.80v1.4M163.78 470.90v1.4M171.81 458.80v1.4M171.81 470.90v1.4M179.84 458.80v1.4M179.84 470.90v1.4M187.87 458.80v1.4M187.87 470.90v1.4M195.90 458.80v1.4M195.90 470.90v1.4M203.93 458.80v1.4M203.93 470.90v1.4M211.96 458.80v1.4M211.96 470.90v1.4M219.99 458.80v1.4M219.99 470.90v1.4M228.02 458.80v1.4M228.02 470.90v1.4M236.05 458.80v1.4M236.05 470.90v1.4M244.08 458.80v1.4M244.08 470.90v1.4M252.11 458.80v1.4M252.11 470.90v1.4M260.14 458.80v1.4M260.14 470.90v1.4M268.17 458.80v1.4M268.17 470.90v1.4M276.20 458.80v1.4M276.20 470.90v1.4M284.23 458.80v1.4M284.23 470.90v1.4M292.26 458.80v1.4M292.26 470.90v1.4M300.29 458.80v1.4M300.29 470.90v1.4M308.32 458.80v1.4M308.32 470.90v1.4M316.35 458.80v1.4M316.35 470.90v1.4M324.38 458.80v1.4M324.38 470.90v1.4" stroke="#fff" stroke-opacity="0.7" stroke-width="0.9" fill="none"/>
<rect x="340.50" y="459.50" width="184.69" height="12.10" fill="none" stroke="#1a1a1a" stroke-width="0.9"/>
<path d="M348.53 458.80v1.4M348.53 470.90v1.4M356.56 458.80v1.4M356.56 470.90v1.4M364.59 458.80v1.4M364.59 470.90v1.4M372.62 458.80v1.4M372.62 470.90v1.4M380.65 458.80v1.4M380.65 470.90v1.4M388.68 458.80v1.4M388.68 470.90v1.4M396.71 458.80v1.4M396.71 470.90v1.4M404.74 458.80v1.4M404.74 470.90v1.4M412.77 458.80v1.4M412.77 470.90v1.4M420.80 458.80v1.4M420.80 470.90v1.4M428.83 458.80v1.4M428.83 470.90v1.4M436.86 458.80v1.4M436.86 470.90v1.4M444.89 458.80v1.4M444.89 470.90v1.4M452.92 458.80v1.4M452.92 470.90v1.4M460.95 458.80v1.4M460.95 470.90v1.4M468.98 458.80v1.4M468.98 470.90v1.4M477.01 458.80v1.4M477.01 470.90v1.4M485.04 458.80v1.4M485.04 470.90v1.4M493.07 458.80v1.4M493.07 470.90v1.4M501.10 458.80v1.4M501.10 470.90v1.4M509.13 458.80v1.4M509.13 470.90v1.4M517.16 458.80v1.4M517.16 470.90v1.4" stroke="#fff" stroke-opacity="0.7" stroke-width="0.9" fill="none"/>
<rect x="533.50" y="459.50" width="48.18" height="12.10" fill="none" stroke="#1a1a1a" stroke-width="0.9"/>
<path d="M541.53 458.80v1.4M541.53 470.90v1.4M549.56 458.80v1.4M549.56 470.90v1.4M557.59 458.80v1.4M557.59 470.90v1.4M565.62 458.80v1.4M565.62 470.90v1.4M573.65 458.80v1.4M573.65 470.90v1.4" stroke="#fff" stroke-opacity="0.7" stroke-width="0.9" fill="none"/>
<text transform="translate(0.60,14.30) rotate(0.05) scale(1.0,1)" font-size="26.2" fill="#000" stroke="#000" stroke-width="0">a</text>
<rect x="0" y="139.0" width="1.2" height="1" fill="#7CC87C"/>
<rect x="0" y="281.2" width="1.2" height="1" fill="#7CC87C"/>
<rect x="0" y="293.2" width="1.2" height="1" fill="#7CC87C"/>
<rect x="0" y="305.4" width="1.2" height="1" fill="#7CC87C"/>
<text transform="translate(593.40,22.20) rotate(0.05) scale(1.05,1)" font-size="7.5" font-weight="bold" textLength="26.67" lengthAdjust="spacingAndGlyphs" fill="#111" stroke="#111" stroke-width="0.18">Subtype</text>
<rect x="592.10" y="24.15" width="9.1" height="8.85" fill="#DD6CAD"/>
<text transform="translate(603.20,31.30) rotate(0.05) scale(1.03,1)" font-size="7.6" fill="#111" stroke="#111" stroke-width="0.18">C1</text>
<rect x="592.10" y="33.00" width="9.1" height="8.85" fill="#9DC3E6"/>
<text transform="translate(603.20,40.15) rotate(0.05) scale(1.03,1)" font-size="7.6" fill="#111" stroke="#111" stroke-width="0.18">C2</text>
<rect x="592.10" y="41.85" width="9.1" height="8.85" fill="#FFC000"/>
<text transform="translate(603.20,49.00) rotate(0.05) scale(1.03,1)" font-size="7.6" fill="#111" stroke="#111" stroke-width="0.18">C3</text>
<text transform="translate(593.40,66.90) rotate(0.05) scale(1.05,1)" font-size="7.5" font-weight="bold" textLength="24.00" lengthAdjust="spacingAndGlyphs" fill="#111" stroke="#111" stroke-width="0.18">Gender</text>
<rect x="592.10" y="68.85" width="9.1" height="8.85" fill="#FFC000"/>
<text transform="translate(603.20,76.00) rotate(0.05) scale(1.03,1)" font-size="7.6" fill="#111" stroke="#111" stroke-width="0.18">Male</text>
<rect x="592.10" y="77.70" width="9.1" height="8.85" fill="#FFF2CC"/>
<text transform="translate(603.20,84.85) rotate(0.05) scale(1.03,1)" font-size="7.6" fill="#111" stroke="#111" stroke-width="0.18">Female</text>
<text transform="translate(593.40,111.60) rotate(0.05) scale(1.05,1)" font-size="7.5" font-weight="bold" textLength="12.00" lengthAdjust="spacingAndGlyphs" fill="#111" stroke="#111" stroke-width="0.18">Age</text>
<rect x="592.10" y="113.55" width="9.1" height="8.85" fill="#A9D18E"/>
<text transform="translate(603.20,120.70) rotate(0.05) scale(1.03,1)" font-size="7.6" fill="#111" stroke="#111" stroke-width="0.18">&gt;40 yr</text>
<rect x="592.10" y="122.40" width="9.1" height="8.85" fill="#E2F0D9"/>
<text transform="translate(603.20,129.55) rotate(0.05) scale(1.03,1)" font-size="7.6" fill="#111" stroke="#111" stroke-width="0.18">≤40 yr</text>
<text transform="translate(593.40,146.90) rotate(0.05) scale(1.05,1)" font-size="7.5" font-weight="bold" textLength="35.90" lengthAdjust="spacingAndGlyphs" fill="#111" stroke="#111" stroke-width="0.18">Tumor size</text>
<rect x="592.10" y="148.85" width="9.1" height="8.85" fill="#8497B0"/>
<text transform="translate(603.20,156.00) rotate(0.05) scale(1.03,1)" font-size="7.6" fill="#111" stroke="#111" stroke-width="0.18">&gt;5cm</text>
<rect x="592.10" y="157.70" width="9.1" height="8.85" fill="#D6DCE5"/>
<text transform="translate(603.20,164.85) rotate(0.05) scale(1.03,1)" font-size="7.6" fill="#111" stroke="#111" stroke-width="0.18">≤5cm</text>
<rect x="592.10" y="166.55" width="9.1" height="8.85" fill="#F2F2F2"/>
<text transform="translate(603.20,173.70) rotate(0.05) scale(1.03,1)" font-size="7.6" fill="#111" stroke="#111" stroke-width="0.18">NA</text>
<text transform="translate(593.40,191.70) rotate(0.05) scale(1.05,1)" font-size="7.5" font-weight="bold" textLength="23.62" lengthAdjust="spacingAndGlyphs" fill="#111" stroke="#111" stroke-width="0.18">T stage</text>
<rect x="592.10" y="193.65" width="9.1" height="8.85" fill="#FFC000"/>
<text transform="translate(603.20,200.80) rotate(0.05) scale(1.03,1)" font-size="7.6" fill="#111" stroke="#111" stroke-width="0.18">≥3a</text>
<rect x="592.10" y="202.50" width="9.1" height="8.85" fill="#FFF2CC"/>
<text transform="translate(603.20,209.65) rotate(0.05) scale(1.03,1)" font-size="7.6" fill="#111" stroke="#111" stroke-width="0.18">&lt;3a</text>
<rect x="592.10" y="211.35" width="9.1" height="8.85" fill="#F2F2F2"/>
<text transform="translate(603.20,218.50) rotate(0.05) scale(1.03,1)" font-size="7.6" fill="#111" stroke="#111" stroke-width="0.18">NA</text>
<text transform="translate(593.40,236.40) rotate(0.05) scale(1.05,1)" font-size="7.5" font-weight="bold" textLength="63.33" lengthAdjust="spacingAndGlyphs" fill="#111" stroke="#111" stroke-width="0.18">Metastasis status</text>
<rect x="592.10" y="238.35" width="9.1" height="8.85" fill="#ED7D31"/>
<text transform="translate(603.20,245.50) rotate(0.05) scale(1.03,1)" font-size="7.6" fill="#111" stroke="#111" stroke-width="0.18">No metastasis</text>
<rect x="592.10" y="247.20" width="9.1" height="8.85" fill="#FFF2CC"/>
<text transform="translate(603.20,254.35) rotate(0.05) scale(1.03,1)" font-size="7.6" fill="#111" stroke="#111" stroke-width="0.18">Synchronous</text>
<rect x="592.10" y="256.05" width="9.1" height="8.85" fill="#A9D18E"/>
<text transform="translate(603.20,263.20) rotate(0.05) scale(1.03,1)" font-size="7.6" fill="#111" stroke="#111" stroke-width="0.18">Metachronous</text>
<text transform="translate(680.50,22.20) rotate(0.05) scale(1.05,1)" font-size="7.5" font-weight="bold" textLength="66.95" lengthAdjust="spacingAndGlyphs" fill="#111" stroke="#111" stroke-width="0.18">Uterine leiomyoma</text>
<rect x="679.20" y="24.15" width="9.1" height="8.85" fill="#4472C4"/>
<text transform="translate(690.30,31.30) rotate(0.05) scale(1.03,1)" font-size="7.6" fill="#111" stroke="#111" stroke-width="0.18">Yes</text>
<rect x="679.20" y="33.00" width="9.1" height="8.85" fill="#DEEBF7"/>
<text transform="translate(690.30,40.15) rotate(0.05) scale(1.03,1)" font-size="7.6" fill="#111" stroke="#111" stroke-width="0.18">No</text>
<rect x="679.20" y="41.85" width="9.1" height="8.85" fill="#F2F2F2"/>
<text transform="translate(690.30,49.00) rotate(0.05) scale(1.03,1)" font-size="7.6" fill="#111" stroke="#111" stroke-width="0.18">Not related</text>
<text transform="translate(680.50,66.90) rotate(0.05) scale(1.05,1)" font-size="7.5" font-weight="bold" textLength="36.67" lengthAdjust="spacingAndGlyphs" fill="#111" stroke="#111" stroke-width="0.18">WHO/ISUP</text>
<rect x="679.20" y="68.85" width="9.1" height="8.85" fill="#4472C4"/>
<text transform="translate(690.30,76.00) rotate(0.05) scale(1.03,1)" font-size="7.6" fill="#111" stroke="#111" stroke-width="0.18">4</text>
<rect x="679.20" y="77.70" width="9.1" height="8.85" fill="#DEEBF7"/>
<text transform="translate(690.30,84.85) rotate(0.05) scale(1.03,1)" font-size="7.6" fill="#111" stroke="#111" stroke-width="0.18">≤3</text>
<rect x="679.20" y="86.55" width="9.1" height="8.85" fill="#F2F2F2"/>
<text transform="translate(690.30,93.70) rotate(0.05) scale(1.03,1)" font-size="7.6" fill="#111" stroke="#111" stroke-width="0.18">NA</text>
<text transform="translate(680.50,111.60) rotate(0.05) scale(1.05,1)" font-size="7.5" font-weight="bold" textLength="84.10" lengthAdjust="spacingAndGlyphs" fill="#111" stroke="#111" stroke-width="0.18">Low grade eosinophilic</text>
<rect x="679.20" y="113.55" width="9.1" height="8.85" fill="#4472C4"/>
<text transform="translate(690.30,120.70) rotate(0.05) scale(1.03,1)" font-size="7.6" fill="#111" stroke="#111" stroke-width="0.18">Yes</text>
<rect x="679.20" y="122.40" width="9.1" height="8.85" fill="#DEEBF7"/>
<text transform="translate(690.30,129.55) rotate(0.05) scale(1.03,1)" font-size="7.6" fill="#111" stroke="#111" stroke-width="0.18">No</text>
<text transform="translate(680.50,146.90) rotate(0.05) scale(1.05,1)" font-size="7.5" font-weight="bold" textLength="18.76" lengthAdjust="spacingAndGlyphs" fill="#111" stroke="#111" stroke-width="0.18">IMDC</text>
<rect x="679.20" y="148.85" width="9.1" height="8.85" fill="#ED7D31"/>
<text transform="translate(690.30,156.00) rotate(0.05) scale(1.03,1)" font-size="7.6" fill="#111" stroke="#111" stroke-width="0.18">Poor</text>
<rect x="679.20" y="157.70" width="9.1" height="8.85" fill="#F4B183"/>
<text transform="translate(690.30,164.85) rotate(0.05) scale(1.03,1)" font-size="7.6" fill="#111" stroke="#111" stroke-width="0.18">Intermediate</text>
<rect x="679.20" y="166.55" width="9.1" height="8.85" fill="#FFF2CC"/>
<text transform="translate(690.30,173.70) rotate(0.05) scale(1.03,1)" font-size="7.6" fill="#111" stroke="#111" stroke-width="0.18">Favorable</text>
<text transform="translate(680.50,191.70) rotate(0.05) scale(1.05,1)" font-size="7.5" font-weight="bold" textLength="24.38" lengthAdjust="spacingAndGlyphs" fill="#111" stroke="#111" stroke-width="0.18">N stage</text>
<rect x="679.20" y="193.65" width="9.1" height="8.85" fill="#A9D18E"/>
<text transform="translate(690.30,200.80) rotate(0.05) scale(1.03,1)" font-size="7.6" fill="#111" stroke="#111" stroke-width="0.18">1</text>
<rect x="679.20" y="202.50" width="9.1" height="8.85" fill="#E2F0D9"/>
<text transform="translate(690.30,209.65) rotate(0.05) scale(1.03,1)" font-size="7.6" fill="#111" stroke="#111" stroke-width="0.18">0</text>
<rect x="679.20" y="211.35" width="9.1" height="8.85" fill="#F2F2F2"/>
<text transform="translate(690.30,218.50) rotate(0.05) scale(1.03,1)" font-size="7.6" fill="#111" stroke="#111" stroke-width="0.18">NA</text>
<text transform="translate(680.50,236.40) rotate(0.05) scale(1.05,1)" font-size="7.5" font-weight="bold" textLength="36.10" lengthAdjust="spacingAndGlyphs" fill="#111" stroke="#111" stroke-width="0.18">Treatment</text>
<rect x="679.20" y="238.35" width="9.1" height="8.85" fill="#ED7D31"/>
<text transform="translate(690.30,245.50) rotate(0.05) scale(1.03,1)" font-size="7.6" fill="#111" stroke="#111" stroke-width="0.18">ICB</text>
<rect x="679.20" y="247.20" width="9.1" height="8.85" fill="#A9D18E"/>
<text transform="translate(690.30,254.35) rotate(0.05) scale(1.03,1)" font-size="7.6" fill="#111" stroke="#111" stroke-width="0.18">TKI</text>
<rect x="679.20" y="256.05" width="9.1" height="8.85" fill="#7F7F7F"/>
<text transform="translate(690.30,263.20) rotate(0.05) scale(1.03,1)" font-size="7.6" fill="#111" stroke="#111" stroke-width="0.18">NR</text>
<rect x="679.20" y="264.90" width="9.1" height="8.85" fill="#D9D9D9"/>
<text transform="translate(690.30,272.05) rotate(0.05) scale(1.03,1)" font-size="7.6" fill="#111" stroke="#111" stroke-width="0.18">NA</text>
<text transform="translate(777.30,22.20) rotate(0.05) scale(1.05,1)" font-size="7.5" font-weight="bold" textLength="43.14" lengthAdjust="spacingAndGlyphs" fill="#111" stroke="#111" stroke-width="0.18">FH germline</text>
<rect x="776.00" y="24.15" width="9.1" height="8.85" fill="#4472C4"/>
<text transform="translate(787.10,31.30) rotate(0.05) scale(1.03,1)" font-size="7.6" fill="#111" stroke="#111" stroke-width="0.18">Yes</text>
<rect x="776.00" y="33.00" width="9.1" height="8.85" fill="#DEEBF7"/>
<text transform="translate(787.10,40.15) rotate(0.05) scale(1.03,1)" font-size="7.6" fill="#111" stroke="#111" stroke-width="0.18">No</text>
<text transform="translate(777.30,66.90) rotate(0.05) scale(1.05,1)" font-size="7.5" font-weight="bold" textLength="36.29" lengthAdjust="spacingAndGlyphs" fill="#111" stroke="#111" stroke-width="0.18">FH variant</text>
<rect x="776.00" y="68.80" width="9.1" height="8.85" fill="#5B9BD5"/>
<text transform="translate(787.10,75.95) rotate(0.05) scale(1.03,1)" font-size="7.6" fill="#111" stroke="#111" stroke-width="0.18">Nonsense</text>
<rect x="776.00" y="77.65" width="9.1" height="8.85" fill="#ED7D31"/>
<text transform="translate(787.10,84.80) rotate(0.05) scale(1.03,1)" font-size="7.6" fill="#111" stroke="#111" stroke-width="0.18">Frame_Shift</text>
<rect x="776.00" y="86.50" width="9.1" height="8.85" fill="#FFC000"/>
<text transform="translate(787.10,93.65) rotate(0.05) scale(1.03,1)" font-size="7.6" fill="#111" stroke="#111" stroke-width="0.18">Splice_Site</text>
<rect x="776.00" y="95.35" width="9.1" height="8.85" fill="#4472C4"/>
<text transform="translate(787.10,102.50) rotate(0.05) scale(1.03,1)" font-size="7.6" fill="#111" stroke="#111" stroke-width="0.18">Missense</text>
<rect x="776.00" y="104.20" width="9.1" height="8.85" fill="#70AD47"/>
<text transform="translate(787.10,111.35) rotate(0.05) scale(1.03,1)" font-size="7.6" fill="#111" stroke="#111" stroke-width="0.18">Large_deletion</text>
<rect x="776.00" y="113.05" width="9.1" height="8.85" fill="#C00000"/>
<text transform="translate(787.10,120.20) rotate(0.05) scale(1.03,1)" font-size="7.6" fill="#111" stroke="#111" stroke-width="0.18">Multi_Hit</text>
<text transform="translate(777.30,147.60) rotate(0.05) scale(1.05,1)" font-size="7.5" font-weight="bold" textLength="48.38" lengthAdjust="spacingAndGlyphs" fill="#111" stroke="#111" stroke-width="0.18">FH truncating</text>
<rect x="776.00" y="149.55" width="9.1" height="8.85" fill="#4472C4"/>
<text transform="translate(787.10,156.70) rotate(0.05) scale(1.03,1)" font-size="7.6" fill="#111" stroke="#111" stroke-width="0.18">Yes</text>
<rect x="776.00" y="158.40" width="9.1" height="8.85" fill="#DEEBF7"/>
<text transform="translate(787.10,165.55) rotate(0.05) scale(1.03,1)" font-size="7.6" fill="#111" stroke="#111" stroke-width="0.18">No</text>
<text transform="translate(777.30,182.90) rotate(0.05) scale(1.05,1)" font-size="7.5" font-weight="bold" textLength="78.95" lengthAdjust="spacingAndGlyphs" fill="#111" stroke="#111" stroke-width="0.18">FH protein expression</text>
<rect x="776.00" y="184.85" width="9.1" height="8.85" fill="#ED7D31"/>
<text transform="translate(787.10,192.00) rotate(0.05) scale(1.03,1)" font-size="7.6" fill="#111" stroke="#111" stroke-width="0.18">Loss</text>
<rect x="776.00" y="193.70" width="9.1" height="8.85" fill="#FFF2CC"/>
<text transform="translate(787.10,200.85) rotate(0.05) scale(1.03,1)" font-size="7.6" fill="#111" stroke="#111" stroke-width="0.18">Positive</text>
<rect x="776.00" y="202.55" width="9.1" height="8.85" fill="#F2F2F2"/>
<text transform="translate(787.10,209.70) rotate(0.05) scale(1.03,1)" font-size="7.6" fill="#111" stroke="#111" stroke-width="0.18">NA</text>
<text transform="translate(777.30,236.40) rotate(0.05) scale(1.05,1)" font-size="7.5" font-weight="bold" textLength="15.62" lengthAdjust="spacingAndGlyphs" fill="#111" stroke="#111" stroke-width="0.18">ORR</text>
<rect x="776.00" y="238.35" width="9.1" height="8.85" fill="#ED7D31"/>
<text transform="translate(787.10,245.50) rotate(0.05) scale(1.03,1)" font-size="7.6" fill="#111" stroke="#111" stroke-width="0.18">Yes</text>
<rect x="776.00" y="247.20" width="9.1" height="8.85" fill="#FFF2CC"/>
<text transform="translate(787.10,254.35) rotate(0.05) scale(1.03,1)" font-size="7.6" fill="#111" stroke="#111" stroke-width="0.18">No</text>
<rect x="776.00" y="256.05" width="9.1" height="8.85" fill="#7F7F7F"/>
<text transform="translate(787.10,263.20) rotate(0.05) scale(1.03,1)" font-size="7.6" fill="#111" stroke="#111" stroke-width="0.18">NR</text>
<rect x="776.00" y="264.90" width="9.1" height="8.85" fill="#D9D9D9"/>
<text transform="translate(787.10,272.05) rotate(0.05) scale(1.03,1)" font-size="7.6" fill="#111" stroke="#111" stroke-width="0.18">NA</text>
<text transform="translate(593.60,289.70) rotate(0.05) scale(1.05,1)" font-size="7.5" font-weight="bold" textLength="48.10" lengthAdjust="spacingAndGlyphs" fill="#111" stroke="#111" stroke-width="0.18">SCNA burden</text>
<rect x="592.30" y="292.00" width="9.1" height="8.25" fill="#000"/>
<text transform="translate(603.40,299.15) rotate(0.05) scale(1.03,1)" font-size="7.0" fill="#111" stroke="#111" stroke-width="0.18">High</text>
<rect x="592.30" y="300.85" width="9.1" height="8.25" fill="#F2F2F2"/>
<text transform="translate(603.40,308.00) rotate(0.05) scale(1.03,1)" font-size="7.0" fill="#111" stroke="#111" stroke-width="0.18">Low</text>
<text transform="translate(593.60,325.80) rotate(0.05) scale(1.05,1)" font-size="7.5" font-weight="bold" textLength="30.48" lengthAdjust="spacingAndGlyphs" fill="#111" stroke="#111" stroke-width="0.18">17q gain</text>
<rect x="592.30" y="328.10" width="9.1" height="8.25" fill="#000"/>
<text transform="translate(603.40,335.25) rotate(0.05) scale(1.03,1)" font-size="7.0" fill="#111" stroke="#111" stroke-width="0.18">Yes</text>
<rect x="592.30" y="336.95" width="9.1" height="8.25" fill="#F2F2F2"/>
<text transform="translate(603.40,344.10) rotate(0.05) scale(1.03,1)" font-size="7.0" fill="#111" stroke="#111" stroke-width="0.18">No</text>
<text transform="translate(651.50,289.70) rotate(0.05) scale(1.05,1)" font-size="7.5" font-weight="bold" textLength="39.05" lengthAdjust="spacingAndGlyphs" fill="#111" stroke="#111" stroke-width="0.18">Del.burden</text>
<rect x="650.20" y="292.00" width="9.1" height="8.25" fill="#000"/>
<text transform="translate(661.30,299.15) rotate(0.05) scale(1.03,1)" font-size="7.0" fill="#111" stroke="#111" stroke-width="0.18">High</text>
<rect x="650.20" y="300.85" width="9.1" height="8.25" fill="#F2F2F2"/>
<text transform="translate(661.30,308.00) rotate(0.05) scale(1.03,1)" font-size="7.0" fill="#111" stroke="#111" stroke-width="0.18">Low</text>
<text transform="translate(651.50,325.80) rotate(0.05) scale(1.05,1)" font-size="7.5" font-weight="bold" textLength="30.48" lengthAdjust="spacingAndGlyphs" fill="#111" stroke="#111" stroke-width="0.18">16p gain</text>
<rect x="650.20" y="328.10" width="9.1" height="8.25" fill="#000"/>
<text transform="translate(661.30,335.25) rotate(0.05) scale(1.03,1)" font-size="7.0" fill="#111" stroke="#111" stroke-width="0.18">Yes</text>
<rect x="650.20" y="336.95" width="9.1" height="8.25" fill="#F2F2F2"/>
<text transform="translate(661.30,344.10) rotate(0.05) scale(1.03,1)" font-size="7.0" fill="#111" stroke="#111" stroke-width="0.18">No</text>
<text transform="translate(709.70,289.70) rotate(0.05) scale(1.05,1)" font-size="7.5" font-weight="bold" textLength="43.33" lengthAdjust="spacingAndGlyphs" fill="#111" stroke="#111" stroke-width="0.18">Amp.burden</text>
<rect x="708.40" y="292.00" width="9.1" height="8.25" fill="#000"/>
<text transform="translate(719.50,299.15) rotate(0.05) scale(1.03,1)" font-size="7.0" fill="#111" stroke="#111" stroke-width="0.18">High</text>
<rect x="708.40" y="300.85" width="9.1" height="8.25" fill="#F2F2F2"/>
<text transform="translate(719.50,308.00) rotate(0.05) scale(1.03,1)" font-size="7.0" fill="#111" stroke="#111" stroke-width="0.18">Low</text>
<text transform="translate(709.70,325.80) rotate(0.05) scale(1.05,1)" font-size="7.5" font-weight="bold" textLength="30.48" lengthAdjust="spacingAndGlyphs" fill="#111" stroke="#111" stroke-width="0.18">16q gain</text>
<rect x="708.40" y="328.10" width="9.1" height="8.25" fill="#000"/>
<text transform="translate(719.50,335.25) rotate(0.05) scale(1.03,1)" font-size="7.0" fill="#111" stroke="#111" stroke-width="0.18">Yes</text>
<rect x="708.40" y="336.95" width="9.1" height="8.25" fill="#F2F2F2"/>
<text transform="translate(719.50,344.10) rotate(0.05) scale(1.03,1)" font-size="7.0" fill="#111" stroke="#111" stroke-width="0.18">No</text>
<text transform="translate(593.60,361.40) rotate(0.05) scale(1.05,1)" font-size="7.5" font-weight="bold" textLength="28.76" lengthAdjust="spacingAndGlyphs" fill="#111" stroke="#111" stroke-width="0.18">CD8 IHC</text>
<rect x="592.30" y="363.40" width="9.1" height="8.85" fill="#FC484B"/>
<text transform="translate(603.40,370.55) rotate(0.05) scale(1.03,1)" font-size="7.0" fill="#111" stroke="#111" stroke-width="0.18">Average&gt;50</text>
<rect x="592.30" y="372.25" width="9.1" height="8.85" fill="#5B9BD5"/>
<text transform="translate(603.40,379.40) rotate(0.05) scale(1.03,1)" font-size="7.0" fill="#111" stroke="#111" stroke-width="0.18">Average≤50</text>
<text transform="translate(670.70,361.40) rotate(0.05) scale(1.05,1)" font-size="7.5" font-weight="bold" textLength="58.38" lengthAdjust="spacingAndGlyphs" fill="#111" stroke="#111" stroke-width="0.18">PD-L1 IHC (TPS)</text>
<rect x="669.40" y="363.40" width="9.1" height="8.85" fill="#FC484B"/>
<text transform="translate(680.50,370.55) rotate(0.05) scale(1.03,1)" font-size="7.0" fill="#111" stroke="#111" stroke-width="0.18">≥1%</text>
<rect x="669.40" y="372.25" width="9.1" height="8.85" fill="#5B9BD5"/>
<text transform="translate(680.50,379.40) rotate(0.05) scale(1.03,1)" font-size="7.0" fill="#111" stroke="#111" stroke-width="0.18">&lt;1%</text>
<rect x="669.40" y="381.10" width="9.1" height="8.85" fill="#F2F2F2"/>
<text transform="translate(680.50,388.25) rotate(0.05) scale(1.03,1)" font-size="7.0" fill="#111" stroke="#111" stroke-width="0.18">NA</text>
<text transform="translate(593.70,405.80) rotate(0.05) scale(1.05,1)" font-size="7.5" font-weight="bold" textLength="37.90" lengthAdjust="spacingAndGlyphs" fill="#111" stroke="#111" stroke-width="0.18">CCP score</text>
<rect x="592.40" y="408.10" width="9.1" height="8.85" fill="#FC484B"/>
<text transform="translate(603.50,415.25) rotate(0.05) scale(1.03,1)" font-size="7.0" fill="#111" stroke="#111" stroke-width="0.18">High</text>
<rect x="592.40" y="416.95" width="9.1" height="8.85" fill="#5B9BD5"/>
<text transform="translate(603.50,424.10) rotate(0.05) scale(1.03,1)" font-size="7.0" fill="#111" stroke="#111" stroke-width="0.18">Low</text>
<text transform="translate(680.50,405.80) rotate(0.05) scale(1.05,1)" font-size="7.5" font-weight="bold" textLength="84.76" lengthAdjust="spacingAndGlyphs" fill="#111" stroke="#111" stroke-width="0.18">Cancer stemness score</text>
<rect x="679.20" y="408.10" width="9.1" height="8.85" fill="#FC484B"/>
<text transform="translate(690.30,415.25) rotate(0.05) scale(1.03,1)" font-size="7.0" fill="#111" stroke="#111" stroke-width="0.18">High</text>
<rect x="679.20" y="416.95" width="9.1" height="8.85" fill="#5B9BD5"/>
<text transform="translate(690.30,424.10) rotate(0.05) scale(1.03,1)" font-size="7.0" fill="#111" stroke="#111" stroke-width="0.18">Low</text>
<text transform="translate(593.70,441.40) rotate(0.05) scale(1.05,1)" font-size="7.5" font-weight="bold" textLength="18.76" lengthAdjust="spacingAndGlyphs" fill="#111" stroke="#111" stroke-width="0.18">CIMP</text>
<rect x="592.40" y="443.70" width="9.1" height="8.85" fill="#4472C4"/>
<text transform="translate(603.50,450.85) rotate(0.05) scale(1.03,1)" font-size="7.0" fill="#111" stroke="#111" stroke-width="0.18">Yes</text>
<rect x="592.40" y="452.55" width="9.1" height="8.85" fill="#DEEBF7"/>
<text transform="translate(603.50,459.70) rotate(0.05) scale(1.03,1)" font-size="7.0" fill="#111" stroke="#111" stroke-width="0.18">No</text>
<text transform="translate(758.20,361.20) rotate(0.05) scale(1.05,1)" font-size="7.5" font-weight="bold" textLength="68.76" lengthAdjust="spacingAndGlyphs" fill="#111" stroke="#111" stroke-width="0.18">Signature (Z score)</text>
<defs><linearGradient id="zg" x1="0" x2="1" y1="0" y2="0"><stop offset="0" stop-color="#4676C0"/><stop offset="0.5" stop-color="#FFFFFF"/><stop offset="1" stop-color="#F45A62"/></linearGradient></defs>
<rect x="763.7" y="364.4" width="38.8" height="7.1" fill="url(#zg)"/>
<text transform="translate(762.60,370.80) rotate(0.05) scale(1.03,1)" font-size="7.0" text-anchor="end" fill="#111" stroke="#111" stroke-width="0.18">-3</text>
<text transform="translate(803.80,370.80) rotate(0.05) scale(1.03,1)" font-size="7.0" fill="#111" stroke="#111" stroke-width="0.18">3</text>
<text transform="translate(1.00,523.40) rotate(0.05) scale(1.0,1)" font-size="26.2" fill="#000" stroke="#000" stroke-width="0">b</text>
<text transform="translate(327.30,523.40) rotate(0.05) scale(1.0,1)" font-size="26.2" fill="#000" stroke="#000" stroke-width="0">c</text>
<text transform="translate(591.00,523.40) rotate(0.05) scale(1.0,1)" font-size="26.2" fill="#000" stroke="#000" stroke-width="0">d</text>
<rect x="78.5" y="566.60" width="20.4" height="175.50" fill="#4DBBD5"/>
<rect x="78.5" y="645.40" width="20.4" height="96.70" fill="#E64B35"/>
<rect x="103.8" y="566.60" width="20.4" height="175.50" fill="#4DBBD5"/>
<rect x="103.8" y="685.06" width="20.4" height="57.04" fill="#E64B35"/>
<rect x="137.4" y="566.60" width="20.4" height="175.50" fill="#4DBBD5"/>
<rect x="137.4" y="654.35" width="20.4" height="87.75" fill="#E64B35"/>
<rect x="162.6" y="566.60" width="20.4" height="175.50" fill="#4DBBD5"/>
<rect x="196.2" y="566.60" width="20.4" height="175.50" fill="#4DBBD5"/>
<rect x="221.5" y="566.60" width="20.4" height="175.50" fill="#4DBBD5"/>
<path d="M73.6 558.5V742.3000000000001H260.6" fill="none" stroke="#000" stroke-width="1.3"/>
<path d="M69.8 742.10H73.6" stroke="#000" stroke-width="1.3"/>
<text transform="translate(66.40,745.90) rotate(0.05) scale(1.0,1)" font-size="11.3" text-anchor="end" fill="#111" stroke="#111" stroke-width="0.18">0</text>
<path d="M69.8 698.23H73.6" stroke="#000" stroke-width="1.3"/>
<text transform="translate(66.40,702.02) rotate(0.05) scale(1.0,1)" font-size="11.3" text-anchor="end" fill="#111" stroke="#111" stroke-width="0.18">25</text>
<path d="M69.8 654.35H73.6" stroke="#000" stroke-width="1.3"/>
<text transform="translate(66.40,658.15) rotate(0.05) scale(1.0,1)" font-size="11.3" text-anchor="end" fill="#111" stroke="#111" stroke-width="0.18">50</text>
<path d="M69.8 610.48H73.6" stroke="#000" stroke-width="1.3"/>
<text transform="translate(66.40,614.27) rotate(0.05) scale(1.0,1)" font-size="11.3" text-anchor="end" fill="#111" stroke="#111" stroke-width="0.18">75</text>
<path d="M69.8 566.60H73.6" stroke="#000" stroke-width="1.3"/>
<text transform="translate(66.40,570.40) rotate(0.05) scale(1.0,1)" font-size="11.3" text-anchor="end" fill="#111" stroke="#111" stroke-width="0.18">100</text>
<path d="M88.70 742.1V746.0" stroke="#000" stroke-width="1.3"/>
<text transform="translate(95.50,754.50) rotate(-45) scale(1.0,1)" font-size="12.0" text-anchor="end" fill="#111" stroke="#111" stroke-width="0.18">ICB+TKI</text>
<path d="M114.00 742.1V746.0" stroke="#000" stroke-width="1.3"/>
<text transform="translate(120.80,754.50) rotate(-45) scale(1.0,1)" font-size="12.0" text-anchor="end" fill="#111" stroke="#111" stroke-width="0.18">TKI</text>
<path d="M147.60 742.1V746.0" stroke="#000" stroke-width="1.3"/>
<text transform="translate(154.40,754.50) rotate(-45) scale(1.0,1)" font-size="12.0" text-anchor="end" fill="#111" stroke="#111" stroke-width="0.18">ICB+TKI</text>
<path d="M172.80 742.1V746.0" stroke="#000" stroke-width="1.3"/>
<text transform="translate(179.60,754.50) rotate(-45) scale(1.0,1)" font-size="12.0" text-anchor="end" fill="#111" stroke="#111" stroke-width="0.18">TKI</text>
<path d="M206.40 742.1V746.0" stroke="#000" stroke-width="1.3"/>
<text transform="translate(213.20,754.50) rotate(-45) scale(1.0,1)" font-size="12.0" text-anchor="end" fill="#111" stroke="#111" stroke-width="0.18">ICB+TKI</text>
<path d="M231.70 742.1V746.0" stroke="#000" stroke-width="1.3"/>
<text transform="translate(238.50,754.50) rotate(-45) scale(1.0,1)" font-size="12.0" text-anchor="end" fill="#111" stroke="#111" stroke-width="0.18">TKI</text>
<text transform="translate(100.00,555.60) rotate(0.05) scale(1.0,1)" font-size="13.6" text-anchor="middle" fill="#111" stroke="#111" stroke-width="0.18">C1</text>
<text transform="translate(158.50,555.60) rotate(0.05) scale(1.0,1)" font-size="13.6" text-anchor="middle" fill="#111" stroke="#111" stroke-width="0.18">C2</text>
<text transform="translate(217.00,555.60) rotate(0.05) scale(1.0,1)" font-size="13.6" text-anchor="middle" fill="#111" stroke="#111" stroke-width="0.18">C3</text>
<text transform="translate(37.40,650.40) rotate(-89.95) scale(1.0,1)" font-size="13.05" text-anchor="middle" fill="#111" stroke="#111" stroke-width="0.18">Proportion (%)</text>
<text transform="translate(251.70,633.00) rotate(0.05) scale(1.0,1)" font-size="11.2" fill="#111" stroke="#111" stroke-width="0.18">ORR</text>
<rect x="251.7" y="645.8" width="9.6" height="10.2" fill="#4DBBD5"/>
<rect x="251.7" y="665.7" width="9.6" height="10.2" fill="#E64B35"/>
<text transform="translate(265.30,654.90) rotate(0.05) scale(1.0,1)" font-size="11.2" fill="#111" stroke="#111" stroke-width="0.18">No</text>
<text transform="translate(265.30,674.90) rotate(0.05) scale(1.0,1)" font-size="11.2" fill="#111" stroke="#111" stroke-width="0.18">Yes</text>
<text transform="translate(462.60,547.60) rotate(0.05) scale(1.075,1)" font-size="16.4" text-anchor="middle" fill="#111" stroke="#111" stroke-width="0.1">ICB+TKI cohort</text>
<path d="M384.2 567.4V739.9H540.8" fill="none" stroke="#000" stroke-width="1.3"/>
<path d="M379.59999999999997 735.20H384.2" stroke="#000" stroke-width="1.2"/>
<text transform="translate(377.40,738.70) rotate(0.05) scale(0.96,1)" font-size="9.9" text-anchor="end" fill="#111" stroke="#111" stroke-width="0.18">0.00</text>
<path d="M379.59999999999997 694.23H384.2" stroke="#000" stroke-width="1.2"/>
<text transform="translate(377.40,697.73) rotate(0.05) scale(0.96,1)" font-size="9.9" text-anchor="end" fill="#111" stroke="#111" stroke-width="0.18">0.25</text>
<path d="M379.59999999999997 653.25H384.2" stroke="#000" stroke-width="1.2"/>
<text transform="translate(377.40,656.75) rotate(0.05) scale(0.96,1)" font-size="9.9" text-anchor="end" fill="#111" stroke="#111" stroke-width="0.18">0.50</text>
<path d="M379.59999999999997 612.28H384.2" stroke="#000" stroke-width="1.2"/>
<text transform="translate(377.40,615.78) rotate(0.05) scale(0.96,1)" font-size="9.9" text-anchor="end" fill="#111" stroke="#111" stroke-width="0.18">0.75</text>
<path d="M379.59999999999997 571.30H384.2" stroke="#000" stroke-width="1.2"/>
<text transform="translate(377.40,574.80) rotate(0.05) scale(0.96,1)" font-size="9.9" text-anchor="end" fill="#111" stroke="#111" stroke-width="0.18">1.00</text>
<path d="M387.10 739.8V743.6" stroke="#000" stroke-width="1.2"/>
<text transform="translate(387.10,753.00) rotate(0.05) scale(1.075,1)" font-size="9.2" text-anchor="middle" fill="#111" stroke="#111" stroke-width="0.18">0</text>
<path d="M432.00 739.8V743.6" stroke="#000" stroke-width="1.2"/>
<text transform="translate(432.00,753.00) rotate(0.05) scale(1.075,1)" font-size="9.2" text-anchor="middle" fill="#111" stroke="#111" stroke-width="0.18">10</text>
<path d="M476.90 739.8V743.6" stroke="#000" stroke-width="1.2"/>
<text transform="translate(476.90,753.00) rotate(0.05) scale(1.075,1)" font-size="9.2" text-anchor="middle" fill="#111" stroke="#111" stroke-width="0.18">20</text>
<path d="M521.80 739.8V743.6" stroke="#000" stroke-width="1.2"/>
<text transform="translate(521.80,753.00) rotate(0.05) scale(1.075,1)" font-size="9.2" text-anchor="middle" fill="#111" stroke="#111" stroke-width="0.18">30</text>
<text transform="translate(350.90,653.40) rotate(-89.95) scale(1.075,1)" font-size="11.0" text-anchor="middle" fill="#111" stroke="#111" stroke-width="0.18">Survival probability</text>
<text transform="translate(462.60,765.00) rotate(0.05) scale(1.075,1)" font-size="11.0" text-anchor="middle" fill="#111" stroke="#111" stroke-width="0.18">PFS (months)</text>
<path d="M387.1 571.3 L400.0 571.3 L400.0 581.2 L428.2 581.2 L428.2 590.6 L435.7 590.6 L435.7 601.9 L438.3 601.9 L438.3 612.9 L475.2 612.9 L475.2 628.7 L488.9 628.7 L488.9 645.8 L494.0 645.8 L494.0 663.5 L498.0 663.5 L498.0 681.8 L539.9 681.8" fill="none" stroke="#4DBBD5" stroke-width="1.4" stroke-linejoin="miter"/>
<path d="M387.1 571.3 L437.6 571.3 L437.6 598.8 L445.1 598.8 L445.1 627.0 L459.9 627.0 L459.9 662.7 L464.6 662.7 L464.6 699.2 L478.8 699.2" fill="none" stroke="#E64B35" stroke-width="1.4" stroke-linejoin="miter"/>
<path d="M387.1 571.3 L414.8 571.3 L414.8 653.6 L424.7 653.6 L424.7 735.2" fill="none" stroke="#9FD389" stroke-width="1.3" stroke-linejoin="miter"/>
<path d="M409.5 581.2H413.9M411.7 579.0V583.4" stroke="#4DBBD5" stroke-width="0.9" fill="none"/>
<path d="M431.4 590.6H435.8M433.6 588.4V592.8" stroke="#4DBBD5" stroke-width="0.9" fill="none"/>
<path d="M433.5 592.5H437.9M435.7 590.3V594.7" stroke="#4DBBD5" stroke-width="0.9" fill="none"/>
<path d="M448.8 612.9H453.2M451.0 610.7V615.1" stroke="#4DBBD5" stroke-width="0.9" fill="none"/>
<path d="M456.6 612.9H461.0M458.8 610.7V615.1" stroke="#4DBBD5" stroke-width="0.9" fill="none"/>
<path d="M460.6 612.9H465.0M462.8 610.7V615.1" stroke="#4DBBD5" stroke-width="0.9" fill="none"/>
<path d="M473.0 628.7H477.4M475.2 626.5V630.9" stroke="#4DBBD5" stroke-width="0.9" fill="none"/>
<path d="M513.0 681.8H517.4M515.2 679.6V684.0" stroke="#4DBBD5" stroke-width="0.9" fill="none"/>
<path d="M520.8 681.8H525.2M523.0 679.6V684.0" stroke="#4DBBD5" stroke-width="0.9" fill="none"/>
<path d="M536.5 681.8H540.9M538.7 679.6V684.0" stroke="#4DBBD5" stroke-width="0.9" fill="none"/>
<path d="M409.1 571.3H413.5M411.3 569.1V573.5" stroke="#E64B35" stroke-width="0.9" fill="none"/>
<path d="M414.2 571.3H418.6M416.4 569.1V573.5" stroke="#E64B35" stroke-width="0.9" fill="none"/>
<path d="M443.6 627.0H448.0M445.8 624.8V629.2" stroke="#E64B35" stroke-width="0.9" fill="none"/>
<path d="M474.7 699.2H479.1M476.9 697.0V701.4" stroke="#E64B35" stroke-width="0.9" fill="none"/>
<path d="M514.8 576.90H523.1999999999999" stroke="#4DBBD5" stroke-width="1.1"/>
<text transform="translate(525.40,580.30) rotate(0.05) scale(1.075,1)" font-size="9.6" fill="#111" stroke="#111" stroke-width="0.18">C1 (n=18)</text>
<path d="M514.8 587.05H523.1999999999999" stroke="#E64B35" stroke-width="1.1"/>
<text transform="translate(525.40,590.45) rotate(0.05) scale(1.075,1)" font-size="9.6" fill="#111" stroke="#111" stroke-width="0.18">C2 (n=8)</text>
<path d="M514.8 597.20H523.1999999999999" stroke="#9FD389" stroke-width="1.1"/>
<text transform="translate(525.40,600.60) rotate(0.05) scale(1.075,1)" font-size="9.6" fill="#111" stroke="#111" stroke-width="0.18">C3 (n=2)</text>
<text transform="translate(478.60,624.20) rotate(0.05) scale(1.075,1)" font-size="11.0" fill="#111" stroke="#111" stroke-width="0.18">Median: 23.8 mo</text>
<text transform="translate(483.00,700.60) rotate(0.05) scale(1.075,1)" font-size="11.0" fill="#111" stroke="#111" stroke-width="0.18">Median: 16.2 mo</text>
<text transform="translate(434.50,721.90) rotate(0.05) scale(1.075,1)" font-size="11.0" fill="#111" stroke="#111" stroke-width="0.18">Median: 6.3</text>
<text transform="translate(387.10,735.50) rotate(0.05) scale(1.075,1)" font-size="9.5" fill="#111" stroke="#111" stroke-width="0.18"><tspan font-style="italic">P</tspan> = 6.73e-05</text>
<text transform="translate(725.40,551.20) rotate(0.05) scale(1.075,1)" font-size="16.4" text-anchor="middle" fill="#111" stroke="#111" stroke-width="0.1">TKI monotherapy cohort</text>
<path d="M643.2 567.4V739.9H799.3" fill="none" stroke="#000" stroke-width="1.3"/>
<path d="M638.6 735.20H643.2" stroke="#000" stroke-width="1.2"/>
<text transform="translate(636.40,738.70) rotate(0.05) scale(0.96,1)" font-size="9.9" text-anchor="end" fill="#111" stroke="#111" stroke-width="0.18">0.00</text>
<path d="M638.6 694.23H643.2" stroke="#000" stroke-width="1.2"/>
<text transform="translate(636.40,697.73) rotate(0.05) scale(0.96,1)" font-size="9.9" text-anchor="end" fill="#111" stroke="#111" stroke-width="0.18">0.25</text>
<path d="M638.6 653.25H643.2" stroke="#000" stroke-width="1.2"/>
<text transform="translate(636.40,656.75) rotate(0.05) scale(0.96,1)" font-size="9.9" text-anchor="end" fill="#111" stroke="#111" stroke-width="0.18">0.50</text>
<path d="M638.6 612.28H643.2" stroke="#000" stroke-width="1.2"/>
<text transform="translate(636.40,615.78) rotate(0.05) scale(0.96,1)" font-size="9.9" text-anchor="end" fill="#111" stroke="#111" stroke-width="0.18">0.75</text>
<path d="M638.6 571.30H643.2" stroke="#000" stroke-width="1.2"/>
<text transform="translate(636.40,574.80) rotate(0.05) scale(0.96,1)" font-size="9.9" text-anchor="end" fill="#111" stroke="#111" stroke-width="0.18">1.00</text>
<path d="M645.60 739.8V743.6" stroke="#000" stroke-width="1.2"/>
<text transform="translate(645.60,753.00) rotate(0.05) scale(1.075,1)" font-size="9.2" text-anchor="middle" fill="#111" stroke="#111" stroke-width="0.18">0</text>
<path d="M699.30 739.8V743.6" stroke="#000" stroke-width="1.2"/>
<text transform="translate(699.30,753.00) rotate(0.05) scale(1.075,1)" font-size="9.2" text-anchor="middle" fill="#111" stroke="#111" stroke-width="0.18">10</text>
<path d="M753.00 739.8V743.6" stroke="#000" stroke-width="1.2"/>
<text transform="translate(753.00,753.00) rotate(0.05) scale(1.075,1)" font-size="9.2" text-anchor="middle" fill="#111" stroke="#111" stroke-width="0.18">20</text>
<text transform="translate(609.70,653.40) rotate(-89.95) scale(1.075,1)" font-size="11.0" text-anchor="middle" fill="#111" stroke="#111" stroke-width="0.18">Survival probability</text>
<text transform="translate(721.60,765.00) rotate(0.05) scale(1.075,1)" font-size="11.0" text-anchor="middle" fill="#111" stroke="#111" stroke-width="0.18">PFS (months)</text>
<path d="M645.6 571.3 L672.6 571.3 L672.6 626.3 L695.6 626.3 L695.6 681.0 L796.7 681.0 L796.7 735.2" fill="none" stroke="#4DBBD5" stroke-width="1.4" stroke-linejoin="miter"/>
<path d="M645.6 571.3 L656.2 571.3 L656.2 604.2 L697.3 604.2 L697.3 648.1 L722.0 648.1 L722.0 691.6 L783.8 691.6 L783.8 735.2" fill="none" stroke="#E64B35" stroke-width="1.4" stroke-linejoin="miter"/>
<path d="M645.6 571.3 L667.2 571.3 L667.2 626.3 L673.3 626.3 L673.3 681.5" fill="none" stroke="#9FD389" stroke-width="1.3" stroke-linejoin="miter"/>
<path d="M659.4 604.2H663.8M661.6 602.0V606.4" stroke="#E64B35" stroke-width="0.9" fill="none"/>
<path d="M671.4 681.5H675.8M673.6 679.3V683.7" stroke="#9FD389" stroke-width="0.9" fill="none"/>
<path d="M773.6 576.90H782.0" stroke="#4DBBD5" stroke-width="1.1"/>
<text transform="translate(786.60,580.30) rotate(0.05) scale(1.075,1)" font-size="9.6" fill="#111" stroke="#111" stroke-width="0.18">C1 (n=3)</text>
<path d="M773.6 587.05H782.0" stroke="#E64B35" stroke-width="1.1"/>
<text transform="translate(786.60,590.45) rotate(0.05) scale(1.075,1)" font-size="9.6" fill="#111" stroke="#111" stroke-width="0.18">C2 (n=5)</text>
<path d="M773.6 597.20H782.0" stroke="#9FD389" stroke-width="1.1"/>
<text transform="translate(786.60,600.60) rotate(0.05) scale(1.075,1)" font-size="9.6" fill="#111" stroke="#111" stroke-width="0.18">C3 (n=3)</text>
<text transform="translate(703.90,642.40) rotate(0.05) scale(1.075,1)" font-size="11.0" fill="#111" stroke="#111" stroke-width="0.18">Median: 14.2 mo</text>
<text transform="translate(750.50,675.30) rotate(0.05) scale(1.075,1)" font-size="11.0" fill="#111" stroke="#111" stroke-width="0.18">Median: 9.3 mo</text>
<text transform="translate(647.80,707.70) rotate(0.05) scale(1.075,1)" font-size="11.0" fill="#111" stroke="#111" stroke-width="0.18">Median: 5.1 mo</text>
<text transform="translate(645.60,735.50) rotate(0.05) scale(1.075,1)" font-size="9.5" fill="#111" stroke="#111" stroke-width="0.18"><tspan font-style="italic">P</tspan>=0.609</text>
</svg>
</body></html>
